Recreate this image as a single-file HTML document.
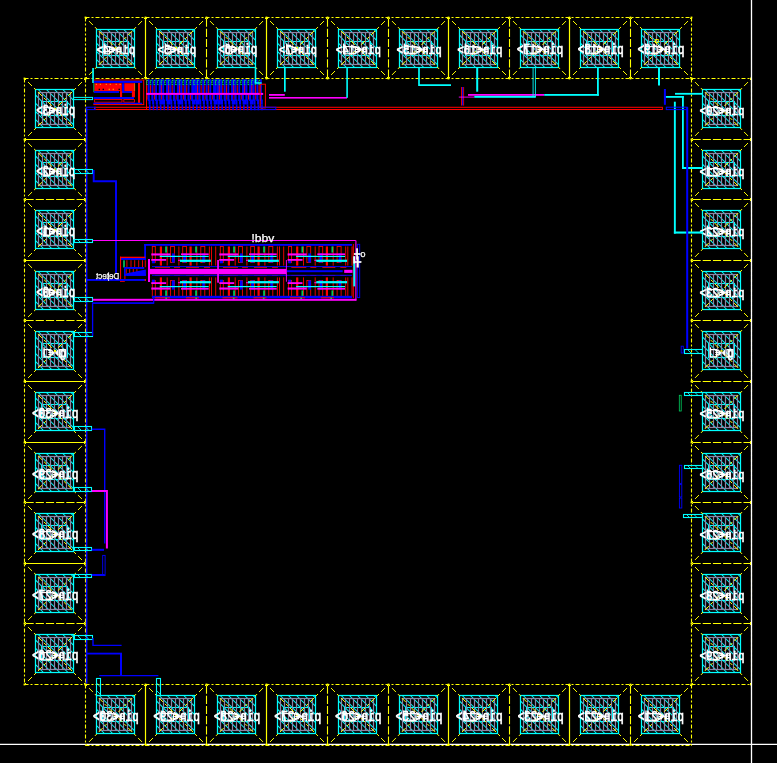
<!DOCTYPE html>
<html><head><meta charset="utf-8"><title>layout</title>
<style>html,body{margin:0;padding:0;background:#000;overflow:hidden}svg{display:block}.t{filter:grayscale(1)}</style></head>
<body>
<svg width="777" height="763" viewBox="0 0 777 763" font-family="Liberation Sans, sans-serif">
<rect width="777" height="763" fill="#000"/>
<line x1="0.00" y1="744.40" x2="777.00" y2="744.40" stroke="#fff" stroke-width="1.3" />
<g id="pads">
<line x1="85.50" y1="17.50" x2="691.50" y2="17.50" stroke="#ffff00" stroke-width="1.1" stroke-dasharray="4 2 2 2"/>
<line x1="85.50" y1="78.50" x2="691.50" y2="78.50" stroke="#ffff00" stroke-width="1.1" stroke-dasharray="4 2 2 2"/>
<line x1="85.50" y1="17.50" x2="85.50" y2="78.50" stroke="#ffff00" stroke-width="1.1" stroke-dasharray="4 2 2 2"/>
<line x1="691.50" y1="17.50" x2="691.50" y2="78.50" stroke="#ffff00" stroke-width="1.1" stroke-dasharray="4 2 2 2"/>
<line x1="145.50" y1="17.50" x2="145.50" y2="78.50" stroke="#ffff00" stroke-width="1.2" />
<line x1="206.50" y1="18.50" x2="206.50" y2="78.50" stroke="#ffff00" stroke-width="1.1" stroke-dasharray="8.2 2"/>
<line x1="266.50" y1="17.50" x2="266.50" y2="78.50" stroke="#ffff00" stroke-width="1.2" />
<line x1="327.50" y1="18.50" x2="327.50" y2="78.50" stroke="#ffff00" stroke-width="1.1" stroke-dasharray="8.2 2"/>
<line x1="388.50" y1="18.50" x2="388.50" y2="78.50" stroke="#ffff00" stroke-width="1.1" stroke-dasharray="8.2 2"/>
<line x1="448.50" y1="17.50" x2="448.50" y2="78.50" stroke="#ffff00" stroke-width="1.2" />
<line x1="509.50" y1="18.50" x2="509.50" y2="78.50" stroke="#ffff00" stroke-width="1.1" stroke-dasharray="8.2 2"/>
<line x1="569.50" y1="17.50" x2="569.50" y2="78.50" stroke="#ffff00" stroke-width="1.2" />
<line x1="630.50" y1="18.50" x2="630.50" y2="78.50" stroke="#ffff00" stroke-width="1.1" stroke-dasharray="8.2 2"/>
<line x1="85.50" y1="684.50" x2="691.50" y2="684.50" stroke="#ffff00" stroke-width="1.1" stroke-dasharray="4 2 2 2"/>
<line x1="85.50" y1="745.50" x2="691.50" y2="745.50" stroke="#ffff00" stroke-width="1.1" stroke-dasharray="4 2 2 2"/>
<line x1="85.50" y1="684.50" x2="85.50" y2="745.50" stroke="#ffff00" stroke-width="1.1" stroke-dasharray="4 2 2 2"/>
<line x1="691.50" y1="684.50" x2="691.50" y2="745.50" stroke="#ffff00" stroke-width="1.1" stroke-dasharray="4 2 2 2"/>
<line x1="145.50" y1="684.50" x2="145.50" y2="745.50" stroke="#ffff00" stroke-width="1.2" />
<line x1="206.50" y1="685.50" x2="206.50" y2="745.50" stroke="#ffff00" stroke-width="1.1" stroke-dasharray="8.2 2"/>
<line x1="266.50" y1="684.50" x2="266.50" y2="745.50" stroke="#ffff00" stroke-width="1.2" />
<line x1="327.50" y1="685.50" x2="327.50" y2="745.50" stroke="#ffff00" stroke-width="1.1" stroke-dasharray="8.2 2"/>
<line x1="388.50" y1="685.50" x2="388.50" y2="745.50" stroke="#ffff00" stroke-width="1.1" stroke-dasharray="8.2 2"/>
<line x1="448.50" y1="684.50" x2="448.50" y2="745.50" stroke="#ffff00" stroke-width="1.2" />
<line x1="509.50" y1="685.50" x2="509.50" y2="745.50" stroke="#ffff00" stroke-width="1.1" stroke-dasharray="8.2 2"/>
<line x1="569.50" y1="684.50" x2="569.50" y2="745.50" stroke="#ffff00" stroke-width="1.2" />
<line x1="630.50" y1="685.50" x2="630.50" y2="745.50" stroke="#ffff00" stroke-width="1.1" stroke-dasharray="8.2 2"/>
<line x1="24.50" y1="78.50" x2="24.50" y2="684.50" stroke="#ffff00" stroke-width="1.1" stroke-dasharray="4 2 2 2"/>
<line x1="85.50" y1="78.50" x2="85.50" y2="684.50" stroke="#ffff00" stroke-width="1.1" stroke-dasharray="4 2 2 2"/>
<line x1="24.50" y1="78.50" x2="85.50" y2="78.50" stroke="#ffff00" stroke-width="1.1" stroke-dasharray="4 2 2 2"/>
<line x1="24.50" y1="684.50" x2="85.50" y2="684.50" stroke="#ffff00" stroke-width="1.1" stroke-dasharray="4 2 2 2"/>
<line x1="24.50" y1="139.50" x2="85.50" y2="139.50" stroke="#ffff00" stroke-width="1.2" />
<line x1="25.50" y1="199.50" x2="85.50" y2="199.50" stroke="#ffff00" stroke-width="1.1" stroke-dasharray="8.2 2"/>
<line x1="24.50" y1="260.50" x2="85.50" y2="260.50" stroke="#ffff00" stroke-width="1.2" />
<line x1="25.50" y1="320.50" x2="85.50" y2="320.50" stroke="#ffff00" stroke-width="1.1" stroke-dasharray="8.2 2"/>
<line x1="24.50" y1="381.50" x2="85.50" y2="381.50" stroke="#ffff00" stroke-width="1.2" />
<line x1="24.50" y1="442.50" x2="85.50" y2="442.50" stroke="#ffff00" stroke-width="1.2" />
<line x1="25.50" y1="502.50" x2="85.50" y2="502.50" stroke="#ffff00" stroke-width="1.1" stroke-dasharray="8.2 2"/>
<line x1="24.50" y1="563.50" x2="85.50" y2="563.50" stroke="#ffff00" stroke-width="1.2" />
<line x1="25.50" y1="623.50" x2="85.50" y2="623.50" stroke="#ffff00" stroke-width="1.1" stroke-dasharray="8.2 2"/>
<line x1="691.50" y1="78.50" x2="691.50" y2="684.50" stroke="#ffff00" stroke-width="1.1" stroke-dasharray="4 2 2 2"/>
<line x1="751.50" y1="78.50" x2="751.50" y2="684.50" stroke="#ffff00" stroke-width="1.1" stroke-dasharray="4 2 2 2"/>
<line x1="691.50" y1="78.50" x2="751.50" y2="78.50" stroke="#ffff00" stroke-width="1.1" stroke-dasharray="4 2 2 2"/>
<line x1="691.50" y1="684.50" x2="751.50" y2="684.50" stroke="#ffff00" stroke-width="1.1" stroke-dasharray="4 2 2 2"/>
<line x1="692.50" y1="139.50" x2="751.50" y2="139.50" stroke="#ffff00" stroke-width="1.1" stroke-dasharray="8.2 2"/>
<line x1="692.50" y1="199.50" x2="751.50" y2="199.50" stroke="#ffff00" stroke-width="1.1" stroke-dasharray="8.2 2"/>
<line x1="692.50" y1="260.50" x2="751.50" y2="260.50" stroke="#ffff00" stroke-width="1.1" stroke-dasharray="8.2 2"/>
<line x1="692.50" y1="320.50" x2="751.50" y2="320.50" stroke="#ffff00" stroke-width="1.1" stroke-dasharray="8.2 2"/>
<line x1="692.50" y1="381.50" x2="751.50" y2="381.50" stroke="#ffff00" stroke-width="1.1" stroke-dasharray="8.2 2"/>
<line x1="692.50" y1="442.50" x2="751.50" y2="442.50" stroke="#ffff00" stroke-width="1.1" stroke-dasharray="8.2 2"/>
<line x1="692.50" y1="502.50" x2="751.50" y2="502.50" stroke="#ffff00" stroke-width="1.1" stroke-dasharray="8.2 2"/>
<line x1="692.50" y1="563.50" x2="751.50" y2="563.50" stroke="#ffff00" stroke-width="1.1" stroke-dasharray="8.2 2"/>
<line x1="692.50" y1="623.50" x2="751.50" y2="623.50" stroke="#ffff00" stroke-width="1.1" stroke-dasharray="8.2 2"/>
<clipPath id="c56"><rect x="96.50" y="29.50" width="38.00" height="38.00"/></clipPath>
<g clip-path="url(#c56)" stroke="#00ffff" stroke-width="1.05">
<line x1="50.00" y1="29.50" x2="88.00" y2="67.50"/>
<line x1="58.20" y1="29.50" x2="96.20" y2="67.50"/>
<line x1="66.40" y1="29.50" x2="104.40" y2="67.50"/>
<line x1="74.60" y1="29.50" x2="112.60" y2="67.50"/>
<line x1="82.80" y1="29.50" x2="120.80" y2="67.50"/>
<line x1="91.00" y1="29.50" x2="129.00" y2="67.50"/>
<line x1="99.20" y1="29.50" x2="137.20" y2="67.50"/>
<line x1="107.40" y1="29.50" x2="145.40" y2="67.50"/>
<line x1="115.60" y1="29.50" x2="153.60" y2="67.50"/>
<line x1="123.80" y1="29.50" x2="161.80" y2="67.50"/>
<line x1="132.00" y1="29.50" x2="170.00" y2="67.50"/>
</g>
<rect x="102.50" y="41.50" width="26.00" height="14.00" fill="none" stroke="#00ffff" stroke-width="1.1" />
<g stroke="#8c84a6" stroke-width="1.25" fill="none">
<rect x="99.50" y="32.50" width="32.00" height="32.00"/>
<line x1="103.50" y1="32.50" x2="103.50" y2="64.50"/>
<line x1="107.50" y1="32.50" x2="107.50" y2="64.50"/>
<line x1="111.50" y1="32.50" x2="111.50" y2="64.50"/>
<line x1="115.50" y1="32.50" x2="115.50" y2="64.50"/>
<line x1="119.50" y1="32.50" x2="119.50" y2="64.50"/>
<line x1="123.50" y1="32.50" x2="123.50" y2="64.50"/>
<line x1="127.50" y1="32.50" x2="127.50" y2="64.50"/>
</g>
<rect x="96.50" y="29.50" width="38.00" height="38.00" fill="none" stroke="#00ffff" stroke-width="1.25" />
<line x1="85.50" y1="17.50" x2="115.50" y2="48.00" stroke="#ffff00" stroke-width="1.0" stroke-dasharray="5.6 2.8 2.8 2.8" stroke-dashoffset="-5"/>
<line x1="145.50" y1="17.50" x2="115.50" y2="48.00" stroke="#ffff00" stroke-width="1.0" stroke-dasharray="5.6 2.8 2.8 2.8" stroke-dashoffset="-5"/>
<line x1="85.50" y1="78.50" x2="115.50" y2="48.00" stroke="#ffff00" stroke-width="1.0" stroke-dasharray="5.6 2.8 2.8 2.8" stroke-dashoffset="-5"/>
<line x1="145.50" y1="78.50" x2="115.50" y2="48.00" stroke="#ffff00" stroke-width="1.0" stroke-dasharray="5.6 2.8 2.8 2.8" stroke-dashoffset="-5"/>
<g class="t">
<text transform="translate(135.20,53.80) scale(-1,1.27)" x="0" y="0" font-family="Liberation Mono, monospace" font-size="10.78" fill="#fff" stroke="#fff" stroke-width="0.55">pin&lt;4&gt;</text>
<line x1="104.27" y1="43.40" x2="104.27" y2="53.80" stroke="#fff" stroke-width="1.25" />
<line x1="110.13" y1="51.60" x2="113.53" y2="51.60" stroke="#fff" stroke-width="1.15" />
<line x1="110.13" y1="49.40" x2="113.53" y2="49.40" stroke="#fff" stroke-width="1.15" />
<line x1="110.13" y1="47.40" x2="113.53" y2="47.40" stroke="#fff" stroke-width="1.15" />
<polygon points="112.53,46.00 118.33,53.20 118.33,46.00 112.53,53.20" fill="#fff"/>
<line x1="116.80" y1="51.60" x2="121.00" y2="51.60" stroke="#fff" stroke-width="1.15" />
<line x1="116.80" y1="49.20" x2="121.00" y2="49.20" stroke="#fff" stroke-width="1.15" />
<rect x="104.27" y="46.60" width="5.27" height="7.20" fill="none" stroke="#fff" stroke-width="1.15" />
</g>
<clipPath id="c97"><rect x="96.50" y="695.50" width="38.00" height="38.00"/></clipPath>
<g clip-path="url(#c97)" stroke="#00ffff" stroke-width="1.05">
<line x1="50.00" y1="695.50" x2="88.00" y2="733.50"/>
<line x1="58.20" y1="695.50" x2="96.20" y2="733.50"/>
<line x1="66.40" y1="695.50" x2="104.40" y2="733.50"/>
<line x1="74.60" y1="695.50" x2="112.60" y2="733.50"/>
<line x1="82.80" y1="695.50" x2="120.80" y2="733.50"/>
<line x1="91.00" y1="695.50" x2="129.00" y2="733.50"/>
<line x1="99.20" y1="695.50" x2="137.20" y2="733.50"/>
<line x1="107.40" y1="695.50" x2="145.40" y2="733.50"/>
<line x1="115.60" y1="695.50" x2="153.60" y2="733.50"/>
<line x1="123.80" y1="695.50" x2="161.80" y2="733.50"/>
<line x1="132.00" y1="695.50" x2="170.00" y2="733.50"/>
</g>
<rect x="102.50" y="707.50" width="26.00" height="14.00" fill="none" stroke="#00ffff" stroke-width="1.1" />
<g stroke="#8c84a6" stroke-width="1.25" fill="none">
<rect x="99.50" y="698.50" width="32.00" height="32.00"/>
<line x1="103.50" y1="698.50" x2="103.50" y2="730.50"/>
<line x1="107.50" y1="698.50" x2="107.50" y2="730.50"/>
<line x1="111.50" y1="698.50" x2="111.50" y2="730.50"/>
<line x1="115.50" y1="698.50" x2="115.50" y2="730.50"/>
<line x1="119.50" y1="698.50" x2="119.50" y2="730.50"/>
<line x1="123.50" y1="698.50" x2="123.50" y2="730.50"/>
<line x1="127.50" y1="698.50" x2="127.50" y2="730.50"/>
</g>
<rect x="96.50" y="695.50" width="38.00" height="38.00" fill="none" stroke="#00ffff" stroke-width="1.25" />
<line x1="85.50" y1="684.50" x2="115.50" y2="715.00" stroke="#ffff00" stroke-width="1.0" stroke-dasharray="5.6 2.8 2.8 2.8" stroke-dashoffset="-5"/>
<line x1="145.50" y1="684.50" x2="115.50" y2="715.00" stroke="#ffff00" stroke-width="1.0" stroke-dasharray="5.6 2.8 2.8 2.8" stroke-dashoffset="-5"/>
<line x1="85.50" y1="745.50" x2="115.50" y2="715.00" stroke="#ffff00" stroke-width="1.0" stroke-dasharray="5.6 2.8 2.8 2.8" stroke-dashoffset="-5"/>
<line x1="145.50" y1="745.50" x2="115.50" y2="715.00" stroke="#ffff00" stroke-width="1.0" stroke-dasharray="5.6 2.8 2.8 2.8" stroke-dashoffset="-5"/>
<g class="t">
<text transform="translate(138.80,720.80) scale(-1,1.27)" x="0" y="0" font-family="Liberation Mono, monospace" font-size="10.90" fill="#fff" stroke="#fff" stroke-width="0.55">pin&lt;30&gt;</text>
<line x1="100.94" y1="710.40" x2="100.94" y2="720.80" stroke="#fff" stroke-width="1.25" />
<line x1="113.43" y1="718.60" x2="116.83" y2="718.60" stroke="#fff" stroke-width="1.15" />
<line x1="113.43" y1="716.40" x2="116.83" y2="716.40" stroke="#fff" stroke-width="1.15" />
<line x1="113.43" y1="714.40" x2="116.83" y2="714.40" stroke="#fff" stroke-width="1.15" />
<polygon points="115.83,713.00 121.63,720.20 121.63,713.00 115.83,720.20" fill="#fff"/>
<line x1="120.17" y1="718.60" x2="124.37" y2="718.60" stroke="#fff" stroke-width="1.15" />
<line x1="120.17" y1="716.20" x2="124.37" y2="716.20" stroke="#fff" stroke-width="1.15" />
<rect x="100.94" y="713.60" width="11.89" height="7.20" fill="none" stroke="#fff" stroke-width="1.15" />
</g>
<clipPath id="c138"><rect x="35.50" y="89.50" width="38.00" height="38.00"/></clipPath>
<g clip-path="url(#c138)" stroke="#00ffff" stroke-width="1.05">
<line x1="-11.00" y1="89.50" x2="27.00" y2="127.50"/>
<line x1="-2.80" y1="89.50" x2="35.20" y2="127.50"/>
<line x1="5.40" y1="89.50" x2="43.40" y2="127.50"/>
<line x1="13.60" y1="89.50" x2="51.60" y2="127.50"/>
<line x1="21.80" y1="89.50" x2="59.80" y2="127.50"/>
<line x1="30.00" y1="89.50" x2="68.00" y2="127.50"/>
<line x1="38.20" y1="89.50" x2="76.20" y2="127.50"/>
<line x1="46.40" y1="89.50" x2="84.40" y2="127.50"/>
<line x1="54.60" y1="89.50" x2="92.60" y2="127.50"/>
<line x1="62.80" y1="89.50" x2="100.80" y2="127.50"/>
<line x1="71.00" y1="89.50" x2="109.00" y2="127.50"/>
</g>
<rect x="41.50" y="101.50" width="26.00" height="14.00" fill="none" stroke="#00ffff" stroke-width="1.1" />
<g stroke="#8c84a6" stroke-width="1.25" fill="none">
<rect x="38.50" y="92.50" width="32.00" height="32.00"/>
<line x1="42.50" y1="92.50" x2="42.50" y2="124.50"/>
<line x1="46.50" y1="92.50" x2="46.50" y2="124.50"/>
<line x1="50.50" y1="92.50" x2="50.50" y2="124.50"/>
<line x1="54.50" y1="92.50" x2="54.50" y2="124.50"/>
<line x1="58.50" y1="92.50" x2="58.50" y2="124.50"/>
<line x1="62.50" y1="92.50" x2="62.50" y2="124.50"/>
<line x1="66.50" y1="92.50" x2="66.50" y2="124.50"/>
</g>
<rect x="35.50" y="89.50" width="38.00" height="38.00" fill="none" stroke="#00ffff" stroke-width="1.25" />
<line x1="24.50" y1="78.50" x2="55.00" y2="109.00" stroke="#ffff00" stroke-width="1.0" stroke-dasharray="5.6 2.8 2.8 2.8" stroke-dashoffset="-5"/>
<line x1="85.50" y1="78.50" x2="55.00" y2="109.00" stroke="#ffff00" stroke-width="1.0" stroke-dasharray="5.6 2.8 2.8 2.8" stroke-dashoffset="-5"/>
<line x1="24.50" y1="139.50" x2="55.00" y2="109.00" stroke="#ffff00" stroke-width="1.0" stroke-dasharray="5.6 2.8 2.8 2.8" stroke-dashoffset="-5"/>
<line x1="85.50" y1="139.50" x2="55.00" y2="109.00" stroke="#ffff00" stroke-width="1.0" stroke-dasharray="5.6 2.8 2.8 2.8" stroke-dashoffset="-5"/>
<g class="t">
<text transform="translate(75.30,114.80) scale(-1,1.27)" x="0" y="0" font-family="Liberation Mono, monospace" font-size="10.83" fill="#fff" stroke="#fff" stroke-width="0.55">pin&lt;3&gt;</text>
<line x1="44.20" y1="104.40" x2="44.20" y2="114.80" stroke="#fff" stroke-width="1.25" />
<line x1="50.10" y1="112.60" x2="53.50" y2="112.60" stroke="#fff" stroke-width="1.15" />
<line x1="50.10" y1="110.40" x2="53.50" y2="110.40" stroke="#fff" stroke-width="1.15" />
<line x1="50.10" y1="108.40" x2="53.50" y2="108.40" stroke="#fff" stroke-width="1.15" />
<polygon points="52.50,107.00 58.30,114.20 58.30,107.00 52.50,114.20" fill="#fff"/>
<line x1="56.80" y1="112.60" x2="61.00" y2="112.60" stroke="#fff" stroke-width="1.15" />
<line x1="56.80" y1="110.20" x2="61.00" y2="110.20" stroke="#fff" stroke-width="1.15" />
<rect x="44.20" y="107.60" width="5.30" height="7.20" fill="none" stroke="#fff" stroke-width="1.15" />
</g>
<clipPath id="c179"><rect x="702.50" y="89.50" width="38.00" height="38.00"/></clipPath>
<g clip-path="url(#c179)" stroke="#00ffff" stroke-width="1.05">
<line x1="656.00" y1="89.50" x2="694.00" y2="127.50"/>
<line x1="664.20" y1="89.50" x2="702.20" y2="127.50"/>
<line x1="672.40" y1="89.50" x2="710.40" y2="127.50"/>
<line x1="680.60" y1="89.50" x2="718.60" y2="127.50"/>
<line x1="688.80" y1="89.50" x2="726.80" y2="127.50"/>
<line x1="697.00" y1="89.50" x2="735.00" y2="127.50"/>
<line x1="705.20" y1="89.50" x2="743.20" y2="127.50"/>
<line x1="713.40" y1="89.50" x2="751.40" y2="127.50"/>
<line x1="721.60" y1="89.50" x2="759.60" y2="127.50"/>
<line x1="729.80" y1="89.50" x2="767.80" y2="127.50"/>
<line x1="738.00" y1="89.50" x2="776.00" y2="127.50"/>
</g>
<rect x="708.50" y="101.50" width="26.00" height="14.00" fill="none" stroke="#00ffff" stroke-width="1.1" />
<g stroke="#8c84a6" stroke-width="1.25" fill="none">
<rect x="705.50" y="92.50" width="32.00" height="32.00"/>
<line x1="709.50" y1="92.50" x2="709.50" y2="124.50"/>
<line x1="713.50" y1="92.50" x2="713.50" y2="124.50"/>
<line x1="717.50" y1="92.50" x2="717.50" y2="124.50"/>
<line x1="721.50" y1="92.50" x2="721.50" y2="124.50"/>
<line x1="725.50" y1="92.50" x2="725.50" y2="124.50"/>
<line x1="729.50" y1="92.50" x2="729.50" y2="124.50"/>
<line x1="733.50" y1="92.50" x2="733.50" y2="124.50"/>
</g>
<rect x="702.50" y="89.50" width="38.00" height="38.00" fill="none" stroke="#00ffff" stroke-width="1.25" />
<line x1="691.50" y1="78.50" x2="721.50" y2="109.00" stroke="#ffff00" stroke-width="1.0" stroke-dasharray="5.6 2.8 2.8 2.8" stroke-dashoffset="-5"/>
<line x1="751.50" y1="78.50" x2="721.50" y2="109.00" stroke="#ffff00" stroke-width="1.0" stroke-dasharray="5.6 2.8 2.8 2.8" stroke-dashoffset="-5"/>
<line x1="691.50" y1="139.50" x2="721.50" y2="109.00" stroke="#ffff00" stroke-width="1.0" stroke-dasharray="5.6 2.8 2.8 2.8" stroke-dashoffset="-5"/>
<line x1="751.50" y1="139.50" x2="721.50" y2="109.00" stroke="#ffff00" stroke-width="1.0" stroke-dasharray="5.6 2.8 2.8 2.8" stroke-dashoffset="-5"/>
<g class="t">
<text transform="translate(744.50,114.80) scale(-1,1.27)" x="0" y="0" font-family="Liberation Mono, monospace" font-size="10.71" fill="#fff" stroke="#fff" stroke-width="0.55">pin&lt;20&gt;</text>
<line x1="707.33" y1="104.40" x2="707.33" y2="114.80" stroke="#fff" stroke-width="1.25" />
<line x1="719.59" y1="112.60" x2="722.99" y2="112.60" stroke="#fff" stroke-width="1.15" />
<line x1="719.59" y1="110.40" x2="722.99" y2="110.40" stroke="#fff" stroke-width="1.15" />
<line x1="719.59" y1="108.40" x2="722.99" y2="108.40" stroke="#fff" stroke-width="1.15" />
<polygon points="721.99,107.00 727.79,114.20 727.79,107.00 721.99,114.20" fill="#fff"/>
<line x1="726.21" y1="112.60" x2="730.41" y2="112.60" stroke="#fff" stroke-width="1.15" />
<line x1="726.21" y1="110.20" x2="730.41" y2="110.20" stroke="#fff" stroke-width="1.15" />
<rect x="707.33" y="107.60" width="11.66" height="7.20" fill="none" stroke="#fff" stroke-width="1.15" />
</g>
<clipPath id="c220"><rect x="156.50" y="29.50" width="38.00" height="38.00"/></clipPath>
<g clip-path="url(#c220)" stroke="#00ffff" stroke-width="1.05">
<line x1="110.00" y1="29.50" x2="148.00" y2="67.50"/>
<line x1="118.20" y1="29.50" x2="156.20" y2="67.50"/>
<line x1="126.40" y1="29.50" x2="164.40" y2="67.50"/>
<line x1="134.60" y1="29.50" x2="172.60" y2="67.50"/>
<line x1="142.80" y1="29.50" x2="180.80" y2="67.50"/>
<line x1="151.00" y1="29.50" x2="189.00" y2="67.50"/>
<line x1="159.20" y1="29.50" x2="197.20" y2="67.50"/>
<line x1="167.40" y1="29.50" x2="205.40" y2="67.50"/>
<line x1="175.60" y1="29.50" x2="213.60" y2="67.50"/>
<line x1="183.80" y1="29.50" x2="221.80" y2="67.50"/>
<line x1="192.00" y1="29.50" x2="230.00" y2="67.50"/>
</g>
<rect x="162.50" y="41.50" width="26.00" height="14.00" fill="none" stroke="#00ffff" stroke-width="1.1" />
<g stroke="#8c84a6" stroke-width="1.25" fill="none">
<rect x="159.50" y="32.50" width="32.00" height="32.00"/>
<line x1="163.50" y1="32.50" x2="163.50" y2="64.50"/>
<line x1="167.50" y1="32.50" x2="167.50" y2="64.50"/>
<line x1="171.50" y1="32.50" x2="171.50" y2="64.50"/>
<line x1="175.50" y1="32.50" x2="175.50" y2="64.50"/>
<line x1="179.50" y1="32.50" x2="179.50" y2="64.50"/>
<line x1="183.50" y1="32.50" x2="183.50" y2="64.50"/>
<line x1="187.50" y1="32.50" x2="187.50" y2="64.50"/>
</g>
<rect x="156.50" y="29.50" width="38.00" height="38.00" fill="none" stroke="#00ffff" stroke-width="1.25" />
<line x1="145.50" y1="17.50" x2="176.00" y2="48.00" stroke="#ffff00" stroke-width="1.0" stroke-dasharray="5.6 2.8 2.8 2.8" stroke-dashoffset="-5"/>
<line x1="206.50" y1="17.50" x2="176.00" y2="48.00" stroke="#ffff00" stroke-width="1.0" stroke-dasharray="5.6 2.8 2.8 2.8" stroke-dashoffset="-5"/>
<line x1="145.50" y1="78.50" x2="176.00" y2="48.00" stroke="#ffff00" stroke-width="1.0" stroke-dasharray="5.6 2.8 2.8 2.8" stroke-dashoffset="-5"/>
<line x1="206.50" y1="78.50" x2="176.00" y2="48.00" stroke="#ffff00" stroke-width="1.0" stroke-dasharray="5.6 2.8 2.8 2.8" stroke-dashoffset="-5"/>
<g class="t">
<text transform="translate(196.30,53.80) scale(-1,1.27)" x="0" y="0" font-family="Liberation Mono, monospace" font-size="10.78" fill="#fff" stroke="#fff" stroke-width="0.55">pin&lt;5&gt;</text>
<line x1="165.37" y1="43.40" x2="165.37" y2="53.80" stroke="#fff" stroke-width="1.25" />
<line x1="171.23" y1="51.60" x2="174.63" y2="51.60" stroke="#fff" stroke-width="1.15" />
<line x1="171.23" y1="49.40" x2="174.63" y2="49.40" stroke="#fff" stroke-width="1.15" />
<line x1="171.23" y1="47.40" x2="174.63" y2="47.40" stroke="#fff" stroke-width="1.15" />
<polygon points="173.63,46.00 179.43,53.20 179.43,46.00 173.63,53.20" fill="#fff"/>
<line x1="177.90" y1="51.60" x2="182.10" y2="51.60" stroke="#fff" stroke-width="1.15" />
<line x1="177.90" y1="49.20" x2="182.10" y2="49.20" stroke="#fff" stroke-width="1.15" />
<rect x="165.37" y="46.60" width="5.27" height="7.20" fill="none" stroke="#fff" stroke-width="1.15" />
</g>
<clipPath id="c261"><rect x="156.50" y="695.50" width="38.00" height="38.00"/></clipPath>
<g clip-path="url(#c261)" stroke="#00ffff" stroke-width="1.05">
<line x1="110.00" y1="695.50" x2="148.00" y2="733.50"/>
<line x1="118.20" y1="695.50" x2="156.20" y2="733.50"/>
<line x1="126.40" y1="695.50" x2="164.40" y2="733.50"/>
<line x1="134.60" y1="695.50" x2="172.60" y2="733.50"/>
<line x1="142.80" y1="695.50" x2="180.80" y2="733.50"/>
<line x1="151.00" y1="695.50" x2="189.00" y2="733.50"/>
<line x1="159.20" y1="695.50" x2="197.20" y2="733.50"/>
<line x1="167.40" y1="695.50" x2="205.40" y2="733.50"/>
<line x1="175.60" y1="695.50" x2="213.60" y2="733.50"/>
<line x1="183.80" y1="695.50" x2="221.80" y2="733.50"/>
<line x1="192.00" y1="695.50" x2="230.00" y2="733.50"/>
</g>
<rect x="162.50" y="707.50" width="26.00" height="14.00" fill="none" stroke="#00ffff" stroke-width="1.1" />
<g stroke="#8c84a6" stroke-width="1.25" fill="none">
<rect x="159.50" y="698.50" width="32.00" height="32.00"/>
<line x1="163.50" y1="698.50" x2="163.50" y2="730.50"/>
<line x1="167.50" y1="698.50" x2="167.50" y2="730.50"/>
<line x1="171.50" y1="698.50" x2="171.50" y2="730.50"/>
<line x1="175.50" y1="698.50" x2="175.50" y2="730.50"/>
<line x1="179.50" y1="698.50" x2="179.50" y2="730.50"/>
<line x1="183.50" y1="698.50" x2="183.50" y2="730.50"/>
<line x1="187.50" y1="698.50" x2="187.50" y2="730.50"/>
</g>
<rect x="156.50" y="695.50" width="38.00" height="38.00" fill="none" stroke="#00ffff" stroke-width="1.25" />
<line x1="145.50" y1="684.50" x2="176.00" y2="715.00" stroke="#ffff00" stroke-width="1.0" stroke-dasharray="5.6 2.8 2.8 2.8" stroke-dashoffset="-5"/>
<line x1="206.50" y1="684.50" x2="176.00" y2="715.00" stroke="#ffff00" stroke-width="1.0" stroke-dasharray="5.6 2.8 2.8 2.8" stroke-dashoffset="-5"/>
<line x1="145.50" y1="745.50" x2="176.00" y2="715.00" stroke="#ffff00" stroke-width="1.0" stroke-dasharray="5.6 2.8 2.8 2.8" stroke-dashoffset="-5"/>
<line x1="206.50" y1="745.50" x2="176.00" y2="715.00" stroke="#ffff00" stroke-width="1.0" stroke-dasharray="5.6 2.8 2.8 2.8" stroke-dashoffset="-5"/>
<g class="t">
<text transform="translate(200.00,720.80) scale(-1,1.27)" x="0" y="0" font-family="Liberation Mono, monospace" font-size="11.14" fill="#fff" stroke="#fff" stroke-width="0.55">pin&lt;29&gt;</text>
<line x1="161.29" y1="710.40" x2="161.29" y2="720.80" stroke="#fff" stroke-width="1.25" />
<line x1="174.06" y1="718.60" x2="177.46" y2="718.60" stroke="#fff" stroke-width="1.15" />
<line x1="174.06" y1="716.40" x2="177.46" y2="716.40" stroke="#fff" stroke-width="1.15" />
<line x1="174.06" y1="714.40" x2="177.46" y2="714.40" stroke="#fff" stroke-width="1.15" />
<polygon points="176.46,713.00 182.26,720.20 182.26,713.00 176.46,720.20" fill="#fff"/>
<line x1="180.94" y1="718.60" x2="185.14" y2="718.60" stroke="#fff" stroke-width="1.15" />
<line x1="180.94" y1="716.20" x2="185.14" y2="716.20" stroke="#fff" stroke-width="1.15" />
<rect x="161.29" y="713.60" width="12.17" height="7.20" fill="none" stroke="#fff" stroke-width="1.15" />
</g>
<clipPath id="c302"><rect x="35.50" y="150.50" width="38.00" height="38.00"/></clipPath>
<g clip-path="url(#c302)" stroke="#00ffff" stroke-width="1.05">
<line x1="-11.00" y1="150.50" x2="27.00" y2="188.50"/>
<line x1="-2.80" y1="150.50" x2="35.20" y2="188.50"/>
<line x1="5.40" y1="150.50" x2="43.40" y2="188.50"/>
<line x1="13.60" y1="150.50" x2="51.60" y2="188.50"/>
<line x1="21.80" y1="150.50" x2="59.80" y2="188.50"/>
<line x1="30.00" y1="150.50" x2="68.00" y2="188.50"/>
<line x1="38.20" y1="150.50" x2="76.20" y2="188.50"/>
<line x1="46.40" y1="150.50" x2="84.40" y2="188.50"/>
<line x1="54.60" y1="150.50" x2="92.60" y2="188.50"/>
<line x1="62.80" y1="150.50" x2="100.80" y2="188.50"/>
<line x1="71.00" y1="150.50" x2="109.00" y2="188.50"/>
</g>
<rect x="41.50" y="162.50" width="26.00" height="14.00" fill="none" stroke="#00ffff" stroke-width="1.1" />
<g stroke="#8c84a6" stroke-width="1.25" fill="none">
<rect x="38.50" y="153.50" width="32.00" height="32.00"/>
<line x1="42.50" y1="153.50" x2="42.50" y2="185.50"/>
<line x1="46.50" y1="153.50" x2="46.50" y2="185.50"/>
<line x1="50.50" y1="153.50" x2="50.50" y2="185.50"/>
<line x1="54.50" y1="153.50" x2="54.50" y2="185.50"/>
<line x1="58.50" y1="153.50" x2="58.50" y2="185.50"/>
<line x1="62.50" y1="153.50" x2="62.50" y2="185.50"/>
<line x1="66.50" y1="153.50" x2="66.50" y2="185.50"/>
</g>
<rect x="35.50" y="150.50" width="38.00" height="38.00" fill="none" stroke="#00ffff" stroke-width="1.25" />
<line x1="24.50" y1="139.50" x2="55.00" y2="169.50" stroke="#ffff00" stroke-width="1.0" stroke-dasharray="5.6 2.8 2.8 2.8" stroke-dashoffset="-5"/>
<line x1="85.50" y1="139.50" x2="55.00" y2="169.50" stroke="#ffff00" stroke-width="1.0" stroke-dasharray="5.6 2.8 2.8 2.8" stroke-dashoffset="-5"/>
<line x1="24.50" y1="199.50" x2="55.00" y2="169.50" stroke="#ffff00" stroke-width="1.0" stroke-dasharray="5.6 2.8 2.8 2.8" stroke-dashoffset="-5"/>
<line x1="85.50" y1="199.50" x2="55.00" y2="169.50" stroke="#ffff00" stroke-width="1.0" stroke-dasharray="5.6 2.8 2.8 2.8" stroke-dashoffset="-5"/>
<g class="t">
<text transform="translate(75.30,175.80) scale(-1,1.27)" x="0" y="0" font-family="Liberation Mono, monospace" font-size="10.83" fill="#fff" stroke="#fff" stroke-width="0.55">pin&lt;2&gt;</text>
<line x1="44.20" y1="165.40" x2="44.20" y2="175.80" stroke="#fff" stroke-width="1.25" />
<line x1="50.10" y1="173.60" x2="53.50" y2="173.60" stroke="#fff" stroke-width="1.15" />
<line x1="50.10" y1="171.40" x2="53.50" y2="171.40" stroke="#fff" stroke-width="1.15" />
<line x1="50.10" y1="169.40" x2="53.50" y2="169.40" stroke="#fff" stroke-width="1.15" />
<polygon points="52.50,168.00 58.30,175.20 58.30,168.00 52.50,175.20" fill="#fff"/>
<line x1="56.80" y1="173.60" x2="61.00" y2="173.60" stroke="#fff" stroke-width="1.15" />
<line x1="56.80" y1="171.20" x2="61.00" y2="171.20" stroke="#fff" stroke-width="1.15" />
<rect x="44.20" y="168.60" width="5.30" height="7.20" fill="none" stroke="#fff" stroke-width="1.15" />
</g>
<clipPath id="c343"><rect x="702.50" y="150.50" width="38.00" height="38.00"/></clipPath>
<g clip-path="url(#c343)" stroke="#00ffff" stroke-width="1.05">
<line x1="656.00" y1="150.50" x2="694.00" y2="188.50"/>
<line x1="664.20" y1="150.50" x2="702.20" y2="188.50"/>
<line x1="672.40" y1="150.50" x2="710.40" y2="188.50"/>
<line x1="680.60" y1="150.50" x2="718.60" y2="188.50"/>
<line x1="688.80" y1="150.50" x2="726.80" y2="188.50"/>
<line x1="697.00" y1="150.50" x2="735.00" y2="188.50"/>
<line x1="705.20" y1="150.50" x2="743.20" y2="188.50"/>
<line x1="713.40" y1="150.50" x2="751.40" y2="188.50"/>
<line x1="721.60" y1="150.50" x2="759.60" y2="188.50"/>
<line x1="729.80" y1="150.50" x2="767.80" y2="188.50"/>
<line x1="738.00" y1="150.50" x2="776.00" y2="188.50"/>
</g>
<rect x="708.50" y="162.50" width="26.00" height="14.00" fill="none" stroke="#00ffff" stroke-width="1.1" />
<g stroke="#8c84a6" stroke-width="1.25" fill="none">
<rect x="705.50" y="153.50" width="32.00" height="32.00"/>
<line x1="709.50" y1="153.50" x2="709.50" y2="185.50"/>
<line x1="713.50" y1="153.50" x2="713.50" y2="185.50"/>
<line x1="717.50" y1="153.50" x2="717.50" y2="185.50"/>
<line x1="721.50" y1="153.50" x2="721.50" y2="185.50"/>
<line x1="725.50" y1="153.50" x2="725.50" y2="185.50"/>
<line x1="729.50" y1="153.50" x2="729.50" y2="185.50"/>
<line x1="733.50" y1="153.50" x2="733.50" y2="185.50"/>
</g>
<rect x="702.50" y="150.50" width="38.00" height="38.00" fill="none" stroke="#00ffff" stroke-width="1.25" />
<line x1="691.50" y1="139.50" x2="721.50" y2="169.50" stroke="#ffff00" stroke-width="1.0" stroke-dasharray="5.6 2.8 2.8 2.8" stroke-dashoffset="-5"/>
<line x1="751.50" y1="139.50" x2="721.50" y2="169.50" stroke="#ffff00" stroke-width="1.0" stroke-dasharray="5.6 2.8 2.8 2.8" stroke-dashoffset="-5"/>
<line x1="691.50" y1="199.50" x2="721.50" y2="169.50" stroke="#ffff00" stroke-width="1.0" stroke-dasharray="5.6 2.8 2.8 2.8" stroke-dashoffset="-5"/>
<line x1="751.50" y1="199.50" x2="721.50" y2="169.50" stroke="#ffff00" stroke-width="1.0" stroke-dasharray="5.6 2.8 2.8 2.8" stroke-dashoffset="-5"/>
<g class="t">
<text transform="translate(744.50,175.80) scale(-1,1.27)" x="0" y="0" font-family="Liberation Mono, monospace" font-size="10.71" fill="#fff" stroke="#fff" stroke-width="0.55">pin&lt;21&gt;</text>
<line x1="707.33" y1="165.40" x2="707.33" y2="175.80" stroke="#fff" stroke-width="1.25" />
<line x1="719.59" y1="173.60" x2="722.99" y2="173.60" stroke="#fff" stroke-width="1.15" />
<line x1="719.59" y1="171.40" x2="722.99" y2="171.40" stroke="#fff" stroke-width="1.15" />
<line x1="719.59" y1="169.40" x2="722.99" y2="169.40" stroke="#fff" stroke-width="1.15" />
<polygon points="721.99,168.00 727.79,175.20 727.79,168.00 721.99,175.20" fill="#fff"/>
<line x1="726.21" y1="173.60" x2="730.41" y2="173.60" stroke="#fff" stroke-width="1.15" />
<line x1="726.21" y1="171.20" x2="730.41" y2="171.20" stroke="#fff" stroke-width="1.15" />
<rect x="707.33" y="168.60" width="11.66" height="7.20" fill="none" stroke="#fff" stroke-width="1.15" />
</g>
<clipPath id="c384"><rect x="217.50" y="29.50" width="38.00" height="38.00"/></clipPath>
<g clip-path="url(#c384)" stroke="#00ffff" stroke-width="1.05">
<line x1="171.00" y1="29.50" x2="209.00" y2="67.50"/>
<line x1="179.20" y1="29.50" x2="217.20" y2="67.50"/>
<line x1="187.40" y1="29.50" x2="225.40" y2="67.50"/>
<line x1="195.60" y1="29.50" x2="233.60" y2="67.50"/>
<line x1="203.80" y1="29.50" x2="241.80" y2="67.50"/>
<line x1="212.00" y1="29.50" x2="250.00" y2="67.50"/>
<line x1="220.20" y1="29.50" x2="258.20" y2="67.50"/>
<line x1="228.40" y1="29.50" x2="266.40" y2="67.50"/>
<line x1="236.60" y1="29.50" x2="274.60" y2="67.50"/>
<line x1="244.80" y1="29.50" x2="282.80" y2="67.50"/>
<line x1="253.00" y1="29.50" x2="291.00" y2="67.50"/>
</g>
<rect x="223.50" y="41.50" width="26.00" height="14.00" fill="none" stroke="#00ffff" stroke-width="1.1" />
<g stroke="#8c84a6" stroke-width="1.25" fill="none">
<rect x="220.50" y="32.50" width="32.00" height="32.00"/>
<line x1="224.50" y1="32.50" x2="224.50" y2="64.50"/>
<line x1="228.50" y1="32.50" x2="228.50" y2="64.50"/>
<line x1="232.50" y1="32.50" x2="232.50" y2="64.50"/>
<line x1="236.50" y1="32.50" x2="236.50" y2="64.50"/>
<line x1="240.50" y1="32.50" x2="240.50" y2="64.50"/>
<line x1="244.50" y1="32.50" x2="244.50" y2="64.50"/>
<line x1="248.50" y1="32.50" x2="248.50" y2="64.50"/>
</g>
<rect x="217.50" y="29.50" width="38.00" height="38.00" fill="none" stroke="#00ffff" stroke-width="1.25" />
<line x1="206.50" y1="17.50" x2="236.50" y2="48.00" stroke="#ffff00" stroke-width="1.0" stroke-dasharray="5.6 2.8 2.8 2.8" stroke-dashoffset="-5"/>
<line x1="266.50" y1="17.50" x2="236.50" y2="48.00" stroke="#ffff00" stroke-width="1.0" stroke-dasharray="5.6 2.8 2.8 2.8" stroke-dashoffset="-5"/>
<line x1="206.50" y1="78.50" x2="236.50" y2="48.00" stroke="#ffff00" stroke-width="1.0" stroke-dasharray="5.6 2.8 2.8 2.8" stroke-dashoffset="-5"/>
<line x1="266.50" y1="78.50" x2="236.50" y2="48.00" stroke="#ffff00" stroke-width="1.0" stroke-dasharray="5.6 2.8 2.8 2.8" stroke-dashoffset="-5"/>
<g class="t">
<text transform="translate(257.30,53.80) scale(-1,1.27)" x="0" y="0" font-family="Liberation Mono, monospace" font-size="10.83" fill="#fff" stroke="#fff" stroke-width="0.55">pin&lt;6&gt;</text>
<line x1="226.20" y1="43.40" x2="226.20" y2="53.80" stroke="#fff" stroke-width="1.25" />
<line x1="232.10" y1="51.60" x2="235.50" y2="51.60" stroke="#fff" stroke-width="1.15" />
<line x1="232.10" y1="49.40" x2="235.50" y2="49.40" stroke="#fff" stroke-width="1.15" />
<line x1="232.10" y1="47.40" x2="235.50" y2="47.40" stroke="#fff" stroke-width="1.15" />
<polygon points="234.50,46.00 240.30,53.20 240.30,46.00 234.50,53.20" fill="#fff"/>
<line x1="238.80" y1="51.60" x2="243.00" y2="51.60" stroke="#fff" stroke-width="1.15" />
<line x1="238.80" y1="49.20" x2="243.00" y2="49.20" stroke="#fff" stroke-width="1.15" />
<rect x="226.20" y="46.60" width="5.30" height="7.20" fill="none" stroke="#fff" stroke-width="1.15" />
</g>
<clipPath id="c425"><rect x="217.50" y="695.50" width="38.00" height="38.00"/></clipPath>
<g clip-path="url(#c425)" stroke="#00ffff" stroke-width="1.05">
<line x1="171.00" y1="695.50" x2="209.00" y2="733.50"/>
<line x1="179.20" y1="695.50" x2="217.20" y2="733.50"/>
<line x1="187.40" y1="695.50" x2="225.40" y2="733.50"/>
<line x1="195.60" y1="695.50" x2="233.60" y2="733.50"/>
<line x1="203.80" y1="695.50" x2="241.80" y2="733.50"/>
<line x1="212.00" y1="695.50" x2="250.00" y2="733.50"/>
<line x1="220.20" y1="695.50" x2="258.20" y2="733.50"/>
<line x1="228.40" y1="695.50" x2="266.40" y2="733.50"/>
<line x1="236.60" y1="695.50" x2="274.60" y2="733.50"/>
<line x1="244.80" y1="695.50" x2="282.80" y2="733.50"/>
<line x1="253.00" y1="695.50" x2="291.00" y2="733.50"/>
</g>
<rect x="223.50" y="707.50" width="26.00" height="14.00" fill="none" stroke="#00ffff" stroke-width="1.1" />
<g stroke="#8c84a6" stroke-width="1.25" fill="none">
<rect x="220.50" y="698.50" width="32.00" height="32.00"/>
<line x1="224.50" y1="698.50" x2="224.50" y2="730.50"/>
<line x1="228.50" y1="698.50" x2="228.50" y2="730.50"/>
<line x1="232.50" y1="698.50" x2="232.50" y2="730.50"/>
<line x1="236.50" y1="698.50" x2="236.50" y2="730.50"/>
<line x1="240.50" y1="698.50" x2="240.50" y2="730.50"/>
<line x1="244.50" y1="698.50" x2="244.50" y2="730.50"/>
<line x1="248.50" y1="698.50" x2="248.50" y2="730.50"/>
</g>
<rect x="217.50" y="695.50" width="38.00" height="38.00" fill="none" stroke="#00ffff" stroke-width="1.25" />
<line x1="206.50" y1="684.50" x2="236.50" y2="715.00" stroke="#ffff00" stroke-width="1.0" stroke-dasharray="5.6 2.8 2.8 2.8" stroke-dashoffset="-5"/>
<line x1="266.50" y1="684.50" x2="236.50" y2="715.00" stroke="#ffff00" stroke-width="1.0" stroke-dasharray="5.6 2.8 2.8 2.8" stroke-dashoffset="-5"/>
<line x1="206.50" y1="745.50" x2="236.50" y2="715.00" stroke="#ffff00" stroke-width="1.0" stroke-dasharray="5.6 2.8 2.8 2.8" stroke-dashoffset="-5"/>
<line x1="266.50" y1="745.50" x2="236.50" y2="715.00" stroke="#ffff00" stroke-width="1.0" stroke-dasharray="5.6 2.8 2.8 2.8" stroke-dashoffset="-5"/>
<g class="t">
<text transform="translate(260.30,720.80) scale(-1,1.27)" x="0" y="0" font-family="Liberation Mono, monospace" font-size="11.10" fill="#fff" stroke="#fff" stroke-width="0.55">pin&lt;28&gt;</text>
<line x1="221.76" y1="710.40" x2="221.76" y2="720.80" stroke="#fff" stroke-width="1.25" />
<line x1="234.47" y1="718.60" x2="237.87" y2="718.60" stroke="#fff" stroke-width="1.15" />
<line x1="234.47" y1="716.40" x2="237.87" y2="716.40" stroke="#fff" stroke-width="1.15" />
<line x1="234.47" y1="714.40" x2="237.87" y2="714.40" stroke="#fff" stroke-width="1.15" />
<polygon points="236.87,713.00 242.67,720.20 242.67,713.00 236.87,720.20" fill="#fff"/>
<line x1="241.33" y1="718.60" x2="245.53" y2="718.60" stroke="#fff" stroke-width="1.15" />
<line x1="241.33" y1="716.20" x2="245.53" y2="716.20" stroke="#fff" stroke-width="1.15" />
<rect x="221.76" y="713.60" width="12.11" height="7.20" fill="none" stroke="#fff" stroke-width="1.15" />
</g>
<clipPath id="c466"><rect x="35.50" y="210.50" width="38.00" height="38.00"/></clipPath>
<g clip-path="url(#c466)" stroke="#00ffff" stroke-width="1.05">
<line x1="-11.00" y1="210.50" x2="27.00" y2="248.50"/>
<line x1="-2.80" y1="210.50" x2="35.20" y2="248.50"/>
<line x1="5.40" y1="210.50" x2="43.40" y2="248.50"/>
<line x1="13.60" y1="210.50" x2="51.60" y2="248.50"/>
<line x1="21.80" y1="210.50" x2="59.80" y2="248.50"/>
<line x1="30.00" y1="210.50" x2="68.00" y2="248.50"/>
<line x1="38.20" y1="210.50" x2="76.20" y2="248.50"/>
<line x1="46.40" y1="210.50" x2="84.40" y2="248.50"/>
<line x1="54.60" y1="210.50" x2="92.60" y2="248.50"/>
<line x1="62.80" y1="210.50" x2="100.80" y2="248.50"/>
<line x1="71.00" y1="210.50" x2="109.00" y2="248.50"/>
</g>
<rect x="41.50" y="222.50" width="26.00" height="14.00" fill="none" stroke="#00ffff" stroke-width="1.1" />
<g stroke="#8c84a6" stroke-width="1.25" fill="none">
<rect x="38.50" y="213.50" width="32.00" height="32.00"/>
<line x1="42.50" y1="213.50" x2="42.50" y2="245.50"/>
<line x1="46.50" y1="213.50" x2="46.50" y2="245.50"/>
<line x1="50.50" y1="213.50" x2="50.50" y2="245.50"/>
<line x1="54.50" y1="213.50" x2="54.50" y2="245.50"/>
<line x1="58.50" y1="213.50" x2="58.50" y2="245.50"/>
<line x1="62.50" y1="213.50" x2="62.50" y2="245.50"/>
<line x1="66.50" y1="213.50" x2="66.50" y2="245.50"/>
</g>
<rect x="35.50" y="210.50" width="38.00" height="38.00" fill="none" stroke="#00ffff" stroke-width="1.25" />
<line x1="24.50" y1="199.50" x2="55.00" y2="230.00" stroke="#ffff00" stroke-width="1.0" stroke-dasharray="5.6 2.8 2.8 2.8" stroke-dashoffset="-5"/>
<line x1="85.50" y1="199.50" x2="55.00" y2="230.00" stroke="#ffff00" stroke-width="1.0" stroke-dasharray="5.6 2.8 2.8 2.8" stroke-dashoffset="-5"/>
<line x1="24.50" y1="260.50" x2="55.00" y2="230.00" stroke="#ffff00" stroke-width="1.0" stroke-dasharray="5.6 2.8 2.8 2.8" stroke-dashoffset="-5"/>
<line x1="85.50" y1="260.50" x2="55.00" y2="230.00" stroke="#ffff00" stroke-width="1.0" stroke-dasharray="5.6 2.8 2.8 2.8" stroke-dashoffset="-5"/>
<g class="t">
<text transform="translate(75.30,235.80) scale(-1,1.27)" x="0" y="0" font-family="Liberation Mono, monospace" font-size="10.83" fill="#fff" stroke="#fff" stroke-width="0.55">pin&lt;1&gt;</text>
<line x1="44.20" y1="225.40" x2="44.20" y2="235.80" stroke="#fff" stroke-width="1.25" />
<line x1="50.10" y1="233.60" x2="53.50" y2="233.60" stroke="#fff" stroke-width="1.15" />
<line x1="50.10" y1="231.40" x2="53.50" y2="231.40" stroke="#fff" stroke-width="1.15" />
<line x1="50.10" y1="229.40" x2="53.50" y2="229.40" stroke="#fff" stroke-width="1.15" />
<polygon points="52.50,228.00 58.30,235.20 58.30,228.00 52.50,235.20" fill="#fff"/>
<line x1="56.80" y1="233.60" x2="61.00" y2="233.60" stroke="#fff" stroke-width="1.15" />
<line x1="56.80" y1="231.20" x2="61.00" y2="231.20" stroke="#fff" stroke-width="1.15" />
<rect x="44.20" y="228.60" width="5.30" height="7.20" fill="none" stroke="#fff" stroke-width="1.15" />
</g>
<clipPath id="c507"><rect x="702.50" y="210.50" width="38.00" height="38.00"/></clipPath>
<g clip-path="url(#c507)" stroke="#00ffff" stroke-width="1.05">
<line x1="656.00" y1="210.50" x2="694.00" y2="248.50"/>
<line x1="664.20" y1="210.50" x2="702.20" y2="248.50"/>
<line x1="672.40" y1="210.50" x2="710.40" y2="248.50"/>
<line x1="680.60" y1="210.50" x2="718.60" y2="248.50"/>
<line x1="688.80" y1="210.50" x2="726.80" y2="248.50"/>
<line x1="697.00" y1="210.50" x2="735.00" y2="248.50"/>
<line x1="705.20" y1="210.50" x2="743.20" y2="248.50"/>
<line x1="713.40" y1="210.50" x2="751.40" y2="248.50"/>
<line x1="721.60" y1="210.50" x2="759.60" y2="248.50"/>
<line x1="729.80" y1="210.50" x2="767.80" y2="248.50"/>
<line x1="738.00" y1="210.50" x2="776.00" y2="248.50"/>
</g>
<rect x="708.50" y="222.50" width="26.00" height="14.00" fill="none" stroke="#00ffff" stroke-width="1.1" />
<g stroke="#8c84a6" stroke-width="1.25" fill="none">
<rect x="705.50" y="213.50" width="32.00" height="32.00"/>
<line x1="709.50" y1="213.50" x2="709.50" y2="245.50"/>
<line x1="713.50" y1="213.50" x2="713.50" y2="245.50"/>
<line x1="717.50" y1="213.50" x2="717.50" y2="245.50"/>
<line x1="721.50" y1="213.50" x2="721.50" y2="245.50"/>
<line x1="725.50" y1="213.50" x2="725.50" y2="245.50"/>
<line x1="729.50" y1="213.50" x2="729.50" y2="245.50"/>
<line x1="733.50" y1="213.50" x2="733.50" y2="245.50"/>
</g>
<rect x="702.50" y="210.50" width="38.00" height="38.00" fill="none" stroke="#00ffff" stroke-width="1.25" />
<line x1="691.50" y1="199.50" x2="721.50" y2="230.00" stroke="#ffff00" stroke-width="1.0" stroke-dasharray="5.6 2.8 2.8 2.8" stroke-dashoffset="-5"/>
<line x1="751.50" y1="199.50" x2="721.50" y2="230.00" stroke="#ffff00" stroke-width="1.0" stroke-dasharray="5.6 2.8 2.8 2.8" stroke-dashoffset="-5"/>
<line x1="691.50" y1="260.50" x2="721.50" y2="230.00" stroke="#ffff00" stroke-width="1.0" stroke-dasharray="5.6 2.8 2.8 2.8" stroke-dashoffset="-5"/>
<line x1="751.50" y1="260.50" x2="721.50" y2="230.00" stroke="#ffff00" stroke-width="1.0" stroke-dasharray="5.6 2.8 2.8 2.8" stroke-dashoffset="-5"/>
<g class="t">
<text transform="translate(744.50,235.80) scale(-1,1.27)" x="0" y="0" font-family="Liberation Mono, monospace" font-size="10.71" fill="#fff" stroke="#fff" stroke-width="0.55">pin&lt;22&gt;</text>
<line x1="707.33" y1="225.40" x2="707.33" y2="235.80" stroke="#fff" stroke-width="1.25" />
<line x1="719.59" y1="233.60" x2="722.99" y2="233.60" stroke="#fff" stroke-width="1.15" />
<line x1="719.59" y1="231.40" x2="722.99" y2="231.40" stroke="#fff" stroke-width="1.15" />
<line x1="719.59" y1="229.40" x2="722.99" y2="229.40" stroke="#fff" stroke-width="1.15" />
<polygon points="721.99,228.00 727.79,235.20 727.79,228.00 721.99,235.20" fill="#fff"/>
<line x1="726.21" y1="233.60" x2="730.41" y2="233.60" stroke="#fff" stroke-width="1.15" />
<line x1="726.21" y1="231.20" x2="730.41" y2="231.20" stroke="#fff" stroke-width="1.15" />
<rect x="707.33" y="228.60" width="11.66" height="7.20" fill="none" stroke="#fff" stroke-width="1.15" />
</g>
<clipPath id="c548"><rect x="277.50" y="29.50" width="38.00" height="38.00"/></clipPath>
<g clip-path="url(#c548)" stroke="#00ffff" stroke-width="1.05">
<line x1="231.00" y1="29.50" x2="269.00" y2="67.50"/>
<line x1="239.20" y1="29.50" x2="277.20" y2="67.50"/>
<line x1="247.40" y1="29.50" x2="285.40" y2="67.50"/>
<line x1="255.60" y1="29.50" x2="293.60" y2="67.50"/>
<line x1="263.80" y1="29.50" x2="301.80" y2="67.50"/>
<line x1="272.00" y1="29.50" x2="310.00" y2="67.50"/>
<line x1="280.20" y1="29.50" x2="318.20" y2="67.50"/>
<line x1="288.40" y1="29.50" x2="326.40" y2="67.50"/>
<line x1="296.60" y1="29.50" x2="334.60" y2="67.50"/>
<line x1="304.80" y1="29.50" x2="342.80" y2="67.50"/>
<line x1="313.00" y1="29.50" x2="351.00" y2="67.50"/>
</g>
<rect x="283.50" y="41.50" width="26.00" height="14.00" fill="none" stroke="#00ffff" stroke-width="1.1" />
<g stroke="#8c84a6" stroke-width="1.25" fill="none">
<rect x="280.50" y="32.50" width="32.00" height="32.00"/>
<line x1="284.50" y1="32.50" x2="284.50" y2="64.50"/>
<line x1="288.50" y1="32.50" x2="288.50" y2="64.50"/>
<line x1="292.50" y1="32.50" x2="292.50" y2="64.50"/>
<line x1="296.50" y1="32.50" x2="296.50" y2="64.50"/>
<line x1="300.50" y1="32.50" x2="300.50" y2="64.50"/>
<line x1="304.50" y1="32.50" x2="304.50" y2="64.50"/>
<line x1="308.50" y1="32.50" x2="308.50" y2="64.50"/>
</g>
<rect x="277.50" y="29.50" width="38.00" height="38.00" fill="none" stroke="#00ffff" stroke-width="1.25" />
<line x1="266.50" y1="17.50" x2="297.00" y2="48.00" stroke="#ffff00" stroke-width="1.0" stroke-dasharray="5.6 2.8 2.8 2.8" stroke-dashoffset="-5"/>
<line x1="327.50" y1="17.50" x2="297.00" y2="48.00" stroke="#ffff00" stroke-width="1.0" stroke-dasharray="5.6 2.8 2.8 2.8" stroke-dashoffset="-5"/>
<line x1="266.50" y1="78.50" x2="297.00" y2="48.00" stroke="#ffff00" stroke-width="1.0" stroke-dasharray="5.6 2.8 2.8 2.8" stroke-dashoffset="-5"/>
<line x1="327.50" y1="78.50" x2="297.00" y2="48.00" stroke="#ffff00" stroke-width="1.0" stroke-dasharray="5.6 2.8 2.8 2.8" stroke-dashoffset="-5"/>
<g class="t">
<text transform="translate(317.00,53.80) scale(-1,1.27)" x="0" y="0" font-family="Liberation Mono, monospace" font-size="10.56" fill="#fff" stroke="#fff" stroke-width="0.55">pin&lt;7&gt;</text>
<line x1="286.73" y1="43.40" x2="286.73" y2="53.80" stroke="#fff" stroke-width="1.25" />
<line x1="292.47" y1="51.60" x2="295.87" y2="51.60" stroke="#fff" stroke-width="1.15" />
<line x1="292.47" y1="49.40" x2="295.87" y2="49.40" stroke="#fff" stroke-width="1.15" />
<line x1="292.47" y1="47.40" x2="295.87" y2="47.40" stroke="#fff" stroke-width="1.15" />
<polygon points="294.87,46.00 300.67,53.20 300.67,46.00 294.87,53.20" fill="#fff"/>
<line x1="299.00" y1="51.60" x2="303.20" y2="51.60" stroke="#fff" stroke-width="1.15" />
<line x1="299.00" y1="49.20" x2="303.20" y2="49.20" stroke="#fff" stroke-width="1.15" />
<rect x="286.73" y="46.60" width="5.13" height="7.20" fill="none" stroke="#fff" stroke-width="1.15" />
</g>
<clipPath id="c589"><rect x="277.50" y="695.50" width="38.00" height="38.00"/></clipPath>
<g clip-path="url(#c589)" stroke="#00ffff" stroke-width="1.05">
<line x1="231.00" y1="695.50" x2="269.00" y2="733.50"/>
<line x1="239.20" y1="695.50" x2="277.20" y2="733.50"/>
<line x1="247.40" y1="695.50" x2="285.40" y2="733.50"/>
<line x1="255.60" y1="695.50" x2="293.60" y2="733.50"/>
<line x1="263.80" y1="695.50" x2="301.80" y2="733.50"/>
<line x1="272.00" y1="695.50" x2="310.00" y2="733.50"/>
<line x1="280.20" y1="695.50" x2="318.20" y2="733.50"/>
<line x1="288.40" y1="695.50" x2="326.40" y2="733.50"/>
<line x1="296.60" y1="695.50" x2="334.60" y2="733.50"/>
<line x1="304.80" y1="695.50" x2="342.80" y2="733.50"/>
<line x1="313.00" y1="695.50" x2="351.00" y2="733.50"/>
</g>
<rect x="283.50" y="707.50" width="26.00" height="14.00" fill="none" stroke="#00ffff" stroke-width="1.1" />
<g stroke="#8c84a6" stroke-width="1.25" fill="none">
<rect x="280.50" y="698.50" width="32.00" height="32.00"/>
<line x1="284.50" y1="698.50" x2="284.50" y2="730.50"/>
<line x1="288.50" y1="698.50" x2="288.50" y2="730.50"/>
<line x1="292.50" y1="698.50" x2="292.50" y2="730.50"/>
<line x1="296.50" y1="698.50" x2="296.50" y2="730.50"/>
<line x1="300.50" y1="698.50" x2="300.50" y2="730.50"/>
<line x1="304.50" y1="698.50" x2="304.50" y2="730.50"/>
<line x1="308.50" y1="698.50" x2="308.50" y2="730.50"/>
</g>
<rect x="277.50" y="695.50" width="38.00" height="38.00" fill="none" stroke="#00ffff" stroke-width="1.25" />
<line x1="266.50" y1="684.50" x2="297.00" y2="715.00" stroke="#ffff00" stroke-width="1.0" stroke-dasharray="5.6 2.8 2.8 2.8" stroke-dashoffset="-5"/>
<line x1="327.50" y1="684.50" x2="297.00" y2="715.00" stroke="#ffff00" stroke-width="1.0" stroke-dasharray="5.6 2.8 2.8 2.8" stroke-dashoffset="-5"/>
<line x1="266.50" y1="745.50" x2="297.00" y2="715.00" stroke="#ffff00" stroke-width="1.0" stroke-dasharray="5.6 2.8 2.8 2.8" stroke-dashoffset="-5"/>
<line x1="327.50" y1="745.50" x2="297.00" y2="715.00" stroke="#ffff00" stroke-width="1.0" stroke-dasharray="5.6 2.8 2.8 2.8" stroke-dashoffset="-5"/>
<g class="t">
<text transform="translate(321.30,720.80) scale(-1,1.27)" x="0" y="0" font-family="Liberation Mono, monospace" font-size="11.19" fill="#fff" stroke="#fff" stroke-width="0.55">pin&lt;27&gt;</text>
<line x1="282.41" y1="710.40" x2="282.41" y2="720.80" stroke="#fff" stroke-width="1.25" />
<line x1="295.24" y1="718.60" x2="298.64" y2="718.60" stroke="#fff" stroke-width="1.15" />
<line x1="295.24" y1="716.40" x2="298.64" y2="716.40" stroke="#fff" stroke-width="1.15" />
<line x1="295.24" y1="714.40" x2="298.64" y2="714.40" stroke="#fff" stroke-width="1.15" />
<polygon points="297.64,713.00 303.44,720.20 303.44,713.00 297.64,720.20" fill="#fff"/>
<line x1="302.16" y1="718.60" x2="306.36" y2="718.60" stroke="#fff" stroke-width="1.15" />
<line x1="302.16" y1="716.20" x2="306.36" y2="716.20" stroke="#fff" stroke-width="1.15" />
<rect x="282.41" y="713.60" width="12.23" height="7.20" fill="none" stroke="#fff" stroke-width="1.15" />
</g>
<clipPath id="c630"><rect x="35.50" y="271.50" width="38.00" height="38.00"/></clipPath>
<g clip-path="url(#c630)" stroke="#00ffff" stroke-width="1.05">
<line x1="-11.00" y1="271.50" x2="27.00" y2="309.50"/>
<line x1="-2.80" y1="271.50" x2="35.20" y2="309.50"/>
<line x1="5.40" y1="271.50" x2="43.40" y2="309.50"/>
<line x1="13.60" y1="271.50" x2="51.60" y2="309.50"/>
<line x1="21.80" y1="271.50" x2="59.80" y2="309.50"/>
<line x1="30.00" y1="271.50" x2="68.00" y2="309.50"/>
<line x1="38.20" y1="271.50" x2="76.20" y2="309.50"/>
<line x1="46.40" y1="271.50" x2="84.40" y2="309.50"/>
<line x1="54.60" y1="271.50" x2="92.60" y2="309.50"/>
<line x1="62.80" y1="271.50" x2="100.80" y2="309.50"/>
<line x1="71.00" y1="271.50" x2="109.00" y2="309.50"/>
</g>
<rect x="41.50" y="283.50" width="26.00" height="14.00" fill="none" stroke="#00ffff" stroke-width="1.1" />
<g stroke="#8c84a6" stroke-width="1.25" fill="none">
<rect x="38.50" y="274.50" width="32.00" height="32.00"/>
<line x1="42.50" y1="274.50" x2="42.50" y2="306.50"/>
<line x1="46.50" y1="274.50" x2="46.50" y2="306.50"/>
<line x1="50.50" y1="274.50" x2="50.50" y2="306.50"/>
<line x1="54.50" y1="274.50" x2="54.50" y2="306.50"/>
<line x1="58.50" y1="274.50" x2="58.50" y2="306.50"/>
<line x1="62.50" y1="274.50" x2="62.50" y2="306.50"/>
<line x1="66.50" y1="274.50" x2="66.50" y2="306.50"/>
</g>
<rect x="35.50" y="271.50" width="38.00" height="38.00" fill="none" stroke="#00ffff" stroke-width="1.25" />
<line x1="24.50" y1="260.50" x2="55.00" y2="290.50" stroke="#ffff00" stroke-width="1.0" stroke-dasharray="5.6 2.8 2.8 2.8" stroke-dashoffset="-5"/>
<line x1="85.50" y1="260.50" x2="55.00" y2="290.50" stroke="#ffff00" stroke-width="1.0" stroke-dasharray="5.6 2.8 2.8 2.8" stroke-dashoffset="-5"/>
<line x1="24.50" y1="320.50" x2="55.00" y2="290.50" stroke="#ffff00" stroke-width="1.0" stroke-dasharray="5.6 2.8 2.8 2.8" stroke-dashoffset="-5"/>
<line x1="85.50" y1="320.50" x2="55.00" y2="290.50" stroke="#ffff00" stroke-width="1.0" stroke-dasharray="5.6 2.8 2.8 2.8" stroke-dashoffset="-5"/>
<g class="t">
<text transform="translate(75.30,296.80) scale(-1,1.27)" x="0" y="0" font-family="Liberation Mono, monospace" font-size="10.83" fill="#fff" stroke="#fff" stroke-width="0.55">pin&lt;0&gt;</text>
<line x1="44.20" y1="286.40" x2="44.20" y2="296.80" stroke="#fff" stroke-width="1.25" />
<line x1="50.10" y1="294.60" x2="53.50" y2="294.60" stroke="#fff" stroke-width="1.15" />
<line x1="50.10" y1="292.40" x2="53.50" y2="292.40" stroke="#fff" stroke-width="1.15" />
<line x1="50.10" y1="290.40" x2="53.50" y2="290.40" stroke="#fff" stroke-width="1.15" />
<polygon points="52.50,289.00 58.30,296.20 58.30,289.00 52.50,296.20" fill="#fff"/>
<line x1="56.80" y1="294.60" x2="61.00" y2="294.60" stroke="#fff" stroke-width="1.15" />
<line x1="56.80" y1="292.20" x2="61.00" y2="292.20" stroke="#fff" stroke-width="1.15" />
<rect x="44.20" y="289.60" width="5.30" height="7.20" fill="none" stroke="#fff" stroke-width="1.15" />
</g>
<clipPath id="c671"><rect x="702.50" y="271.50" width="38.00" height="38.00"/></clipPath>
<g clip-path="url(#c671)" stroke="#00ffff" stroke-width="1.05">
<line x1="656.00" y1="271.50" x2="694.00" y2="309.50"/>
<line x1="664.20" y1="271.50" x2="702.20" y2="309.50"/>
<line x1="672.40" y1="271.50" x2="710.40" y2="309.50"/>
<line x1="680.60" y1="271.50" x2="718.60" y2="309.50"/>
<line x1="688.80" y1="271.50" x2="726.80" y2="309.50"/>
<line x1="697.00" y1="271.50" x2="735.00" y2="309.50"/>
<line x1="705.20" y1="271.50" x2="743.20" y2="309.50"/>
<line x1="713.40" y1="271.50" x2="751.40" y2="309.50"/>
<line x1="721.60" y1="271.50" x2="759.60" y2="309.50"/>
<line x1="729.80" y1="271.50" x2="767.80" y2="309.50"/>
<line x1="738.00" y1="271.50" x2="776.00" y2="309.50"/>
</g>
<rect x="708.50" y="283.50" width="26.00" height="14.00" fill="none" stroke="#00ffff" stroke-width="1.1" />
<g stroke="#8c84a6" stroke-width="1.25" fill="none">
<rect x="705.50" y="274.50" width="32.00" height="32.00"/>
<line x1="709.50" y1="274.50" x2="709.50" y2="306.50"/>
<line x1="713.50" y1="274.50" x2="713.50" y2="306.50"/>
<line x1="717.50" y1="274.50" x2="717.50" y2="306.50"/>
<line x1="721.50" y1="274.50" x2="721.50" y2="306.50"/>
<line x1="725.50" y1="274.50" x2="725.50" y2="306.50"/>
<line x1="729.50" y1="274.50" x2="729.50" y2="306.50"/>
<line x1="733.50" y1="274.50" x2="733.50" y2="306.50"/>
</g>
<rect x="702.50" y="271.50" width="38.00" height="38.00" fill="none" stroke="#00ffff" stroke-width="1.25" />
<line x1="691.50" y1="260.50" x2="721.50" y2="290.50" stroke="#ffff00" stroke-width="1.0" stroke-dasharray="5.6 2.8 2.8 2.8" stroke-dashoffset="-5"/>
<line x1="751.50" y1="260.50" x2="721.50" y2="290.50" stroke="#ffff00" stroke-width="1.0" stroke-dasharray="5.6 2.8 2.8 2.8" stroke-dashoffset="-5"/>
<line x1="691.50" y1="320.50" x2="721.50" y2="290.50" stroke="#ffff00" stroke-width="1.0" stroke-dasharray="5.6 2.8 2.8 2.8" stroke-dashoffset="-5"/>
<line x1="751.50" y1="320.50" x2="721.50" y2="290.50" stroke="#ffff00" stroke-width="1.0" stroke-dasharray="5.6 2.8 2.8 2.8" stroke-dashoffset="-5"/>
<g class="t">
<text transform="translate(744.50,296.80) scale(-1,1.27)" x="0" y="0" font-family="Liberation Mono, monospace" font-size="10.71" fill="#fff" stroke="#fff" stroke-width="0.55">pin&lt;23&gt;</text>
<line x1="707.33" y1="286.40" x2="707.33" y2="296.80" stroke="#fff" stroke-width="1.25" />
<line x1="719.59" y1="294.60" x2="722.99" y2="294.60" stroke="#fff" stroke-width="1.15" />
<line x1="719.59" y1="292.40" x2="722.99" y2="292.40" stroke="#fff" stroke-width="1.15" />
<line x1="719.59" y1="290.40" x2="722.99" y2="290.40" stroke="#fff" stroke-width="1.15" />
<polygon points="721.99,289.00 727.79,296.20 727.79,289.00 721.99,296.20" fill="#fff"/>
<line x1="726.21" y1="294.60" x2="730.41" y2="294.60" stroke="#fff" stroke-width="1.15" />
<line x1="726.21" y1="292.20" x2="730.41" y2="292.20" stroke="#fff" stroke-width="1.15" />
<rect x="707.33" y="289.60" width="11.66" height="7.20" fill="none" stroke="#fff" stroke-width="1.15" />
</g>
<clipPath id="c712"><rect x="338.50" y="29.50" width="38.00" height="38.00"/></clipPath>
<g clip-path="url(#c712)" stroke="#00ffff" stroke-width="1.05">
<line x1="292.00" y1="29.50" x2="330.00" y2="67.50"/>
<line x1="300.20" y1="29.50" x2="338.20" y2="67.50"/>
<line x1="308.40" y1="29.50" x2="346.40" y2="67.50"/>
<line x1="316.60" y1="29.50" x2="354.60" y2="67.50"/>
<line x1="324.80" y1="29.50" x2="362.80" y2="67.50"/>
<line x1="333.00" y1="29.50" x2="371.00" y2="67.50"/>
<line x1="341.20" y1="29.50" x2="379.20" y2="67.50"/>
<line x1="349.40" y1="29.50" x2="387.40" y2="67.50"/>
<line x1="357.60" y1="29.50" x2="395.60" y2="67.50"/>
<line x1="365.80" y1="29.50" x2="403.80" y2="67.50"/>
<line x1="374.00" y1="29.50" x2="412.00" y2="67.50"/>
</g>
<rect x="344.50" y="41.50" width="26.00" height="14.00" fill="none" stroke="#00ffff" stroke-width="1.1" />
<g stroke="#8c84a6" stroke-width="1.25" fill="none">
<rect x="341.50" y="32.50" width="32.00" height="32.00"/>
<line x1="345.50" y1="32.50" x2="345.50" y2="64.50"/>
<line x1="349.50" y1="32.50" x2="349.50" y2="64.50"/>
<line x1="353.50" y1="32.50" x2="353.50" y2="64.50"/>
<line x1="357.50" y1="32.50" x2="357.50" y2="64.50"/>
<line x1="361.50" y1="32.50" x2="361.50" y2="64.50"/>
<line x1="365.50" y1="32.50" x2="365.50" y2="64.50"/>
<line x1="369.50" y1="32.50" x2="369.50" y2="64.50"/>
</g>
<rect x="338.50" y="29.50" width="38.00" height="38.00" fill="none" stroke="#00ffff" stroke-width="1.25" />
<line x1="327.50" y1="17.50" x2="358.00" y2="48.00" stroke="#ffff00" stroke-width="1.0" stroke-dasharray="5.6 2.8 2.8 2.8" stroke-dashoffset="-5"/>
<line x1="388.50" y1="17.50" x2="358.00" y2="48.00" stroke="#ffff00" stroke-width="1.0" stroke-dasharray="5.6 2.8 2.8 2.8" stroke-dashoffset="-5"/>
<line x1="327.50" y1="78.50" x2="358.00" y2="48.00" stroke="#ffff00" stroke-width="1.0" stroke-dasharray="5.6 2.8 2.8 2.8" stroke-dashoffset="-5"/>
<line x1="388.50" y1="78.50" x2="358.00" y2="48.00" stroke="#ffff00" stroke-width="1.0" stroke-dasharray="5.6 2.8 2.8 2.8" stroke-dashoffset="-5"/>
<g class="t">
<text transform="translate(381.00,53.80) scale(-1,1.27)" x="0" y="0" font-family="Liberation Mono, monospace" font-size="10.76" fill="#fff" stroke="#fff" stroke-width="0.55">pin&lt;14&gt;</text>
<line x1="343.66" y1="43.40" x2="343.66" y2="53.80" stroke="#fff" stroke-width="1.25" />
<line x1="355.97" y1="51.60" x2="359.37" y2="51.60" stroke="#fff" stroke-width="1.15" />
<line x1="355.97" y1="49.40" x2="359.37" y2="49.40" stroke="#fff" stroke-width="1.15" />
<line x1="355.97" y1="47.40" x2="359.37" y2="47.40" stroke="#fff" stroke-width="1.15" />
<polygon points="358.37,46.00 364.17,53.20 364.17,46.00 358.37,53.20" fill="#fff"/>
<line x1="362.63" y1="51.60" x2="366.83" y2="51.60" stroke="#fff" stroke-width="1.15" />
<line x1="362.63" y1="49.20" x2="366.83" y2="49.20" stroke="#fff" stroke-width="1.15" />
<rect x="343.66" y="46.60" width="11.71" height="7.20" fill="none" stroke="#fff" stroke-width="1.15" />
</g>
<clipPath id="c753"><rect x="338.50" y="695.50" width="38.00" height="38.00"/></clipPath>
<g clip-path="url(#c753)" stroke="#00ffff" stroke-width="1.05">
<line x1="292.00" y1="695.50" x2="330.00" y2="733.50"/>
<line x1="300.20" y1="695.50" x2="338.20" y2="733.50"/>
<line x1="308.40" y1="695.50" x2="346.40" y2="733.50"/>
<line x1="316.60" y1="695.50" x2="354.60" y2="733.50"/>
<line x1="324.80" y1="695.50" x2="362.80" y2="733.50"/>
<line x1="333.00" y1="695.50" x2="371.00" y2="733.50"/>
<line x1="341.20" y1="695.50" x2="379.20" y2="733.50"/>
<line x1="349.40" y1="695.50" x2="387.40" y2="733.50"/>
<line x1="357.60" y1="695.50" x2="395.60" y2="733.50"/>
<line x1="365.80" y1="695.50" x2="403.80" y2="733.50"/>
<line x1="374.00" y1="695.50" x2="412.00" y2="733.50"/>
</g>
<rect x="344.50" y="707.50" width="26.00" height="14.00" fill="none" stroke="#00ffff" stroke-width="1.1" />
<g stroke="#8c84a6" stroke-width="1.25" fill="none">
<rect x="341.50" y="698.50" width="32.00" height="32.00"/>
<line x1="345.50" y1="698.50" x2="345.50" y2="730.50"/>
<line x1="349.50" y1="698.50" x2="349.50" y2="730.50"/>
<line x1="353.50" y1="698.50" x2="353.50" y2="730.50"/>
<line x1="357.50" y1="698.50" x2="357.50" y2="730.50"/>
<line x1="361.50" y1="698.50" x2="361.50" y2="730.50"/>
<line x1="365.50" y1="698.50" x2="365.50" y2="730.50"/>
<line x1="369.50" y1="698.50" x2="369.50" y2="730.50"/>
</g>
<rect x="338.50" y="695.50" width="38.00" height="38.00" fill="none" stroke="#00ffff" stroke-width="1.25" />
<line x1="327.50" y1="684.50" x2="358.00" y2="715.00" stroke="#ffff00" stroke-width="1.0" stroke-dasharray="5.6 2.8 2.8 2.8" stroke-dashoffset="-5"/>
<line x1="388.50" y1="684.50" x2="358.00" y2="715.00" stroke="#ffff00" stroke-width="1.0" stroke-dasharray="5.6 2.8 2.8 2.8" stroke-dashoffset="-5"/>
<line x1="327.50" y1="745.50" x2="358.00" y2="715.00" stroke="#ffff00" stroke-width="1.0" stroke-dasharray="5.6 2.8 2.8 2.8" stroke-dashoffset="-5"/>
<line x1="388.50" y1="745.50" x2="358.00" y2="715.00" stroke="#ffff00" stroke-width="1.0" stroke-dasharray="5.6 2.8 2.8 2.8" stroke-dashoffset="-5"/>
<g class="t">
<text transform="translate(381.40,720.80) scale(-1,1.27)" x="0" y="0" font-family="Liberation Mono, monospace" font-size="11.05" fill="#fff" stroke="#fff" stroke-width="0.55">pin&lt;26&gt;</text>
<line x1="343.03" y1="710.40" x2="343.03" y2="720.80" stroke="#fff" stroke-width="1.25" />
<line x1="355.69" y1="718.60" x2="359.09" y2="718.60" stroke="#fff" stroke-width="1.15" />
<line x1="355.69" y1="716.40" x2="359.09" y2="716.40" stroke="#fff" stroke-width="1.15" />
<line x1="355.69" y1="714.40" x2="359.09" y2="714.40" stroke="#fff" stroke-width="1.15" />
<polygon points="358.09,713.00 363.89,720.20 363.89,713.00 358.09,720.20" fill="#fff"/>
<line x1="362.51" y1="718.60" x2="366.71" y2="718.60" stroke="#fff" stroke-width="1.15" />
<line x1="362.51" y1="716.20" x2="366.71" y2="716.20" stroke="#fff" stroke-width="1.15" />
<rect x="343.03" y="713.60" width="12.06" height="7.20" fill="none" stroke="#fff" stroke-width="1.15" />
</g>
<clipPath id="c794"><rect x="35.50" y="331.50" width="38.00" height="38.00"/></clipPath>
<g clip-path="url(#c794)" stroke="#00ffff" stroke-width="1.05">
<line x1="-11.00" y1="331.50" x2="27.00" y2="369.50"/>
<line x1="-2.80" y1="331.50" x2="35.20" y2="369.50"/>
<line x1="5.40" y1="331.50" x2="43.40" y2="369.50"/>
<line x1="13.60" y1="331.50" x2="51.60" y2="369.50"/>
<line x1="21.80" y1="331.50" x2="59.80" y2="369.50"/>
<line x1="30.00" y1="331.50" x2="68.00" y2="369.50"/>
<line x1="38.20" y1="331.50" x2="76.20" y2="369.50"/>
<line x1="46.40" y1="331.50" x2="84.40" y2="369.50"/>
<line x1="54.60" y1="331.50" x2="92.60" y2="369.50"/>
<line x1="62.80" y1="331.50" x2="100.80" y2="369.50"/>
<line x1="71.00" y1="331.50" x2="109.00" y2="369.50"/>
</g>
<rect x="41.50" y="343.50" width="26.00" height="14.00" fill="none" stroke="#00ffff" stroke-width="1.1" />
<g stroke="#8c84a6" stroke-width="1.25" fill="none">
<rect x="38.50" y="334.50" width="32.00" height="32.00"/>
<line x1="42.50" y1="334.50" x2="42.50" y2="366.50"/>
<line x1="46.50" y1="334.50" x2="46.50" y2="366.50"/>
<line x1="50.50" y1="334.50" x2="50.50" y2="366.50"/>
<line x1="54.50" y1="334.50" x2="54.50" y2="366.50"/>
<line x1="58.50" y1="334.50" x2="58.50" y2="366.50"/>
<line x1="62.50" y1="334.50" x2="62.50" y2="366.50"/>
<line x1="66.50" y1="334.50" x2="66.50" y2="366.50"/>
</g>
<rect x="35.50" y="331.50" width="38.00" height="38.00" fill="none" stroke="#00ffff" stroke-width="1.25" />
<line x1="24.50" y1="320.50" x2="55.00" y2="351.00" stroke="#ffff00" stroke-width="1.0" stroke-dasharray="5.6 2.8 2.8 2.8" stroke-dashoffset="-5"/>
<line x1="85.50" y1="320.50" x2="55.00" y2="351.00" stroke="#ffff00" stroke-width="1.0" stroke-dasharray="5.6 2.8 2.8 2.8" stroke-dashoffset="-5"/>
<line x1="24.50" y1="381.50" x2="55.00" y2="351.00" stroke="#ffff00" stroke-width="1.0" stroke-dasharray="5.6 2.8 2.8 2.8" stroke-dashoffset="-5"/>
<line x1="85.50" y1="381.50" x2="55.00" y2="351.00" stroke="#ffff00" stroke-width="1.0" stroke-dasharray="5.6 2.8 2.8 2.8" stroke-dashoffset="-5"/>
<g class="t">
<rect x="44.10" y="349.60" width="6.00" height="7.20" fill="none" stroke="#fff" stroke-width="1.25" />
<line x1="44.10" y1="347.30" x2="44.10" y2="356.80" stroke="#fff" stroke-width="1.25" />
<polygon points="51.40,349.20 58.20,356.40 58.20,349.20 51.40,356.40" fill="#fff"/>
<line x1="48.30" y1="354.60" x2="51.80" y2="354.60" stroke="#fff" stroke-width="1.15" />
<line x1="48.30" y1="352.40" x2="51.80" y2="352.40" stroke="#fff" stroke-width="1.15" />
<line x1="48.30" y1="350.40" x2="51.80" y2="350.40" stroke="#fff" stroke-width="1.15" />
<text transform="translate(66.00,356.80) scale(-1,1.27)" x="0" y="0" font-family="Liberation Mono, monospace" font-size="10.7" fill="#fff" stroke="#fff" stroke-width="0.55">g</text>
<rect x="59.40" y="349.60" width="6.00" height="7.20" fill="none" stroke="#fff" stroke-width="1.15" />
</g>
<clipPath id="c834"><rect x="702.50" y="331.50" width="38.00" height="38.00"/></clipPath>
<g clip-path="url(#c834)" stroke="#00ffff" stroke-width="1.05">
<line x1="656.00" y1="331.50" x2="694.00" y2="369.50"/>
<line x1="664.20" y1="331.50" x2="702.20" y2="369.50"/>
<line x1="672.40" y1="331.50" x2="710.40" y2="369.50"/>
<line x1="680.60" y1="331.50" x2="718.60" y2="369.50"/>
<line x1="688.80" y1="331.50" x2="726.80" y2="369.50"/>
<line x1="697.00" y1="331.50" x2="735.00" y2="369.50"/>
<line x1="705.20" y1="331.50" x2="743.20" y2="369.50"/>
<line x1="713.40" y1="331.50" x2="751.40" y2="369.50"/>
<line x1="721.60" y1="331.50" x2="759.60" y2="369.50"/>
<line x1="729.80" y1="331.50" x2="767.80" y2="369.50"/>
<line x1="738.00" y1="331.50" x2="776.00" y2="369.50"/>
</g>
<rect x="708.50" y="343.50" width="26.00" height="14.00" fill="none" stroke="#00ffff" stroke-width="1.1" />
<g stroke="#8c84a6" stroke-width="1.25" fill="none">
<rect x="705.50" y="334.50" width="32.00" height="32.00"/>
<line x1="709.50" y1="334.50" x2="709.50" y2="366.50"/>
<line x1="713.50" y1="334.50" x2="713.50" y2="366.50"/>
<line x1="717.50" y1="334.50" x2="717.50" y2="366.50"/>
<line x1="721.50" y1="334.50" x2="721.50" y2="366.50"/>
<line x1="725.50" y1="334.50" x2="725.50" y2="366.50"/>
<line x1="729.50" y1="334.50" x2="729.50" y2="366.50"/>
<line x1="733.50" y1="334.50" x2="733.50" y2="366.50"/>
</g>
<rect x="702.50" y="331.50" width="38.00" height="38.00" fill="none" stroke="#00ffff" stroke-width="1.25" />
<line x1="691.50" y1="320.50" x2="721.50" y2="351.00" stroke="#ffff00" stroke-width="1.0" stroke-dasharray="5.6 2.8 2.8 2.8" stroke-dashoffset="-5"/>
<line x1="751.50" y1="320.50" x2="721.50" y2="351.00" stroke="#ffff00" stroke-width="1.0" stroke-dasharray="5.6 2.8 2.8 2.8" stroke-dashoffset="-5"/>
<line x1="691.50" y1="381.50" x2="721.50" y2="351.00" stroke="#ffff00" stroke-width="1.0" stroke-dasharray="5.6 2.8 2.8 2.8" stroke-dashoffset="-5"/>
<line x1="751.50" y1="381.50" x2="721.50" y2="351.00" stroke="#ffff00" stroke-width="1.0" stroke-dasharray="5.6 2.8 2.8 2.8" stroke-dashoffset="-5"/>
<g class="t">
<rect x="710.50" y="349.60" width="6.00" height="7.20" fill="none" stroke="#fff" stroke-width="1.25" />
<line x1="710.50" y1="347.30" x2="710.50" y2="356.80" stroke="#fff" stroke-width="1.25" />
<polygon points="718.35,349.20 725.15,356.40 725.15,349.20 718.35,356.40" fill="#fff"/>
<line x1="715.25" y1="354.60" x2="718.75" y2="354.60" stroke="#fff" stroke-width="1.15" />
<line x1="715.25" y1="352.40" x2="718.75" y2="352.40" stroke="#fff" stroke-width="1.15" />
<line x1="715.25" y1="350.40" x2="718.75" y2="350.40" stroke="#fff" stroke-width="1.15" />
<text transform="translate(733.50,356.80) scale(-1,1.27)" x="0" y="0" font-family="Liberation Mono, monospace" font-size="10.7" fill="#fff" stroke="#fff" stroke-width="0.55">g</text>
<rect x="726.90" y="349.60" width="6.00" height="7.20" fill="none" stroke="#fff" stroke-width="1.15" />
</g>
<clipPath id="c874"><rect x="399.50" y="29.50" width="38.00" height="38.00"/></clipPath>
<g clip-path="url(#c874)" stroke="#00ffff" stroke-width="1.05">
<line x1="353.00" y1="29.50" x2="391.00" y2="67.50"/>
<line x1="361.20" y1="29.50" x2="399.20" y2="67.50"/>
<line x1="369.40" y1="29.50" x2="407.40" y2="67.50"/>
<line x1="377.60" y1="29.50" x2="415.60" y2="67.50"/>
<line x1="385.80" y1="29.50" x2="423.80" y2="67.50"/>
<line x1="394.00" y1="29.50" x2="432.00" y2="67.50"/>
<line x1="402.20" y1="29.50" x2="440.20" y2="67.50"/>
<line x1="410.40" y1="29.50" x2="448.40" y2="67.50"/>
<line x1="418.60" y1="29.50" x2="456.60" y2="67.50"/>
<line x1="426.80" y1="29.50" x2="464.80" y2="67.50"/>
<line x1="435.00" y1="29.50" x2="473.00" y2="67.50"/>
</g>
<rect x="405.50" y="41.50" width="26.00" height="14.00" fill="none" stroke="#00ffff" stroke-width="1.1" />
<g stroke="#8c84a6" stroke-width="1.25" fill="none">
<rect x="402.50" y="32.50" width="32.00" height="32.00"/>
<line x1="406.50" y1="32.50" x2="406.50" y2="64.50"/>
<line x1="410.50" y1="32.50" x2="410.50" y2="64.50"/>
<line x1="414.50" y1="32.50" x2="414.50" y2="64.50"/>
<line x1="418.50" y1="32.50" x2="418.50" y2="64.50"/>
<line x1="422.50" y1="32.50" x2="422.50" y2="64.50"/>
<line x1="426.50" y1="32.50" x2="426.50" y2="64.50"/>
<line x1="430.50" y1="32.50" x2="430.50" y2="64.50"/>
</g>
<rect x="399.50" y="29.50" width="38.00" height="38.00" fill="none" stroke="#00ffff" stroke-width="1.25" />
<line x1="388.50" y1="17.50" x2="418.50" y2="48.00" stroke="#ffff00" stroke-width="1.0" stroke-dasharray="5.6 2.8 2.8 2.8" stroke-dashoffset="-5"/>
<line x1="448.50" y1="17.50" x2="418.50" y2="48.00" stroke="#ffff00" stroke-width="1.0" stroke-dasharray="5.6 2.8 2.8 2.8" stroke-dashoffset="-5"/>
<line x1="388.50" y1="78.50" x2="418.50" y2="48.00" stroke="#ffff00" stroke-width="1.0" stroke-dasharray="5.6 2.8 2.8 2.8" stroke-dashoffset="-5"/>
<line x1="448.50" y1="78.50" x2="418.50" y2="48.00" stroke="#ffff00" stroke-width="1.0" stroke-dasharray="5.6 2.8 2.8 2.8" stroke-dashoffset="-5"/>
<g class="t">
<text transform="translate(441.80,53.80) scale(-1,1.27)" x="0" y="0" font-family="Liberation Mono, monospace" font-size="10.79" fill="#fff" stroke="#fff" stroke-width="0.55">pin&lt;15&gt;</text>
<line x1="404.37" y1="43.40" x2="404.37" y2="53.80" stroke="#fff" stroke-width="1.25" />
<line x1="416.71" y1="51.60" x2="420.11" y2="51.60" stroke="#fff" stroke-width="1.15" />
<line x1="416.71" y1="49.40" x2="420.11" y2="49.40" stroke="#fff" stroke-width="1.15" />
<line x1="416.71" y1="47.40" x2="420.11" y2="47.40" stroke="#fff" stroke-width="1.15" />
<polygon points="419.11,46.00 424.91,53.20 424.91,46.00 419.11,53.20" fill="#fff"/>
<line x1="423.39" y1="51.60" x2="427.59" y2="51.60" stroke="#fff" stroke-width="1.15" />
<line x1="423.39" y1="49.20" x2="427.59" y2="49.20" stroke="#fff" stroke-width="1.15" />
<rect x="404.37" y="46.60" width="11.74" height="7.20" fill="none" stroke="#fff" stroke-width="1.15" />
</g>
<clipPath id="c915"><rect x="399.50" y="695.50" width="38.00" height="38.00"/></clipPath>
<g clip-path="url(#c915)" stroke="#00ffff" stroke-width="1.05">
<line x1="353.00" y1="695.50" x2="391.00" y2="733.50"/>
<line x1="361.20" y1="695.50" x2="399.20" y2="733.50"/>
<line x1="369.40" y1="695.50" x2="407.40" y2="733.50"/>
<line x1="377.60" y1="695.50" x2="415.60" y2="733.50"/>
<line x1="385.80" y1="695.50" x2="423.80" y2="733.50"/>
<line x1="394.00" y1="695.50" x2="432.00" y2="733.50"/>
<line x1="402.20" y1="695.50" x2="440.20" y2="733.50"/>
<line x1="410.40" y1="695.50" x2="448.40" y2="733.50"/>
<line x1="418.60" y1="695.50" x2="456.60" y2="733.50"/>
<line x1="426.80" y1="695.50" x2="464.80" y2="733.50"/>
<line x1="435.00" y1="695.50" x2="473.00" y2="733.50"/>
</g>
<rect x="405.50" y="707.50" width="26.00" height="14.00" fill="none" stroke="#00ffff" stroke-width="1.1" />
<g stroke="#8c84a6" stroke-width="1.25" fill="none">
<rect x="402.50" y="698.50" width="32.00" height="32.00"/>
<line x1="406.50" y1="698.50" x2="406.50" y2="730.50"/>
<line x1="410.50" y1="698.50" x2="410.50" y2="730.50"/>
<line x1="414.50" y1="698.50" x2="414.50" y2="730.50"/>
<line x1="418.50" y1="698.50" x2="418.50" y2="730.50"/>
<line x1="422.50" y1="698.50" x2="422.50" y2="730.50"/>
<line x1="426.50" y1="698.50" x2="426.50" y2="730.50"/>
<line x1="430.50" y1="698.50" x2="430.50" y2="730.50"/>
</g>
<rect x="399.50" y="695.50" width="38.00" height="38.00" fill="none" stroke="#00ffff" stroke-width="1.25" />
<line x1="388.50" y1="684.50" x2="418.50" y2="715.00" stroke="#ffff00" stroke-width="1.0" stroke-dasharray="5.6 2.8 2.8 2.8" stroke-dashoffset="-5"/>
<line x1="448.50" y1="684.50" x2="418.50" y2="715.00" stroke="#ffff00" stroke-width="1.0" stroke-dasharray="5.6 2.8 2.8 2.8" stroke-dashoffset="-5"/>
<line x1="388.50" y1="745.50" x2="418.50" y2="715.00" stroke="#ffff00" stroke-width="1.0" stroke-dasharray="5.6 2.8 2.8 2.8" stroke-dashoffset="-5"/>
<line x1="448.50" y1="745.50" x2="418.50" y2="715.00" stroke="#ffff00" stroke-width="1.0" stroke-dasharray="5.6 2.8 2.8 2.8" stroke-dashoffset="-5"/>
<g class="t">
<text transform="translate(442.60,720.80) scale(-1,1.27)" x="0" y="0" font-family="Liberation Mono, monospace" font-size="11.19" fill="#fff" stroke="#fff" stroke-width="0.55">pin&lt;25&gt;</text>
<line x1="403.71" y1="710.40" x2="403.71" y2="720.80" stroke="#fff" stroke-width="1.25" />
<line x1="416.54" y1="718.60" x2="419.94" y2="718.60" stroke="#fff" stroke-width="1.15" />
<line x1="416.54" y1="716.40" x2="419.94" y2="716.40" stroke="#fff" stroke-width="1.15" />
<line x1="416.54" y1="714.40" x2="419.94" y2="714.40" stroke="#fff" stroke-width="1.15" />
<polygon points="418.94,713.00 424.74,720.20 424.74,713.00 418.94,720.20" fill="#fff"/>
<line x1="423.46" y1="718.60" x2="427.66" y2="718.60" stroke="#fff" stroke-width="1.15" />
<line x1="423.46" y1="716.20" x2="427.66" y2="716.20" stroke="#fff" stroke-width="1.15" />
<rect x="403.71" y="713.60" width="12.23" height="7.20" fill="none" stroke="#fff" stroke-width="1.15" />
</g>
<clipPath id="c956"><rect x="35.50" y="392.50" width="38.00" height="38.00"/></clipPath>
<g clip-path="url(#c956)" stroke="#00ffff" stroke-width="1.05">
<line x1="-11.00" y1="392.50" x2="27.00" y2="430.50"/>
<line x1="-2.80" y1="392.50" x2="35.20" y2="430.50"/>
<line x1="5.40" y1="392.50" x2="43.40" y2="430.50"/>
<line x1="13.60" y1="392.50" x2="51.60" y2="430.50"/>
<line x1="21.80" y1="392.50" x2="59.80" y2="430.50"/>
<line x1="30.00" y1="392.50" x2="68.00" y2="430.50"/>
<line x1="38.20" y1="392.50" x2="76.20" y2="430.50"/>
<line x1="46.40" y1="392.50" x2="84.40" y2="430.50"/>
<line x1="54.60" y1="392.50" x2="92.60" y2="430.50"/>
<line x1="62.80" y1="392.50" x2="100.80" y2="430.50"/>
<line x1="71.00" y1="392.50" x2="109.00" y2="430.50"/>
</g>
<rect x="41.50" y="404.50" width="26.00" height="14.00" fill="none" stroke="#00ffff" stroke-width="1.1" />
<g stroke="#8c84a6" stroke-width="1.25" fill="none">
<rect x="38.50" y="395.50" width="32.00" height="32.00"/>
<line x1="42.50" y1="395.50" x2="42.50" y2="427.50"/>
<line x1="46.50" y1="395.50" x2="46.50" y2="427.50"/>
<line x1="50.50" y1="395.50" x2="50.50" y2="427.50"/>
<line x1="54.50" y1="395.50" x2="54.50" y2="427.50"/>
<line x1="58.50" y1="395.50" x2="58.50" y2="427.50"/>
<line x1="62.50" y1="395.50" x2="62.50" y2="427.50"/>
<line x1="66.50" y1="395.50" x2="66.50" y2="427.50"/>
</g>
<rect x="35.50" y="392.50" width="38.00" height="38.00" fill="none" stroke="#00ffff" stroke-width="1.25" />
<line x1="24.50" y1="381.50" x2="55.00" y2="412.00" stroke="#ffff00" stroke-width="1.0" stroke-dasharray="5.6 2.8 2.8 2.8" stroke-dashoffset="-5"/>
<line x1="85.50" y1="381.50" x2="55.00" y2="412.00" stroke="#ffff00" stroke-width="1.0" stroke-dasharray="5.6 2.8 2.8 2.8" stroke-dashoffset="-5"/>
<line x1="24.50" y1="442.50" x2="55.00" y2="412.00" stroke="#ffff00" stroke-width="1.0" stroke-dasharray="5.6 2.8 2.8 2.8" stroke-dashoffset="-5"/>
<line x1="85.50" y1="442.50" x2="55.00" y2="412.00" stroke="#ffff00" stroke-width="1.0" stroke-dasharray="5.6 2.8 2.8 2.8" stroke-dashoffset="-5"/>
<g class="t">
<text transform="translate(78.50,417.80) scale(-1,1.27)" x="0" y="0" font-family="Liberation Mono, monospace" font-size="11.07" fill="#fff" stroke="#fff" stroke-width="0.55">pin&lt;30&gt;</text>
<line x1="40.04" y1="407.40" x2="40.04" y2="417.80" stroke="#fff" stroke-width="1.25" />
<line x1="52.73" y1="415.60" x2="56.13" y2="415.60" stroke="#fff" stroke-width="1.15" />
<line x1="52.73" y1="413.40" x2="56.13" y2="413.40" stroke="#fff" stroke-width="1.15" />
<line x1="52.73" y1="411.40" x2="56.13" y2="411.40" stroke="#fff" stroke-width="1.15" />
<polygon points="55.13,410.00 60.93,417.20 60.93,410.00 55.13,417.20" fill="#fff"/>
<line x1="59.57" y1="415.60" x2="63.77" y2="415.60" stroke="#fff" stroke-width="1.15" />
<line x1="59.57" y1="413.20" x2="63.77" y2="413.20" stroke="#fff" stroke-width="1.15" />
<rect x="40.04" y="410.60" width="12.09" height="7.20" fill="none" stroke="#fff" stroke-width="1.15" />
</g>
<clipPath id="c997"><rect x="702.50" y="392.50" width="38.00" height="38.00"/></clipPath>
<g clip-path="url(#c997)" stroke="#00ffff" stroke-width="1.05">
<line x1="656.00" y1="392.50" x2="694.00" y2="430.50"/>
<line x1="664.20" y1="392.50" x2="702.20" y2="430.50"/>
<line x1="672.40" y1="392.50" x2="710.40" y2="430.50"/>
<line x1="680.60" y1="392.50" x2="718.60" y2="430.50"/>
<line x1="688.80" y1="392.50" x2="726.80" y2="430.50"/>
<line x1="697.00" y1="392.50" x2="735.00" y2="430.50"/>
<line x1="705.20" y1="392.50" x2="743.20" y2="430.50"/>
<line x1="713.40" y1="392.50" x2="751.40" y2="430.50"/>
<line x1="721.60" y1="392.50" x2="759.60" y2="430.50"/>
<line x1="729.80" y1="392.50" x2="767.80" y2="430.50"/>
<line x1="738.00" y1="392.50" x2="776.00" y2="430.50"/>
</g>
<rect x="708.50" y="404.50" width="26.00" height="14.00" fill="none" stroke="#00ffff" stroke-width="1.1" />
<g stroke="#8c84a6" stroke-width="1.25" fill="none">
<rect x="705.50" y="395.50" width="32.00" height="32.00"/>
<line x1="709.50" y1="395.50" x2="709.50" y2="427.50"/>
<line x1="713.50" y1="395.50" x2="713.50" y2="427.50"/>
<line x1="717.50" y1="395.50" x2="717.50" y2="427.50"/>
<line x1="721.50" y1="395.50" x2="721.50" y2="427.50"/>
<line x1="725.50" y1="395.50" x2="725.50" y2="427.50"/>
<line x1="729.50" y1="395.50" x2="729.50" y2="427.50"/>
<line x1="733.50" y1="395.50" x2="733.50" y2="427.50"/>
</g>
<rect x="702.50" y="392.50" width="38.00" height="38.00" fill="none" stroke="#00ffff" stroke-width="1.25" />
<line x1="691.50" y1="381.50" x2="721.50" y2="412.00" stroke="#ffff00" stroke-width="1.0" stroke-dasharray="5.6 2.8 2.8 2.8" stroke-dashoffset="-5"/>
<line x1="751.50" y1="381.50" x2="721.50" y2="412.00" stroke="#ffff00" stroke-width="1.0" stroke-dasharray="5.6 2.8 2.8 2.8" stroke-dashoffset="-5"/>
<line x1="691.50" y1="442.50" x2="721.50" y2="412.00" stroke="#ffff00" stroke-width="1.0" stroke-dasharray="5.6 2.8 2.8 2.8" stroke-dashoffset="-5"/>
<line x1="751.50" y1="442.50" x2="721.50" y2="412.00" stroke="#ffff00" stroke-width="1.0" stroke-dasharray="5.6 2.8 2.8 2.8" stroke-dashoffset="-5"/>
<g class="t">
<text transform="translate(744.50,417.80) scale(-1,1.27)" x="0" y="0" font-family="Liberation Mono, monospace" font-size="10.71" fill="#fff" stroke="#fff" stroke-width="0.55">pin&lt;25&gt;</text>
<line x1="707.33" y1="407.40" x2="707.33" y2="417.80" stroke="#fff" stroke-width="1.25" />
<line x1="719.59" y1="415.60" x2="722.99" y2="415.60" stroke="#fff" stroke-width="1.15" />
<line x1="719.59" y1="413.40" x2="722.99" y2="413.40" stroke="#fff" stroke-width="1.15" />
<line x1="719.59" y1="411.40" x2="722.99" y2="411.40" stroke="#fff" stroke-width="1.15" />
<polygon points="721.99,410.00 727.79,417.20 727.79,410.00 721.99,417.20" fill="#fff"/>
<line x1="726.21" y1="415.60" x2="730.41" y2="415.60" stroke="#fff" stroke-width="1.15" />
<line x1="726.21" y1="413.20" x2="730.41" y2="413.20" stroke="#fff" stroke-width="1.15" />
<rect x="707.33" y="410.60" width="11.66" height="7.20" fill="none" stroke="#fff" stroke-width="1.15" />
</g>
<clipPath id="c1038"><rect x="459.50" y="29.50" width="38.00" height="38.00"/></clipPath>
<g clip-path="url(#c1038)" stroke="#00ffff" stroke-width="1.05">
<line x1="413.00" y1="29.50" x2="451.00" y2="67.50"/>
<line x1="421.20" y1="29.50" x2="459.20" y2="67.50"/>
<line x1="429.40" y1="29.50" x2="467.40" y2="67.50"/>
<line x1="437.60" y1="29.50" x2="475.60" y2="67.50"/>
<line x1="445.80" y1="29.50" x2="483.80" y2="67.50"/>
<line x1="454.00" y1="29.50" x2="492.00" y2="67.50"/>
<line x1="462.20" y1="29.50" x2="500.20" y2="67.50"/>
<line x1="470.40" y1="29.50" x2="508.40" y2="67.50"/>
<line x1="478.60" y1="29.50" x2="516.60" y2="67.50"/>
<line x1="486.80" y1="29.50" x2="524.80" y2="67.50"/>
<line x1="495.00" y1="29.50" x2="533.00" y2="67.50"/>
</g>
<rect x="465.50" y="41.50" width="26.00" height="14.00" fill="none" stroke="#00ffff" stroke-width="1.1" />
<g stroke="#8c84a6" stroke-width="1.25" fill="none">
<rect x="462.50" y="32.50" width="32.00" height="32.00"/>
<line x1="466.50" y1="32.50" x2="466.50" y2="64.50"/>
<line x1="470.50" y1="32.50" x2="470.50" y2="64.50"/>
<line x1="474.50" y1="32.50" x2="474.50" y2="64.50"/>
<line x1="478.50" y1="32.50" x2="478.50" y2="64.50"/>
<line x1="482.50" y1="32.50" x2="482.50" y2="64.50"/>
<line x1="486.50" y1="32.50" x2="486.50" y2="64.50"/>
<line x1="490.50" y1="32.50" x2="490.50" y2="64.50"/>
</g>
<rect x="459.50" y="29.50" width="38.00" height="38.00" fill="none" stroke="#00ffff" stroke-width="1.25" />
<line x1="448.50" y1="17.50" x2="479.00" y2="48.00" stroke="#ffff00" stroke-width="1.0" stroke-dasharray="5.6 2.8 2.8 2.8" stroke-dashoffset="-5"/>
<line x1="509.50" y1="17.50" x2="479.00" y2="48.00" stroke="#ffff00" stroke-width="1.0" stroke-dasharray="5.6 2.8 2.8 2.8" stroke-dashoffset="-5"/>
<line x1="448.50" y1="78.50" x2="479.00" y2="48.00" stroke="#ffff00" stroke-width="1.0" stroke-dasharray="5.6 2.8 2.8 2.8" stroke-dashoffset="-5"/>
<line x1="509.50" y1="78.50" x2="479.00" y2="48.00" stroke="#ffff00" stroke-width="1.0" stroke-dasharray="5.6 2.8 2.8 2.8" stroke-dashoffset="-5"/>
<g class="t">
<text transform="translate(502.40,53.80) scale(-1,1.27)" x="0" y="0" font-family="Liberation Mono, monospace" font-size="10.71" fill="#fff" stroke="#fff" stroke-width="0.55">pin&lt;16&gt;</text>
<line x1="465.23" y1="43.40" x2="465.23" y2="53.80" stroke="#fff" stroke-width="1.25" />
<line x1="477.49" y1="51.60" x2="480.89" y2="51.60" stroke="#fff" stroke-width="1.15" />
<line x1="477.49" y1="49.40" x2="480.89" y2="49.40" stroke="#fff" stroke-width="1.15" />
<line x1="477.49" y1="47.40" x2="480.89" y2="47.40" stroke="#fff" stroke-width="1.15" />
<polygon points="479.89,46.00 485.69,53.20 485.69,46.00 479.89,53.20" fill="#fff"/>
<line x1="484.11" y1="51.60" x2="488.31" y2="51.60" stroke="#fff" stroke-width="1.15" />
<line x1="484.11" y1="49.20" x2="488.31" y2="49.20" stroke="#fff" stroke-width="1.15" />
<rect x="465.23" y="46.60" width="11.66" height="7.20" fill="none" stroke="#fff" stroke-width="1.15" />
</g>
<clipPath id="c1079"><rect x="459.50" y="695.50" width="38.00" height="38.00"/></clipPath>
<g clip-path="url(#c1079)" stroke="#00ffff" stroke-width="1.05">
<line x1="413.00" y1="695.50" x2="451.00" y2="733.50"/>
<line x1="421.20" y1="695.50" x2="459.20" y2="733.50"/>
<line x1="429.40" y1="695.50" x2="467.40" y2="733.50"/>
<line x1="437.60" y1="695.50" x2="475.60" y2="733.50"/>
<line x1="445.80" y1="695.50" x2="483.80" y2="733.50"/>
<line x1="454.00" y1="695.50" x2="492.00" y2="733.50"/>
<line x1="462.20" y1="695.50" x2="500.20" y2="733.50"/>
<line x1="470.40" y1="695.50" x2="508.40" y2="733.50"/>
<line x1="478.60" y1="695.50" x2="516.60" y2="733.50"/>
<line x1="486.80" y1="695.50" x2="524.80" y2="733.50"/>
<line x1="495.00" y1="695.50" x2="533.00" y2="733.50"/>
</g>
<rect x="465.50" y="707.50" width="26.00" height="14.00" fill="none" stroke="#00ffff" stroke-width="1.1" />
<g stroke="#8c84a6" stroke-width="1.25" fill="none">
<rect x="462.50" y="698.50" width="32.00" height="32.00"/>
<line x1="466.50" y1="698.50" x2="466.50" y2="730.50"/>
<line x1="470.50" y1="698.50" x2="470.50" y2="730.50"/>
<line x1="474.50" y1="698.50" x2="474.50" y2="730.50"/>
<line x1="478.50" y1="698.50" x2="478.50" y2="730.50"/>
<line x1="482.50" y1="698.50" x2="482.50" y2="730.50"/>
<line x1="486.50" y1="698.50" x2="486.50" y2="730.50"/>
<line x1="490.50" y1="698.50" x2="490.50" y2="730.50"/>
</g>
<rect x="459.50" y="695.50" width="38.00" height="38.00" fill="none" stroke="#00ffff" stroke-width="1.25" />
<line x1="448.50" y1="684.50" x2="479.00" y2="715.00" stroke="#ffff00" stroke-width="1.0" stroke-dasharray="5.6 2.8 2.8 2.8" stroke-dashoffset="-5"/>
<line x1="509.50" y1="684.50" x2="479.00" y2="715.00" stroke="#ffff00" stroke-width="1.0" stroke-dasharray="5.6 2.8 2.8 2.8" stroke-dashoffset="-5"/>
<line x1="448.50" y1="745.50" x2="479.00" y2="715.00" stroke="#ffff00" stroke-width="1.0" stroke-dasharray="5.6 2.8 2.8 2.8" stroke-dashoffset="-5"/>
<line x1="509.50" y1="745.50" x2="479.00" y2="715.00" stroke="#ffff00" stroke-width="1.0" stroke-dasharray="5.6 2.8 2.8 2.8" stroke-dashoffset="-5"/>
<g class="t">
<text transform="translate(502.80,720.80) scale(-1,1.27)" x="0" y="0" font-family="Liberation Mono, monospace" font-size="11.19" fill="#fff" stroke="#fff" stroke-width="0.55">pin&lt;24&gt;</text>
<line x1="463.91" y1="710.40" x2="463.91" y2="720.80" stroke="#fff" stroke-width="1.25" />
<line x1="476.74" y1="718.60" x2="480.14" y2="718.60" stroke="#fff" stroke-width="1.15" />
<line x1="476.74" y1="716.40" x2="480.14" y2="716.40" stroke="#fff" stroke-width="1.15" />
<line x1="476.74" y1="714.40" x2="480.14" y2="714.40" stroke="#fff" stroke-width="1.15" />
<polygon points="479.14,713.00 484.94,720.20 484.94,713.00 479.14,720.20" fill="#fff"/>
<line x1="483.66" y1="718.60" x2="487.86" y2="718.60" stroke="#fff" stroke-width="1.15" />
<line x1="483.66" y1="716.20" x2="487.86" y2="716.20" stroke="#fff" stroke-width="1.15" />
<rect x="463.91" y="713.60" width="12.23" height="7.20" fill="none" stroke="#fff" stroke-width="1.15" />
</g>
<clipPath id="c1120"><rect x="35.50" y="453.50" width="38.00" height="38.00"/></clipPath>
<g clip-path="url(#c1120)" stroke="#00ffff" stroke-width="1.05">
<line x1="-11.00" y1="453.50" x2="27.00" y2="491.50"/>
<line x1="-2.80" y1="453.50" x2="35.20" y2="491.50"/>
<line x1="5.40" y1="453.50" x2="43.40" y2="491.50"/>
<line x1="13.60" y1="453.50" x2="51.60" y2="491.50"/>
<line x1="21.80" y1="453.50" x2="59.80" y2="491.50"/>
<line x1="30.00" y1="453.50" x2="68.00" y2="491.50"/>
<line x1="38.20" y1="453.50" x2="76.20" y2="491.50"/>
<line x1="46.40" y1="453.50" x2="84.40" y2="491.50"/>
<line x1="54.60" y1="453.50" x2="92.60" y2="491.50"/>
<line x1="62.80" y1="453.50" x2="100.80" y2="491.50"/>
<line x1="71.00" y1="453.50" x2="109.00" y2="491.50"/>
</g>
<rect x="41.50" y="465.50" width="26.00" height="14.00" fill="none" stroke="#00ffff" stroke-width="1.1" />
<g stroke="#8c84a6" stroke-width="1.25" fill="none">
<rect x="38.50" y="456.50" width="32.00" height="32.00"/>
<line x1="42.50" y1="456.50" x2="42.50" y2="488.50"/>
<line x1="46.50" y1="456.50" x2="46.50" y2="488.50"/>
<line x1="50.50" y1="456.50" x2="50.50" y2="488.50"/>
<line x1="54.50" y1="456.50" x2="54.50" y2="488.50"/>
<line x1="58.50" y1="456.50" x2="58.50" y2="488.50"/>
<line x1="62.50" y1="456.50" x2="62.50" y2="488.50"/>
<line x1="66.50" y1="456.50" x2="66.50" y2="488.50"/>
</g>
<rect x="35.50" y="453.50" width="38.00" height="38.00" fill="none" stroke="#00ffff" stroke-width="1.25" />
<line x1="24.50" y1="442.50" x2="55.00" y2="472.50" stroke="#ffff00" stroke-width="1.0" stroke-dasharray="5.6 2.8 2.8 2.8" stroke-dashoffset="-5"/>
<line x1="85.50" y1="442.50" x2="55.00" y2="472.50" stroke="#ffff00" stroke-width="1.0" stroke-dasharray="5.6 2.8 2.8 2.8" stroke-dashoffset="-5"/>
<line x1="24.50" y1="502.50" x2="55.00" y2="472.50" stroke="#ffff00" stroke-width="1.0" stroke-dasharray="5.6 2.8 2.8 2.8" stroke-dashoffset="-5"/>
<line x1="85.50" y1="502.50" x2="55.00" y2="472.50" stroke="#ffff00" stroke-width="1.0" stroke-dasharray="5.6 2.8 2.8 2.8" stroke-dashoffset="-5"/>
<g class="t">
<text transform="translate(78.50,478.80) scale(-1,1.27)" x="0" y="0" font-family="Liberation Mono, monospace" font-size="11.07" fill="#fff" stroke="#fff" stroke-width="0.55">pin&lt;29&gt;</text>
<line x1="40.04" y1="468.40" x2="40.04" y2="478.80" stroke="#fff" stroke-width="1.25" />
<line x1="52.73" y1="476.60" x2="56.13" y2="476.60" stroke="#fff" stroke-width="1.15" />
<line x1="52.73" y1="474.40" x2="56.13" y2="474.40" stroke="#fff" stroke-width="1.15" />
<line x1="52.73" y1="472.40" x2="56.13" y2="472.40" stroke="#fff" stroke-width="1.15" />
<polygon points="55.13,471.00 60.93,478.20 60.93,471.00 55.13,478.20" fill="#fff"/>
<line x1="59.57" y1="476.60" x2="63.77" y2="476.60" stroke="#fff" stroke-width="1.15" />
<line x1="59.57" y1="474.20" x2="63.77" y2="474.20" stroke="#fff" stroke-width="1.15" />
<rect x="40.04" y="471.60" width="12.09" height="7.20" fill="none" stroke="#fff" stroke-width="1.15" />
</g>
<clipPath id="c1161"><rect x="702.50" y="453.50" width="38.00" height="38.00"/></clipPath>
<g clip-path="url(#c1161)" stroke="#00ffff" stroke-width="1.05">
<line x1="656.00" y1="453.50" x2="694.00" y2="491.50"/>
<line x1="664.20" y1="453.50" x2="702.20" y2="491.50"/>
<line x1="672.40" y1="453.50" x2="710.40" y2="491.50"/>
<line x1="680.60" y1="453.50" x2="718.60" y2="491.50"/>
<line x1="688.80" y1="453.50" x2="726.80" y2="491.50"/>
<line x1="697.00" y1="453.50" x2="735.00" y2="491.50"/>
<line x1="705.20" y1="453.50" x2="743.20" y2="491.50"/>
<line x1="713.40" y1="453.50" x2="751.40" y2="491.50"/>
<line x1="721.60" y1="453.50" x2="759.60" y2="491.50"/>
<line x1="729.80" y1="453.50" x2="767.80" y2="491.50"/>
<line x1="738.00" y1="453.50" x2="776.00" y2="491.50"/>
</g>
<rect x="708.50" y="465.50" width="26.00" height="14.00" fill="none" stroke="#00ffff" stroke-width="1.1" />
<g stroke="#8c84a6" stroke-width="1.25" fill="none">
<rect x="705.50" y="456.50" width="32.00" height="32.00"/>
<line x1="709.50" y1="456.50" x2="709.50" y2="488.50"/>
<line x1="713.50" y1="456.50" x2="713.50" y2="488.50"/>
<line x1="717.50" y1="456.50" x2="717.50" y2="488.50"/>
<line x1="721.50" y1="456.50" x2="721.50" y2="488.50"/>
<line x1="725.50" y1="456.50" x2="725.50" y2="488.50"/>
<line x1="729.50" y1="456.50" x2="729.50" y2="488.50"/>
<line x1="733.50" y1="456.50" x2="733.50" y2="488.50"/>
</g>
<rect x="702.50" y="453.50" width="38.00" height="38.00" fill="none" stroke="#00ffff" stroke-width="1.25" />
<line x1="691.50" y1="442.50" x2="721.50" y2="472.50" stroke="#ffff00" stroke-width="1.0" stroke-dasharray="5.6 2.8 2.8 2.8" stroke-dashoffset="-5"/>
<line x1="751.50" y1="442.50" x2="721.50" y2="472.50" stroke="#ffff00" stroke-width="1.0" stroke-dasharray="5.6 2.8 2.8 2.8" stroke-dashoffset="-5"/>
<line x1="691.50" y1="502.50" x2="721.50" y2="472.50" stroke="#ffff00" stroke-width="1.0" stroke-dasharray="5.6 2.8 2.8 2.8" stroke-dashoffset="-5"/>
<line x1="751.50" y1="502.50" x2="721.50" y2="472.50" stroke="#ffff00" stroke-width="1.0" stroke-dasharray="5.6 2.8 2.8 2.8" stroke-dashoffset="-5"/>
<g class="t">
<text transform="translate(744.50,478.80) scale(-1,1.27)" x="0" y="0" font-family="Liberation Mono, monospace" font-size="10.71" fill="#fff" stroke="#fff" stroke-width="0.55">pin&lt;26&gt;</text>
<line x1="707.33" y1="468.40" x2="707.33" y2="478.80" stroke="#fff" stroke-width="1.25" />
<line x1="719.59" y1="476.60" x2="722.99" y2="476.60" stroke="#fff" stroke-width="1.15" />
<line x1="719.59" y1="474.40" x2="722.99" y2="474.40" stroke="#fff" stroke-width="1.15" />
<line x1="719.59" y1="472.40" x2="722.99" y2="472.40" stroke="#fff" stroke-width="1.15" />
<polygon points="721.99,471.00 727.79,478.20 727.79,471.00 721.99,478.20" fill="#fff"/>
<line x1="726.21" y1="476.60" x2="730.41" y2="476.60" stroke="#fff" stroke-width="1.15" />
<line x1="726.21" y1="474.20" x2="730.41" y2="474.20" stroke="#fff" stroke-width="1.15" />
<rect x="707.33" y="471.60" width="11.66" height="7.20" fill="none" stroke="#fff" stroke-width="1.15" />
</g>
<clipPath id="c1202"><rect x="520.50" y="29.50" width="38.00" height="38.00"/></clipPath>
<g clip-path="url(#c1202)" stroke="#00ffff" stroke-width="1.05">
<line x1="474.00" y1="29.50" x2="512.00" y2="67.50"/>
<line x1="482.20" y1="29.50" x2="520.20" y2="67.50"/>
<line x1="490.40" y1="29.50" x2="528.40" y2="67.50"/>
<line x1="498.60" y1="29.50" x2="536.60" y2="67.50"/>
<line x1="506.80" y1="29.50" x2="544.80" y2="67.50"/>
<line x1="515.00" y1="29.50" x2="553.00" y2="67.50"/>
<line x1="523.20" y1="29.50" x2="561.20" y2="67.50"/>
<line x1="531.40" y1="29.50" x2="569.40" y2="67.50"/>
<line x1="539.60" y1="29.50" x2="577.60" y2="67.50"/>
<line x1="547.80" y1="29.50" x2="585.80" y2="67.50"/>
<line x1="556.00" y1="29.50" x2="594.00" y2="67.50"/>
</g>
<rect x="526.50" y="41.50" width="26.00" height="14.00" fill="none" stroke="#00ffff" stroke-width="1.1" />
<g stroke="#8c84a6" stroke-width="1.25" fill="none">
<rect x="523.50" y="32.50" width="32.00" height="32.00"/>
<line x1="527.50" y1="32.50" x2="527.50" y2="64.50"/>
<line x1="531.50" y1="32.50" x2="531.50" y2="64.50"/>
<line x1="535.50" y1="32.50" x2="535.50" y2="64.50"/>
<line x1="539.50" y1="32.50" x2="539.50" y2="64.50"/>
<line x1="543.50" y1="32.50" x2="543.50" y2="64.50"/>
<line x1="547.50" y1="32.50" x2="547.50" y2="64.50"/>
<line x1="551.50" y1="32.50" x2="551.50" y2="64.50"/>
</g>
<rect x="520.50" y="29.50" width="38.00" height="38.00" fill="none" stroke="#00ffff" stroke-width="1.25" />
<line x1="509.50" y1="17.50" x2="539.50" y2="48.00" stroke="#ffff00" stroke-width="1.0" stroke-dasharray="5.6 2.8 2.8 2.8" stroke-dashoffset="-5"/>
<line x1="569.50" y1="17.50" x2="539.50" y2="48.00" stroke="#ffff00" stroke-width="1.0" stroke-dasharray="5.6 2.8 2.8 2.8" stroke-dashoffset="-5"/>
<line x1="509.50" y1="78.50" x2="539.50" y2="48.00" stroke="#ffff00" stroke-width="1.0" stroke-dasharray="5.6 2.8 2.8 2.8" stroke-dashoffset="-5"/>
<line x1="569.50" y1="78.50" x2="539.50" y2="48.00" stroke="#ffff00" stroke-width="1.0" stroke-dasharray="5.6 2.8 2.8 2.8" stroke-dashoffset="-5"/>
<g class="t">
<text transform="translate(563.20,53.80) scale(-1,1.27)" x="0" y="0" font-family="Liberation Mono, monospace" font-size="11.07" fill="#fff" stroke="#fff" stroke-width="0.55">pin&lt;17&gt;</text>
<line x1="524.74" y1="43.40" x2="524.74" y2="53.80" stroke="#fff" stroke-width="1.25" />
<line x1="537.43" y1="51.60" x2="540.83" y2="51.60" stroke="#fff" stroke-width="1.15" />
<line x1="537.43" y1="49.40" x2="540.83" y2="49.40" stroke="#fff" stroke-width="1.15" />
<line x1="537.43" y1="47.40" x2="540.83" y2="47.40" stroke="#fff" stroke-width="1.15" />
<polygon points="539.83,46.00 545.63,53.20 545.63,46.00 539.83,53.20" fill="#fff"/>
<line x1="544.27" y1="51.60" x2="548.47" y2="51.60" stroke="#fff" stroke-width="1.15" />
<line x1="544.27" y1="49.20" x2="548.47" y2="49.20" stroke="#fff" stroke-width="1.15" />
<rect x="524.74" y="46.60" width="12.09" height="7.20" fill="none" stroke="#fff" stroke-width="1.15" />
</g>
<clipPath id="c1243"><rect x="520.50" y="695.50" width="38.00" height="38.00"/></clipPath>
<g clip-path="url(#c1243)" stroke="#00ffff" stroke-width="1.05">
<line x1="474.00" y1="695.50" x2="512.00" y2="733.50"/>
<line x1="482.20" y1="695.50" x2="520.20" y2="733.50"/>
<line x1="490.40" y1="695.50" x2="528.40" y2="733.50"/>
<line x1="498.60" y1="695.50" x2="536.60" y2="733.50"/>
<line x1="506.80" y1="695.50" x2="544.80" y2="733.50"/>
<line x1="515.00" y1="695.50" x2="553.00" y2="733.50"/>
<line x1="523.20" y1="695.50" x2="561.20" y2="733.50"/>
<line x1="531.40" y1="695.50" x2="569.40" y2="733.50"/>
<line x1="539.60" y1="695.50" x2="577.60" y2="733.50"/>
<line x1="547.80" y1="695.50" x2="585.80" y2="733.50"/>
<line x1="556.00" y1="695.50" x2="594.00" y2="733.50"/>
</g>
<rect x="526.50" y="707.50" width="26.00" height="14.00" fill="none" stroke="#00ffff" stroke-width="1.1" />
<g stroke="#8c84a6" stroke-width="1.25" fill="none">
<rect x="523.50" y="698.50" width="32.00" height="32.00"/>
<line x1="527.50" y1="698.50" x2="527.50" y2="730.50"/>
<line x1="531.50" y1="698.50" x2="531.50" y2="730.50"/>
<line x1="535.50" y1="698.50" x2="535.50" y2="730.50"/>
<line x1="539.50" y1="698.50" x2="539.50" y2="730.50"/>
<line x1="543.50" y1="698.50" x2="543.50" y2="730.50"/>
<line x1="547.50" y1="698.50" x2="547.50" y2="730.50"/>
<line x1="551.50" y1="698.50" x2="551.50" y2="730.50"/>
</g>
<rect x="520.50" y="695.50" width="38.00" height="38.00" fill="none" stroke="#00ffff" stroke-width="1.25" />
<line x1="509.50" y1="684.50" x2="539.50" y2="715.00" stroke="#ffff00" stroke-width="1.0" stroke-dasharray="5.6 2.8 2.8 2.8" stroke-dashoffset="-5"/>
<line x1="569.50" y1="684.50" x2="539.50" y2="715.00" stroke="#ffff00" stroke-width="1.0" stroke-dasharray="5.6 2.8 2.8 2.8" stroke-dashoffset="-5"/>
<line x1="509.50" y1="745.50" x2="539.50" y2="715.00" stroke="#ffff00" stroke-width="1.0" stroke-dasharray="5.6 2.8 2.8 2.8" stroke-dashoffset="-5"/>
<line x1="569.50" y1="745.50" x2="539.50" y2="715.00" stroke="#ffff00" stroke-width="1.0" stroke-dasharray="5.6 2.8 2.8 2.8" stroke-dashoffset="-5"/>
<g class="t">
<text transform="translate(563.80,720.80) scale(-1,1.27)" x="0" y="0" font-family="Liberation Mono, monospace" font-size="11.02" fill="#fff" stroke="#fff" stroke-width="0.55">pin&lt;23&gt;</text>
<line x1="525.51" y1="710.40" x2="525.51" y2="720.80" stroke="#fff" stroke-width="1.25" />
<line x1="538.14" y1="718.60" x2="541.54" y2="718.60" stroke="#fff" stroke-width="1.15" />
<line x1="538.14" y1="716.40" x2="541.54" y2="716.40" stroke="#fff" stroke-width="1.15" />
<line x1="538.14" y1="714.40" x2="541.54" y2="714.40" stroke="#fff" stroke-width="1.15" />
<polygon points="540.54,713.00 546.34,720.20 546.34,713.00 540.54,720.20" fill="#fff"/>
<line x1="544.96" y1="718.60" x2="549.16" y2="718.60" stroke="#fff" stroke-width="1.15" />
<line x1="544.96" y1="716.20" x2="549.16" y2="716.20" stroke="#fff" stroke-width="1.15" />
<rect x="525.51" y="713.60" width="12.03" height="7.20" fill="none" stroke="#fff" stroke-width="1.15" />
</g>
<clipPath id="c1284"><rect x="35.50" y="513.50" width="38.00" height="38.00"/></clipPath>
<g clip-path="url(#c1284)" stroke="#00ffff" stroke-width="1.05">
<line x1="-11.00" y1="513.50" x2="27.00" y2="551.50"/>
<line x1="-2.80" y1="513.50" x2="35.20" y2="551.50"/>
<line x1="5.40" y1="513.50" x2="43.40" y2="551.50"/>
<line x1="13.60" y1="513.50" x2="51.60" y2="551.50"/>
<line x1="21.80" y1="513.50" x2="59.80" y2="551.50"/>
<line x1="30.00" y1="513.50" x2="68.00" y2="551.50"/>
<line x1="38.20" y1="513.50" x2="76.20" y2="551.50"/>
<line x1="46.40" y1="513.50" x2="84.40" y2="551.50"/>
<line x1="54.60" y1="513.50" x2="92.60" y2="551.50"/>
<line x1="62.80" y1="513.50" x2="100.80" y2="551.50"/>
<line x1="71.00" y1="513.50" x2="109.00" y2="551.50"/>
</g>
<rect x="41.50" y="525.50" width="26.00" height="14.00" fill="none" stroke="#00ffff" stroke-width="1.1" />
<g stroke="#8c84a6" stroke-width="1.25" fill="none">
<rect x="38.50" y="516.50" width="32.00" height="32.00"/>
<line x1="42.50" y1="516.50" x2="42.50" y2="548.50"/>
<line x1="46.50" y1="516.50" x2="46.50" y2="548.50"/>
<line x1="50.50" y1="516.50" x2="50.50" y2="548.50"/>
<line x1="54.50" y1="516.50" x2="54.50" y2="548.50"/>
<line x1="58.50" y1="516.50" x2="58.50" y2="548.50"/>
<line x1="62.50" y1="516.50" x2="62.50" y2="548.50"/>
<line x1="66.50" y1="516.50" x2="66.50" y2="548.50"/>
</g>
<rect x="35.50" y="513.50" width="38.00" height="38.00" fill="none" stroke="#00ffff" stroke-width="1.25" />
<line x1="24.50" y1="502.50" x2="55.00" y2="533.00" stroke="#ffff00" stroke-width="1.0" stroke-dasharray="5.6 2.8 2.8 2.8" stroke-dashoffset="-5"/>
<line x1="85.50" y1="502.50" x2="55.00" y2="533.00" stroke="#ffff00" stroke-width="1.0" stroke-dasharray="5.6 2.8 2.8 2.8" stroke-dashoffset="-5"/>
<line x1="24.50" y1="563.50" x2="55.00" y2="533.00" stroke="#ffff00" stroke-width="1.0" stroke-dasharray="5.6 2.8 2.8 2.8" stroke-dashoffset="-5"/>
<line x1="85.50" y1="563.50" x2="55.00" y2="533.00" stroke="#ffff00" stroke-width="1.0" stroke-dasharray="5.6 2.8 2.8 2.8" stroke-dashoffset="-5"/>
<g class="t">
<text transform="translate(78.50,538.80) scale(-1,1.27)" x="0" y="0" font-family="Liberation Mono, monospace" font-size="11.07" fill="#fff" stroke="#fff" stroke-width="0.55">pin&lt;28&gt;</text>
<line x1="40.04" y1="528.40" x2="40.04" y2="538.80" stroke="#fff" stroke-width="1.25" />
<line x1="52.73" y1="536.60" x2="56.13" y2="536.60" stroke="#fff" stroke-width="1.15" />
<line x1="52.73" y1="534.40" x2="56.13" y2="534.40" stroke="#fff" stroke-width="1.15" />
<line x1="52.73" y1="532.40" x2="56.13" y2="532.40" stroke="#fff" stroke-width="1.15" />
<polygon points="55.13,531.00 60.93,538.20 60.93,531.00 55.13,538.20" fill="#fff"/>
<line x1="59.57" y1="536.60" x2="63.77" y2="536.60" stroke="#fff" stroke-width="1.15" />
<line x1="59.57" y1="534.20" x2="63.77" y2="534.20" stroke="#fff" stroke-width="1.15" />
<rect x="40.04" y="531.60" width="12.09" height="7.20" fill="none" stroke="#fff" stroke-width="1.15" />
</g>
<clipPath id="c1325"><rect x="702.50" y="513.50" width="38.00" height="38.00"/></clipPath>
<g clip-path="url(#c1325)" stroke="#00ffff" stroke-width="1.05">
<line x1="656.00" y1="513.50" x2="694.00" y2="551.50"/>
<line x1="664.20" y1="513.50" x2="702.20" y2="551.50"/>
<line x1="672.40" y1="513.50" x2="710.40" y2="551.50"/>
<line x1="680.60" y1="513.50" x2="718.60" y2="551.50"/>
<line x1="688.80" y1="513.50" x2="726.80" y2="551.50"/>
<line x1="697.00" y1="513.50" x2="735.00" y2="551.50"/>
<line x1="705.20" y1="513.50" x2="743.20" y2="551.50"/>
<line x1="713.40" y1="513.50" x2="751.40" y2="551.50"/>
<line x1="721.60" y1="513.50" x2="759.60" y2="551.50"/>
<line x1="729.80" y1="513.50" x2="767.80" y2="551.50"/>
<line x1="738.00" y1="513.50" x2="776.00" y2="551.50"/>
</g>
<rect x="708.50" y="525.50" width="26.00" height="14.00" fill="none" stroke="#00ffff" stroke-width="1.1" />
<g stroke="#8c84a6" stroke-width="1.25" fill="none">
<rect x="705.50" y="516.50" width="32.00" height="32.00"/>
<line x1="709.50" y1="516.50" x2="709.50" y2="548.50"/>
<line x1="713.50" y1="516.50" x2="713.50" y2="548.50"/>
<line x1="717.50" y1="516.50" x2="717.50" y2="548.50"/>
<line x1="721.50" y1="516.50" x2="721.50" y2="548.50"/>
<line x1="725.50" y1="516.50" x2="725.50" y2="548.50"/>
<line x1="729.50" y1="516.50" x2="729.50" y2="548.50"/>
<line x1="733.50" y1="516.50" x2="733.50" y2="548.50"/>
</g>
<rect x="702.50" y="513.50" width="38.00" height="38.00" fill="none" stroke="#00ffff" stroke-width="1.25" />
<line x1="691.50" y1="502.50" x2="721.50" y2="533.00" stroke="#ffff00" stroke-width="1.0" stroke-dasharray="5.6 2.8 2.8 2.8" stroke-dashoffset="-5"/>
<line x1="751.50" y1="502.50" x2="721.50" y2="533.00" stroke="#ffff00" stroke-width="1.0" stroke-dasharray="5.6 2.8 2.8 2.8" stroke-dashoffset="-5"/>
<line x1="691.50" y1="563.50" x2="721.50" y2="533.00" stroke="#ffff00" stroke-width="1.0" stroke-dasharray="5.6 2.8 2.8 2.8" stroke-dashoffset="-5"/>
<line x1="751.50" y1="563.50" x2="721.50" y2="533.00" stroke="#ffff00" stroke-width="1.0" stroke-dasharray="5.6 2.8 2.8 2.8" stroke-dashoffset="-5"/>
<g class="t">
<text transform="translate(744.50,538.80) scale(-1,1.27)" x="0" y="0" font-family="Liberation Mono, monospace" font-size="10.71" fill="#fff" stroke="#fff" stroke-width="0.55">pin&lt;27&gt;</text>
<line x1="707.33" y1="528.40" x2="707.33" y2="538.80" stroke="#fff" stroke-width="1.25" />
<line x1="719.59" y1="536.60" x2="722.99" y2="536.60" stroke="#fff" stroke-width="1.15" />
<line x1="719.59" y1="534.40" x2="722.99" y2="534.40" stroke="#fff" stroke-width="1.15" />
<line x1="719.59" y1="532.40" x2="722.99" y2="532.40" stroke="#fff" stroke-width="1.15" />
<polygon points="721.99,531.00 727.79,538.20 727.79,531.00 721.99,538.20" fill="#fff"/>
<line x1="726.21" y1="536.60" x2="730.41" y2="536.60" stroke="#fff" stroke-width="1.15" />
<line x1="726.21" y1="534.20" x2="730.41" y2="534.20" stroke="#fff" stroke-width="1.15" />
<rect x="707.33" y="531.60" width="11.66" height="7.20" fill="none" stroke="#fff" stroke-width="1.15" />
</g>
<clipPath id="c1366"><rect x="580.50" y="29.50" width="38.00" height="38.00"/></clipPath>
<g clip-path="url(#c1366)" stroke="#00ffff" stroke-width="1.05">
<line x1="534.00" y1="29.50" x2="572.00" y2="67.50"/>
<line x1="542.20" y1="29.50" x2="580.20" y2="67.50"/>
<line x1="550.40" y1="29.50" x2="588.40" y2="67.50"/>
<line x1="558.60" y1="29.50" x2="596.60" y2="67.50"/>
<line x1="566.80" y1="29.50" x2="604.80" y2="67.50"/>
<line x1="575.00" y1="29.50" x2="613.00" y2="67.50"/>
<line x1="583.20" y1="29.50" x2="621.20" y2="67.50"/>
<line x1="591.40" y1="29.50" x2="629.40" y2="67.50"/>
<line x1="599.60" y1="29.50" x2="637.60" y2="67.50"/>
<line x1="607.80" y1="29.50" x2="645.80" y2="67.50"/>
<line x1="616.00" y1="29.50" x2="654.00" y2="67.50"/>
</g>
<rect x="586.50" y="41.50" width="26.00" height="14.00" fill="none" stroke="#00ffff" stroke-width="1.1" />
<g stroke="#8c84a6" stroke-width="1.25" fill="none">
<rect x="583.50" y="32.50" width="32.00" height="32.00"/>
<line x1="587.50" y1="32.50" x2="587.50" y2="64.50"/>
<line x1="591.50" y1="32.50" x2="591.50" y2="64.50"/>
<line x1="595.50" y1="32.50" x2="595.50" y2="64.50"/>
<line x1="599.50" y1="32.50" x2="599.50" y2="64.50"/>
<line x1="603.50" y1="32.50" x2="603.50" y2="64.50"/>
<line x1="607.50" y1="32.50" x2="607.50" y2="64.50"/>
<line x1="611.50" y1="32.50" x2="611.50" y2="64.50"/>
</g>
<rect x="580.50" y="29.50" width="38.00" height="38.00" fill="none" stroke="#00ffff" stroke-width="1.25" />
<line x1="569.50" y1="17.50" x2="600.00" y2="48.00" stroke="#ffff00" stroke-width="1.0" stroke-dasharray="5.6 2.8 2.8 2.8" stroke-dashoffset="-5"/>
<line x1="630.50" y1="17.50" x2="600.00" y2="48.00" stroke="#ffff00" stroke-width="1.0" stroke-dasharray="5.6 2.8 2.8 2.8" stroke-dashoffset="-5"/>
<line x1="569.50" y1="78.50" x2="600.00" y2="48.00" stroke="#ffff00" stroke-width="1.0" stroke-dasharray="5.6 2.8 2.8 2.8" stroke-dashoffset="-5"/>
<line x1="630.50" y1="78.50" x2="600.00" y2="48.00" stroke="#ffff00" stroke-width="1.0" stroke-dasharray="5.6 2.8 2.8 2.8" stroke-dashoffset="-5"/>
<g class="t">
<text transform="translate(623.70,53.80) scale(-1,1.27)" x="0" y="0" font-family="Liberation Mono, monospace" font-size="10.95" fill="#fff" stroke="#fff" stroke-width="0.55">pin&lt;18&gt;</text>
<line x1="585.67" y1="43.40" x2="585.67" y2="53.80" stroke="#fff" stroke-width="1.25" />
<line x1="598.21" y1="51.60" x2="601.61" y2="51.60" stroke="#fff" stroke-width="1.15" />
<line x1="598.21" y1="49.40" x2="601.61" y2="49.40" stroke="#fff" stroke-width="1.15" />
<line x1="598.21" y1="47.40" x2="601.61" y2="47.40" stroke="#fff" stroke-width="1.15" />
<polygon points="600.61,46.00 606.41,53.20 606.41,46.00 600.61,53.20" fill="#fff"/>
<line x1="604.99" y1="51.60" x2="609.19" y2="51.60" stroke="#fff" stroke-width="1.15" />
<line x1="604.99" y1="49.20" x2="609.19" y2="49.20" stroke="#fff" stroke-width="1.15" />
<rect x="585.67" y="46.60" width="11.94" height="7.20" fill="none" stroke="#fff" stroke-width="1.15" />
</g>
<clipPath id="c1407"><rect x="580.50" y="695.50" width="38.00" height="38.00"/></clipPath>
<g clip-path="url(#c1407)" stroke="#00ffff" stroke-width="1.05">
<line x1="534.00" y1="695.50" x2="572.00" y2="733.50"/>
<line x1="542.20" y1="695.50" x2="580.20" y2="733.50"/>
<line x1="550.40" y1="695.50" x2="588.40" y2="733.50"/>
<line x1="558.60" y1="695.50" x2="596.60" y2="733.50"/>
<line x1="566.80" y1="695.50" x2="604.80" y2="733.50"/>
<line x1="575.00" y1="695.50" x2="613.00" y2="733.50"/>
<line x1="583.20" y1="695.50" x2="621.20" y2="733.50"/>
<line x1="591.40" y1="695.50" x2="629.40" y2="733.50"/>
<line x1="599.60" y1="695.50" x2="637.60" y2="733.50"/>
<line x1="607.80" y1="695.50" x2="645.80" y2="733.50"/>
<line x1="616.00" y1="695.50" x2="654.00" y2="733.50"/>
</g>
<rect x="586.50" y="707.50" width="26.00" height="14.00" fill="none" stroke="#00ffff" stroke-width="1.1" />
<g stroke="#8c84a6" stroke-width="1.25" fill="none">
<rect x="583.50" y="698.50" width="32.00" height="32.00"/>
<line x1="587.50" y1="698.50" x2="587.50" y2="730.50"/>
<line x1="591.50" y1="698.50" x2="591.50" y2="730.50"/>
<line x1="595.50" y1="698.50" x2="595.50" y2="730.50"/>
<line x1="599.50" y1="698.50" x2="599.50" y2="730.50"/>
<line x1="603.50" y1="698.50" x2="603.50" y2="730.50"/>
<line x1="607.50" y1="698.50" x2="607.50" y2="730.50"/>
<line x1="611.50" y1="698.50" x2="611.50" y2="730.50"/>
</g>
<rect x="580.50" y="695.50" width="38.00" height="38.00" fill="none" stroke="#00ffff" stroke-width="1.25" />
<line x1="569.50" y1="684.50" x2="600.00" y2="715.00" stroke="#ffff00" stroke-width="1.0" stroke-dasharray="5.6 2.8 2.8 2.8" stroke-dashoffset="-5"/>
<line x1="630.50" y1="684.50" x2="600.00" y2="715.00" stroke="#ffff00" stroke-width="1.0" stroke-dasharray="5.6 2.8 2.8 2.8" stroke-dashoffset="-5"/>
<line x1="569.50" y1="745.50" x2="600.00" y2="715.00" stroke="#ffff00" stroke-width="1.0" stroke-dasharray="5.6 2.8 2.8 2.8" stroke-dashoffset="-5"/>
<line x1="630.50" y1="745.50" x2="600.00" y2="715.00" stroke="#ffff00" stroke-width="1.0" stroke-dasharray="5.6 2.8 2.8 2.8" stroke-dashoffset="-5"/>
<g class="t">
<text transform="translate(623.70,720.80) scale(-1,1.27)" x="0" y="0" font-family="Liberation Mono, monospace" font-size="10.95" fill="#fff" stroke="#fff" stroke-width="0.55">pin&lt;22&gt;</text>
<line x1="585.67" y1="710.40" x2="585.67" y2="720.80" stroke="#fff" stroke-width="1.25" />
<line x1="598.21" y1="718.60" x2="601.61" y2="718.60" stroke="#fff" stroke-width="1.15" />
<line x1="598.21" y1="716.40" x2="601.61" y2="716.40" stroke="#fff" stroke-width="1.15" />
<line x1="598.21" y1="714.40" x2="601.61" y2="714.40" stroke="#fff" stroke-width="1.15" />
<polygon points="600.61,713.00 606.41,720.20 606.41,713.00 600.61,720.20" fill="#fff"/>
<line x1="604.99" y1="718.60" x2="609.19" y2="718.60" stroke="#fff" stroke-width="1.15" />
<line x1="604.99" y1="716.20" x2="609.19" y2="716.20" stroke="#fff" stroke-width="1.15" />
<rect x="585.67" y="713.60" width="11.94" height="7.20" fill="none" stroke="#fff" stroke-width="1.15" />
</g>
<clipPath id="c1448"><rect x="35.50" y="574.50" width="38.00" height="38.00"/></clipPath>
<g clip-path="url(#c1448)" stroke="#00ffff" stroke-width="1.05">
<line x1="-11.00" y1="574.50" x2="27.00" y2="612.50"/>
<line x1="-2.80" y1="574.50" x2="35.20" y2="612.50"/>
<line x1="5.40" y1="574.50" x2="43.40" y2="612.50"/>
<line x1="13.60" y1="574.50" x2="51.60" y2="612.50"/>
<line x1="21.80" y1="574.50" x2="59.80" y2="612.50"/>
<line x1="30.00" y1="574.50" x2="68.00" y2="612.50"/>
<line x1="38.20" y1="574.50" x2="76.20" y2="612.50"/>
<line x1="46.40" y1="574.50" x2="84.40" y2="612.50"/>
<line x1="54.60" y1="574.50" x2="92.60" y2="612.50"/>
<line x1="62.80" y1="574.50" x2="100.80" y2="612.50"/>
<line x1="71.00" y1="574.50" x2="109.00" y2="612.50"/>
</g>
<rect x="41.50" y="586.50" width="26.00" height="14.00" fill="none" stroke="#00ffff" stroke-width="1.1" />
<g stroke="#8c84a6" stroke-width="1.25" fill="none">
<rect x="38.50" y="577.50" width="32.00" height="32.00"/>
<line x1="42.50" y1="577.50" x2="42.50" y2="609.50"/>
<line x1="46.50" y1="577.50" x2="46.50" y2="609.50"/>
<line x1="50.50" y1="577.50" x2="50.50" y2="609.50"/>
<line x1="54.50" y1="577.50" x2="54.50" y2="609.50"/>
<line x1="58.50" y1="577.50" x2="58.50" y2="609.50"/>
<line x1="62.50" y1="577.50" x2="62.50" y2="609.50"/>
<line x1="66.50" y1="577.50" x2="66.50" y2="609.50"/>
</g>
<rect x="35.50" y="574.50" width="38.00" height="38.00" fill="none" stroke="#00ffff" stroke-width="1.25" />
<line x1="24.50" y1="563.50" x2="55.00" y2="593.50" stroke="#ffff00" stroke-width="1.0" stroke-dasharray="5.6 2.8 2.8 2.8" stroke-dashoffset="-5"/>
<line x1="85.50" y1="563.50" x2="55.00" y2="593.50" stroke="#ffff00" stroke-width="1.0" stroke-dasharray="5.6 2.8 2.8 2.8" stroke-dashoffset="-5"/>
<line x1="24.50" y1="623.50" x2="55.00" y2="593.50" stroke="#ffff00" stroke-width="1.0" stroke-dasharray="5.6 2.8 2.8 2.8" stroke-dashoffset="-5"/>
<line x1="85.50" y1="623.50" x2="55.00" y2="593.50" stroke="#ffff00" stroke-width="1.0" stroke-dasharray="5.6 2.8 2.8 2.8" stroke-dashoffset="-5"/>
<g class="t">
<text transform="translate(78.50,599.80) scale(-1,1.27)" x="0" y="0" font-family="Liberation Mono, monospace" font-size="11.07" fill="#fff" stroke="#fff" stroke-width="0.55">pin&lt;27&gt;</text>
<line x1="40.04" y1="589.40" x2="40.04" y2="599.80" stroke="#fff" stroke-width="1.25" />
<line x1="52.73" y1="597.60" x2="56.13" y2="597.60" stroke="#fff" stroke-width="1.15" />
<line x1="52.73" y1="595.40" x2="56.13" y2="595.40" stroke="#fff" stroke-width="1.15" />
<line x1="52.73" y1="593.40" x2="56.13" y2="593.40" stroke="#fff" stroke-width="1.15" />
<polygon points="55.13,592.00 60.93,599.20 60.93,592.00 55.13,599.20" fill="#fff"/>
<line x1="59.57" y1="597.60" x2="63.77" y2="597.60" stroke="#fff" stroke-width="1.15" />
<line x1="59.57" y1="595.20" x2="63.77" y2="595.20" stroke="#fff" stroke-width="1.15" />
<rect x="40.04" y="592.60" width="12.09" height="7.20" fill="none" stroke="#fff" stroke-width="1.15" />
</g>
<clipPath id="c1489"><rect x="702.50" y="574.50" width="38.00" height="38.00"/></clipPath>
<g clip-path="url(#c1489)" stroke="#00ffff" stroke-width="1.05">
<line x1="656.00" y1="574.50" x2="694.00" y2="612.50"/>
<line x1="664.20" y1="574.50" x2="702.20" y2="612.50"/>
<line x1="672.40" y1="574.50" x2="710.40" y2="612.50"/>
<line x1="680.60" y1="574.50" x2="718.60" y2="612.50"/>
<line x1="688.80" y1="574.50" x2="726.80" y2="612.50"/>
<line x1="697.00" y1="574.50" x2="735.00" y2="612.50"/>
<line x1="705.20" y1="574.50" x2="743.20" y2="612.50"/>
<line x1="713.40" y1="574.50" x2="751.40" y2="612.50"/>
<line x1="721.60" y1="574.50" x2="759.60" y2="612.50"/>
<line x1="729.80" y1="574.50" x2="767.80" y2="612.50"/>
<line x1="738.00" y1="574.50" x2="776.00" y2="612.50"/>
</g>
<rect x="708.50" y="586.50" width="26.00" height="14.00" fill="none" stroke="#00ffff" stroke-width="1.1" />
<g stroke="#8c84a6" stroke-width="1.25" fill="none">
<rect x="705.50" y="577.50" width="32.00" height="32.00"/>
<line x1="709.50" y1="577.50" x2="709.50" y2="609.50"/>
<line x1="713.50" y1="577.50" x2="713.50" y2="609.50"/>
<line x1="717.50" y1="577.50" x2="717.50" y2="609.50"/>
<line x1="721.50" y1="577.50" x2="721.50" y2="609.50"/>
<line x1="725.50" y1="577.50" x2="725.50" y2="609.50"/>
<line x1="729.50" y1="577.50" x2="729.50" y2="609.50"/>
<line x1="733.50" y1="577.50" x2="733.50" y2="609.50"/>
</g>
<rect x="702.50" y="574.50" width="38.00" height="38.00" fill="none" stroke="#00ffff" stroke-width="1.25" />
<line x1="691.50" y1="563.50" x2="721.50" y2="593.50" stroke="#ffff00" stroke-width="1.0" stroke-dasharray="5.6 2.8 2.8 2.8" stroke-dashoffset="-5"/>
<line x1="751.50" y1="563.50" x2="721.50" y2="593.50" stroke="#ffff00" stroke-width="1.0" stroke-dasharray="5.6 2.8 2.8 2.8" stroke-dashoffset="-5"/>
<line x1="691.50" y1="623.50" x2="721.50" y2="593.50" stroke="#ffff00" stroke-width="1.0" stroke-dasharray="5.6 2.8 2.8 2.8" stroke-dashoffset="-5"/>
<line x1="751.50" y1="623.50" x2="721.50" y2="593.50" stroke="#ffff00" stroke-width="1.0" stroke-dasharray="5.6 2.8 2.8 2.8" stroke-dashoffset="-5"/>
<g class="t">
<text transform="translate(744.50,599.80) scale(-1,1.27)" x="0" y="0" font-family="Liberation Mono, monospace" font-size="10.71" fill="#fff" stroke="#fff" stroke-width="0.55">pin&lt;28&gt;</text>
<line x1="707.33" y1="589.40" x2="707.33" y2="599.80" stroke="#fff" stroke-width="1.25" />
<line x1="719.59" y1="597.60" x2="722.99" y2="597.60" stroke="#fff" stroke-width="1.15" />
<line x1="719.59" y1="595.40" x2="722.99" y2="595.40" stroke="#fff" stroke-width="1.15" />
<line x1="719.59" y1="593.40" x2="722.99" y2="593.40" stroke="#fff" stroke-width="1.15" />
<polygon points="721.99,592.00 727.79,599.20 727.79,592.00 721.99,599.20" fill="#fff"/>
<line x1="726.21" y1="597.60" x2="730.41" y2="597.60" stroke="#fff" stroke-width="1.15" />
<line x1="726.21" y1="595.20" x2="730.41" y2="595.20" stroke="#fff" stroke-width="1.15" />
<rect x="707.33" y="592.60" width="11.66" height="7.20" fill="none" stroke="#fff" stroke-width="1.15" />
</g>
<clipPath id="c1530"><rect x="641.50" y="29.50" width="38.00" height="38.00"/></clipPath>
<g clip-path="url(#c1530)" stroke="#00ffff" stroke-width="1.05">
<line x1="595.00" y1="29.50" x2="633.00" y2="67.50"/>
<line x1="603.20" y1="29.50" x2="641.20" y2="67.50"/>
<line x1="611.40" y1="29.50" x2="649.40" y2="67.50"/>
<line x1="619.60" y1="29.50" x2="657.60" y2="67.50"/>
<line x1="627.80" y1="29.50" x2="665.80" y2="67.50"/>
<line x1="636.00" y1="29.50" x2="674.00" y2="67.50"/>
<line x1="644.20" y1="29.50" x2="682.20" y2="67.50"/>
<line x1="652.40" y1="29.50" x2="690.40" y2="67.50"/>
<line x1="660.60" y1="29.50" x2="698.60" y2="67.50"/>
<line x1="668.80" y1="29.50" x2="706.80" y2="67.50"/>
<line x1="677.00" y1="29.50" x2="715.00" y2="67.50"/>
</g>
<rect x="647.50" y="41.50" width="26.00" height="14.00" fill="none" stroke="#00ffff" stroke-width="1.1" />
<g stroke="#8c84a6" stroke-width="1.25" fill="none">
<rect x="644.50" y="32.50" width="32.00" height="32.00"/>
<line x1="648.50" y1="32.50" x2="648.50" y2="64.50"/>
<line x1="652.50" y1="32.50" x2="652.50" y2="64.50"/>
<line x1="656.50" y1="32.50" x2="656.50" y2="64.50"/>
<line x1="660.50" y1="32.50" x2="660.50" y2="64.50"/>
<line x1="664.50" y1="32.50" x2="664.50" y2="64.50"/>
<line x1="668.50" y1="32.50" x2="668.50" y2="64.50"/>
<line x1="672.50" y1="32.50" x2="672.50" y2="64.50"/>
</g>
<rect x="641.50" y="29.50" width="38.00" height="38.00" fill="none" stroke="#00ffff" stroke-width="1.25" />
<line x1="630.50" y1="17.50" x2="661.00" y2="48.00" stroke="#ffff00" stroke-width="1.0" stroke-dasharray="5.6 2.8 2.8 2.8" stroke-dashoffset="-5"/>
<line x1="691.50" y1="17.50" x2="661.00" y2="48.00" stroke="#ffff00" stroke-width="1.0" stroke-dasharray="5.6 2.8 2.8 2.8" stroke-dashoffset="-5"/>
<line x1="630.50" y1="78.50" x2="661.00" y2="48.00" stroke="#ffff00" stroke-width="1.0" stroke-dasharray="5.6 2.8 2.8 2.8" stroke-dashoffset="-5"/>
<line x1="691.50" y1="78.50" x2="661.00" y2="48.00" stroke="#ffff00" stroke-width="1.0" stroke-dasharray="5.6 2.8 2.8 2.8" stroke-dashoffset="-5"/>
<g class="t">
<text transform="translate(684.40,53.80) scale(-1,1.27)" x="0" y="0" font-family="Liberation Mono, monospace" font-size="11.19" fill="#fff" stroke="#fff" stroke-width="0.55">pin&lt;19&gt;</text>
<line x1="645.51" y1="43.40" x2="645.51" y2="53.80" stroke="#fff" stroke-width="1.25" />
<line x1="658.34" y1="51.60" x2="661.74" y2="51.60" stroke="#fff" stroke-width="1.15" />
<line x1="658.34" y1="49.40" x2="661.74" y2="49.40" stroke="#fff" stroke-width="1.15" />
<line x1="658.34" y1="47.40" x2="661.74" y2="47.40" stroke="#fff" stroke-width="1.15" />
<polygon points="660.74,46.00 666.54,53.20 666.54,46.00 660.74,53.20" fill="#fff"/>
<line x1="665.26" y1="51.60" x2="669.46" y2="51.60" stroke="#fff" stroke-width="1.15" />
<line x1="665.26" y1="49.20" x2="669.46" y2="49.20" stroke="#fff" stroke-width="1.15" />
<rect x="645.51" y="46.60" width="12.23" height="7.20" fill="none" stroke="#fff" stroke-width="1.15" />
</g>
<clipPath id="c1571"><rect x="641.50" y="695.50" width="38.00" height="38.00"/></clipPath>
<g clip-path="url(#c1571)" stroke="#00ffff" stroke-width="1.05">
<line x1="595.00" y1="695.50" x2="633.00" y2="733.50"/>
<line x1="603.20" y1="695.50" x2="641.20" y2="733.50"/>
<line x1="611.40" y1="695.50" x2="649.40" y2="733.50"/>
<line x1="619.60" y1="695.50" x2="657.60" y2="733.50"/>
<line x1="627.80" y1="695.50" x2="665.80" y2="733.50"/>
<line x1="636.00" y1="695.50" x2="674.00" y2="733.50"/>
<line x1="644.20" y1="695.50" x2="682.20" y2="733.50"/>
<line x1="652.40" y1="695.50" x2="690.40" y2="733.50"/>
<line x1="660.60" y1="695.50" x2="698.60" y2="733.50"/>
<line x1="668.80" y1="695.50" x2="706.80" y2="733.50"/>
<line x1="677.00" y1="695.50" x2="715.00" y2="733.50"/>
</g>
<rect x="647.50" y="707.50" width="26.00" height="14.00" fill="none" stroke="#00ffff" stroke-width="1.1" />
<g stroke="#8c84a6" stroke-width="1.25" fill="none">
<rect x="644.50" y="698.50" width="32.00" height="32.00"/>
<line x1="648.50" y1="698.50" x2="648.50" y2="730.50"/>
<line x1="652.50" y1="698.50" x2="652.50" y2="730.50"/>
<line x1="656.50" y1="698.50" x2="656.50" y2="730.50"/>
<line x1="660.50" y1="698.50" x2="660.50" y2="730.50"/>
<line x1="664.50" y1="698.50" x2="664.50" y2="730.50"/>
<line x1="668.50" y1="698.50" x2="668.50" y2="730.50"/>
<line x1="672.50" y1="698.50" x2="672.50" y2="730.50"/>
</g>
<rect x="641.50" y="695.50" width="38.00" height="38.00" fill="none" stroke="#00ffff" stroke-width="1.25" />
<line x1="630.50" y1="684.50" x2="661.00" y2="715.00" stroke="#ffff00" stroke-width="1.0" stroke-dasharray="5.6 2.8 2.8 2.8" stroke-dashoffset="-5"/>
<line x1="691.50" y1="684.50" x2="661.00" y2="715.00" stroke="#ffff00" stroke-width="1.0" stroke-dasharray="5.6 2.8 2.8 2.8" stroke-dashoffset="-5"/>
<line x1="630.50" y1="745.50" x2="661.00" y2="715.00" stroke="#ffff00" stroke-width="1.0" stroke-dasharray="5.6 2.8 2.8 2.8" stroke-dashoffset="-5"/>
<line x1="691.50" y1="745.50" x2="661.00" y2="715.00" stroke="#ffff00" stroke-width="1.0" stroke-dasharray="5.6 2.8 2.8 2.8" stroke-dashoffset="-5"/>
<g class="t">
<text transform="translate(684.00,720.80) scale(-1,1.27)" x="0" y="0" font-family="Liberation Mono, monospace" font-size="10.95" fill="#fff" stroke="#fff" stroke-width="0.55">pin&lt;21&gt;</text>
<line x1="645.97" y1="710.40" x2="645.97" y2="720.80" stroke="#fff" stroke-width="1.25" />
<line x1="658.51" y1="718.60" x2="661.91" y2="718.60" stroke="#fff" stroke-width="1.15" />
<line x1="658.51" y1="716.40" x2="661.91" y2="716.40" stroke="#fff" stroke-width="1.15" />
<line x1="658.51" y1="714.40" x2="661.91" y2="714.40" stroke="#fff" stroke-width="1.15" />
<polygon points="660.91,713.00 666.71,720.20 666.71,713.00 660.91,720.20" fill="#fff"/>
<line x1="665.29" y1="718.60" x2="669.49" y2="718.60" stroke="#fff" stroke-width="1.15" />
<line x1="665.29" y1="716.20" x2="669.49" y2="716.20" stroke="#fff" stroke-width="1.15" />
<rect x="645.97" y="713.60" width="11.94" height="7.20" fill="none" stroke="#fff" stroke-width="1.15" />
</g>
<clipPath id="c1612"><rect x="35.50" y="634.50" width="38.00" height="38.00"/></clipPath>
<g clip-path="url(#c1612)" stroke="#00ffff" stroke-width="1.05">
<line x1="-11.00" y1="634.50" x2="27.00" y2="672.50"/>
<line x1="-2.80" y1="634.50" x2="35.20" y2="672.50"/>
<line x1="5.40" y1="634.50" x2="43.40" y2="672.50"/>
<line x1="13.60" y1="634.50" x2="51.60" y2="672.50"/>
<line x1="21.80" y1="634.50" x2="59.80" y2="672.50"/>
<line x1="30.00" y1="634.50" x2="68.00" y2="672.50"/>
<line x1="38.20" y1="634.50" x2="76.20" y2="672.50"/>
<line x1="46.40" y1="634.50" x2="84.40" y2="672.50"/>
<line x1="54.60" y1="634.50" x2="92.60" y2="672.50"/>
<line x1="62.80" y1="634.50" x2="100.80" y2="672.50"/>
<line x1="71.00" y1="634.50" x2="109.00" y2="672.50"/>
</g>
<rect x="41.50" y="646.50" width="26.00" height="14.00" fill="none" stroke="#00ffff" stroke-width="1.1" />
<g stroke="#8c84a6" stroke-width="1.25" fill="none">
<rect x="38.50" y="637.50" width="32.00" height="32.00"/>
<line x1="42.50" y1="637.50" x2="42.50" y2="669.50"/>
<line x1="46.50" y1="637.50" x2="46.50" y2="669.50"/>
<line x1="50.50" y1="637.50" x2="50.50" y2="669.50"/>
<line x1="54.50" y1="637.50" x2="54.50" y2="669.50"/>
<line x1="58.50" y1="637.50" x2="58.50" y2="669.50"/>
<line x1="62.50" y1="637.50" x2="62.50" y2="669.50"/>
<line x1="66.50" y1="637.50" x2="66.50" y2="669.50"/>
</g>
<rect x="35.50" y="634.50" width="38.00" height="38.00" fill="none" stroke="#00ffff" stroke-width="1.25" />
<line x1="24.50" y1="623.50" x2="55.00" y2="654.00" stroke="#ffff00" stroke-width="1.0" stroke-dasharray="5.6 2.8 2.8 2.8" stroke-dashoffset="-5"/>
<line x1="85.50" y1="623.50" x2="55.00" y2="654.00" stroke="#ffff00" stroke-width="1.0" stroke-dasharray="5.6 2.8 2.8 2.8" stroke-dashoffset="-5"/>
<line x1="24.50" y1="684.50" x2="55.00" y2="654.00" stroke="#ffff00" stroke-width="1.0" stroke-dasharray="5.6 2.8 2.8 2.8" stroke-dashoffset="-5"/>
<line x1="85.50" y1="684.50" x2="55.00" y2="654.00" stroke="#ffff00" stroke-width="1.0" stroke-dasharray="5.6 2.8 2.8 2.8" stroke-dashoffset="-5"/>
<g class="t">
<text transform="translate(78.50,659.80) scale(-1,1.27)" x="0" y="0" font-family="Liberation Mono, monospace" font-size="11.07" fill="#fff" stroke="#fff" stroke-width="0.55">pin&lt;26&gt;</text>
<line x1="40.04" y1="649.40" x2="40.04" y2="659.80" stroke="#fff" stroke-width="1.25" />
<line x1="52.73" y1="657.60" x2="56.13" y2="657.60" stroke="#fff" stroke-width="1.15" />
<line x1="52.73" y1="655.40" x2="56.13" y2="655.40" stroke="#fff" stroke-width="1.15" />
<line x1="52.73" y1="653.40" x2="56.13" y2="653.40" stroke="#fff" stroke-width="1.15" />
<polygon points="55.13,652.00 60.93,659.20 60.93,652.00 55.13,659.20" fill="#fff"/>
<line x1="59.57" y1="657.60" x2="63.77" y2="657.60" stroke="#fff" stroke-width="1.15" />
<line x1="59.57" y1="655.20" x2="63.77" y2="655.20" stroke="#fff" stroke-width="1.15" />
<rect x="40.04" y="652.60" width="12.09" height="7.20" fill="none" stroke="#fff" stroke-width="1.15" />
</g>
<clipPath id="c1653"><rect x="702.50" y="634.50" width="38.00" height="38.00"/></clipPath>
<g clip-path="url(#c1653)" stroke="#00ffff" stroke-width="1.05">
<line x1="656.00" y1="634.50" x2="694.00" y2="672.50"/>
<line x1="664.20" y1="634.50" x2="702.20" y2="672.50"/>
<line x1="672.40" y1="634.50" x2="710.40" y2="672.50"/>
<line x1="680.60" y1="634.50" x2="718.60" y2="672.50"/>
<line x1="688.80" y1="634.50" x2="726.80" y2="672.50"/>
<line x1="697.00" y1="634.50" x2="735.00" y2="672.50"/>
<line x1="705.20" y1="634.50" x2="743.20" y2="672.50"/>
<line x1="713.40" y1="634.50" x2="751.40" y2="672.50"/>
<line x1="721.60" y1="634.50" x2="759.60" y2="672.50"/>
<line x1="729.80" y1="634.50" x2="767.80" y2="672.50"/>
<line x1="738.00" y1="634.50" x2="776.00" y2="672.50"/>
</g>
<rect x="708.50" y="646.50" width="26.00" height="14.00" fill="none" stroke="#00ffff" stroke-width="1.1" />
<g stroke="#8c84a6" stroke-width="1.25" fill="none">
<rect x="705.50" y="637.50" width="32.00" height="32.00"/>
<line x1="709.50" y1="637.50" x2="709.50" y2="669.50"/>
<line x1="713.50" y1="637.50" x2="713.50" y2="669.50"/>
<line x1="717.50" y1="637.50" x2="717.50" y2="669.50"/>
<line x1="721.50" y1="637.50" x2="721.50" y2="669.50"/>
<line x1="725.50" y1="637.50" x2="725.50" y2="669.50"/>
<line x1="729.50" y1="637.50" x2="729.50" y2="669.50"/>
<line x1="733.50" y1="637.50" x2="733.50" y2="669.50"/>
</g>
<rect x="702.50" y="634.50" width="38.00" height="38.00" fill="none" stroke="#00ffff" stroke-width="1.25" />
<line x1="691.50" y1="623.50" x2="721.50" y2="654.00" stroke="#ffff00" stroke-width="1.0" stroke-dasharray="5.6 2.8 2.8 2.8" stroke-dashoffset="-5"/>
<line x1="751.50" y1="623.50" x2="721.50" y2="654.00" stroke="#ffff00" stroke-width="1.0" stroke-dasharray="5.6 2.8 2.8 2.8" stroke-dashoffset="-5"/>
<line x1="691.50" y1="684.50" x2="721.50" y2="654.00" stroke="#ffff00" stroke-width="1.0" stroke-dasharray="5.6 2.8 2.8 2.8" stroke-dashoffset="-5"/>
<line x1="751.50" y1="684.50" x2="721.50" y2="654.00" stroke="#ffff00" stroke-width="1.0" stroke-dasharray="5.6 2.8 2.8 2.8" stroke-dashoffset="-5"/>
<g class="t">
<text transform="translate(744.50,659.80) scale(-1,1.27)" x="0" y="0" font-family="Liberation Mono, monospace" font-size="10.71" fill="#fff" stroke="#fff" stroke-width="0.55">pin&lt;29&gt;</text>
<line x1="707.33" y1="649.40" x2="707.33" y2="659.80" stroke="#fff" stroke-width="1.25" />
<line x1="719.59" y1="657.60" x2="722.99" y2="657.60" stroke="#fff" stroke-width="1.15" />
<line x1="719.59" y1="655.40" x2="722.99" y2="655.40" stroke="#fff" stroke-width="1.15" />
<line x1="719.59" y1="653.40" x2="722.99" y2="653.40" stroke="#fff" stroke-width="1.15" />
<polygon points="721.99,652.00 727.79,659.20 727.79,652.00 721.99,659.20" fill="#fff"/>
<line x1="726.21" y1="657.60" x2="730.41" y2="657.60" stroke="#fff" stroke-width="1.15" />
<line x1="726.21" y1="655.20" x2="730.41" y2="655.20" stroke="#fff" stroke-width="1.15" />
<rect x="707.33" y="652.60" width="11.66" height="7.20" fill="none" stroke="#fff" stroke-width="1.15" />
</g>
<rect x="84.60" y="16.60" width="1.80" height="1.80" fill="#ffff00"/>
<rect x="84.60" y="77.60" width="1.80" height="1.80" fill="#ffff00"/>
<rect x="84.60" y="683.60" width="1.80" height="1.80" fill="#ffff00"/>
<rect x="23.60" y="77.60" width="1.80" height="1.80" fill="#ffff00"/>
<rect x="84.60" y="77.60" width="1.80" height="1.80" fill="#ffff00"/>
<rect x="690.60" y="77.60" width="1.80" height="1.80" fill="#ffff00"/>
<rect x="750.10" y="77.60" width="1.80" height="1.80" fill="#ffff00"/>
<rect x="144.60" y="16.60" width="1.80" height="1.80" fill="#ffff00"/>
<rect x="144.60" y="77.60" width="1.80" height="1.80" fill="#ffff00"/>
<rect x="144.60" y="683.60" width="1.80" height="1.80" fill="#ffff00"/>
<rect x="23.60" y="138.60" width="1.80" height="1.80" fill="#ffff00"/>
<rect x="84.60" y="138.60" width="1.80" height="1.80" fill="#ffff00"/>
<rect x="690.60" y="138.60" width="1.80" height="1.80" fill="#ffff00"/>
<rect x="750.10" y="138.60" width="1.80" height="1.80" fill="#ffff00"/>
<rect x="205.60" y="16.60" width="1.80" height="1.80" fill="#ffff00"/>
<rect x="205.60" y="77.60" width="1.80" height="1.80" fill="#ffff00"/>
<rect x="205.60" y="683.60" width="1.80" height="1.80" fill="#ffff00"/>
<rect x="23.60" y="198.60" width="1.80" height="1.80" fill="#ffff00"/>
<rect x="84.60" y="198.60" width="1.80" height="1.80" fill="#ffff00"/>
<rect x="690.60" y="198.60" width="1.80" height="1.80" fill="#ffff00"/>
<rect x="750.10" y="198.60" width="1.80" height="1.80" fill="#ffff00"/>
<rect x="265.60" y="16.60" width="1.80" height="1.80" fill="#ffff00"/>
<rect x="265.60" y="77.60" width="1.80" height="1.80" fill="#ffff00"/>
<rect x="265.60" y="683.60" width="1.80" height="1.80" fill="#ffff00"/>
<rect x="23.60" y="259.60" width="1.80" height="1.80" fill="#ffff00"/>
<rect x="84.60" y="259.60" width="1.80" height="1.80" fill="#ffff00"/>
<rect x="690.60" y="259.60" width="1.80" height="1.80" fill="#ffff00"/>
<rect x="750.10" y="259.60" width="1.80" height="1.80" fill="#ffff00"/>
<rect x="326.60" y="16.60" width="1.80" height="1.80" fill="#ffff00"/>
<rect x="326.60" y="77.60" width="1.80" height="1.80" fill="#ffff00"/>
<rect x="326.60" y="683.60" width="1.80" height="1.80" fill="#ffff00"/>
<rect x="23.60" y="319.60" width="1.80" height="1.80" fill="#ffff00"/>
<rect x="84.60" y="319.60" width="1.80" height="1.80" fill="#ffff00"/>
<rect x="690.60" y="319.60" width="1.80" height="1.80" fill="#ffff00"/>
<rect x="750.10" y="319.60" width="1.80" height="1.80" fill="#ffff00"/>
<rect x="387.60" y="16.60" width="1.80" height="1.80" fill="#ffff00"/>
<rect x="387.60" y="77.60" width="1.80" height="1.80" fill="#ffff00"/>
<rect x="387.60" y="683.60" width="1.80" height="1.80" fill="#ffff00"/>
<rect x="23.60" y="380.60" width="1.80" height="1.80" fill="#ffff00"/>
<rect x="84.60" y="380.60" width="1.80" height="1.80" fill="#ffff00"/>
<rect x="690.60" y="380.60" width="1.80" height="1.80" fill="#ffff00"/>
<rect x="750.10" y="380.60" width="1.80" height="1.80" fill="#ffff00"/>
<rect x="447.60" y="16.60" width="1.80" height="1.80" fill="#ffff00"/>
<rect x="447.60" y="77.60" width="1.80" height="1.80" fill="#ffff00"/>
<rect x="447.60" y="683.60" width="1.80" height="1.80" fill="#ffff00"/>
<rect x="23.60" y="441.60" width="1.80" height="1.80" fill="#ffff00"/>
<rect x="84.60" y="441.60" width="1.80" height="1.80" fill="#ffff00"/>
<rect x="690.60" y="441.60" width="1.80" height="1.80" fill="#ffff00"/>
<rect x="750.10" y="441.60" width="1.80" height="1.80" fill="#ffff00"/>
<rect x="508.60" y="16.60" width="1.80" height="1.80" fill="#ffff00"/>
<rect x="508.60" y="77.60" width="1.80" height="1.80" fill="#ffff00"/>
<rect x="508.60" y="683.60" width="1.80" height="1.80" fill="#ffff00"/>
<rect x="23.60" y="501.60" width="1.80" height="1.80" fill="#ffff00"/>
<rect x="84.60" y="501.60" width="1.80" height="1.80" fill="#ffff00"/>
<rect x="690.60" y="501.60" width="1.80" height="1.80" fill="#ffff00"/>
<rect x="750.10" y="501.60" width="1.80" height="1.80" fill="#ffff00"/>
<rect x="568.60" y="16.60" width="1.80" height="1.80" fill="#ffff00"/>
<rect x="568.60" y="77.60" width="1.80" height="1.80" fill="#ffff00"/>
<rect x="568.60" y="683.60" width="1.80" height="1.80" fill="#ffff00"/>
<rect x="23.60" y="562.60" width="1.80" height="1.80" fill="#ffff00"/>
<rect x="84.60" y="562.60" width="1.80" height="1.80" fill="#ffff00"/>
<rect x="690.60" y="562.60" width="1.80" height="1.80" fill="#ffff00"/>
<rect x="750.10" y="562.60" width="1.80" height="1.80" fill="#ffff00"/>
<rect x="629.60" y="16.60" width="1.80" height="1.80" fill="#ffff00"/>
<rect x="629.60" y="77.60" width="1.80" height="1.80" fill="#ffff00"/>
<rect x="629.60" y="683.60" width="1.80" height="1.80" fill="#ffff00"/>
<rect x="23.60" y="622.60" width="1.80" height="1.80" fill="#ffff00"/>
<rect x="84.60" y="622.60" width="1.80" height="1.80" fill="#ffff00"/>
<rect x="690.60" y="622.60" width="1.80" height="1.80" fill="#ffff00"/>
<rect x="750.10" y="622.60" width="1.80" height="1.80" fill="#ffff00"/>
<rect x="690.60" y="16.60" width="1.80" height="1.80" fill="#ffff00"/>
<rect x="690.60" y="77.60" width="1.80" height="1.80" fill="#ffff00"/>
<rect x="690.60" y="683.60" width="1.80" height="1.80" fill="#ffff00"/>
<rect x="23.60" y="683.60" width="1.80" height="1.80" fill="#ffff00"/>
<rect x="84.60" y="683.60" width="1.80" height="1.80" fill="#ffff00"/>
<rect x="690.60" y="683.60" width="1.80" height="1.80" fill="#ffff00"/>
<rect x="750.10" y="683.60" width="1.80" height="1.80" fill="#ffff00"/>
<rect x="655.50" y="39.60" width="2.80" height="2.80" fill="none" stroke="#ffff00" stroke-width="0.9" />
</g>
<g id="topband">
<rect x="92.20" y="68.00" width="1.70" height="15.00" fill="#00ffff"/>
<line x1="93.80" y1="80.00" x2="144.20" y2="80.00" stroke="#ff0000" stroke-width="1" />
<line x1="143.70" y1="80.00" x2="143.70" y2="104.80" stroke="#ff0000" stroke-width="1" />
<rect x="93.80" y="80.80" width="48.40" height="2.10" fill="#0000ff"/>
<rect x="94.30" y="83.20" width="27.50" height="7.90" fill="#ff0000"/>
<rect x="124.20" y="83.20" width="10.30" height="7.90" fill="#ff0000"/>
<rect x="122.10" y="83.20" width="2.10" height="9.20" fill="#0000ff"/>
<line x1="134.60" y1="83.20" x2="134.60" y2="91.30" stroke="#ff8c00" stroke-width="0.8" />
<line x1="93.80" y1="83.20" x2="93.80" y2="92.20" stroke="#00d060" stroke-width="0.9" />
<rect x="95.80" y="83.80" width="1.20" height="1.20" fill="#ff8c00"/>
<rect x="99.80" y="83.80" width="1.20" height="1.20" fill="#ff8c00"/>
<rect x="105.70" y="83.80" width="1.20" height="1.20" fill="#ff8c00"/>
<rect x="109.70" y="83.80" width="1.20" height="1.20" fill="#ff8c00"/>
<rect x="115.60" y="83.80" width="1.20" height="1.20" fill="#ff8c00"/>
<rect x="119.50" y="83.80" width="1.20" height="1.20" fill="#ff8c00"/>
<rect x="98.60" y="88.70" width="1.40" height="1.40" fill="#000"/>
<rect x="102.60" y="88.70" width="1.40" height="1.40" fill="#000"/>
<rect x="108.60" y="88.70" width="1.40" height="1.40" fill="#ff8c00"/>
<rect x="112.60" y="88.70" width="1.40" height="1.40" fill="#ff8c00"/>
<rect x="118.50" y="88.70" width="1.40" height="1.40" fill="#000"/>
<rect x="93.80" y="91.10" width="25.20" height="1.80" fill="#0000ff"/>
<rect x="122.10" y="91.10" width="10.80" height="1.80" fill="#0000ff"/>
<rect x="120.00" y="91.10" width="2.10" height="6.20" fill="#ff0000"/>
<rect x="131.90" y="91.10" width="3.10" height="6.20" fill="#ff0000"/>
<rect x="138.00" y="82.90" width="2.10" height="20.10" fill="#ff0000"/>
<rect x="93.80" y="97.00" width="40.20" height="2.00" fill="#0000ff"/>
<rect x="94.60" y="99.60" width="27.40" height="2.60" fill="none" stroke="#ff0000" stroke-width="0.9" />
<rect x="123.80" y="99.60" width="10.60" height="2.60" fill="none" stroke="#ff0000" stroke-width="0.9" />
<rect x="93.30" y="102.70" width="48.90" height="1.30" fill="#0000ff"/>
<line x1="93.30" y1="104.60" x2="144.20" y2="104.60" stroke="#ff0000" stroke-width="1" />
<rect x="73.50" y="97.40" width="19.10" height="2.20" fill="none" stroke="#00ffff" stroke-width="1" />
<rect x="94.50" y="107.30" width="567.90" height="2.20" fill="none" stroke="#ff0000" stroke-width="1" />
<rect x="86.20" y="107.20" width="9.00" height="2.40" fill="none" stroke="#0000ff" stroke-width="1" />
<line x1="146.20" y1="107.40" x2="262.00" y2="107.40" stroke="#ff0000" stroke-width="1" />
<line x1="146.20" y1="109.50" x2="262.00" y2="109.50" stroke="#ff0000" stroke-width="1" />
<line x1="146.50" y1="79.50" x2="146.50" y2="109.50" stroke="#ff0000" stroke-width="1" />
<path d="M147.90 80.3 H146.70 V84.6 H147.90" fill="none" stroke="#00d060" stroke-width="0.9" stroke-dasharray="1.6 0.9"/>
<line x1="146.90" y1="85.20" x2="146.90" y2="93.00" stroke="#ff0000" stroke-width="0.9" />
<rect x="147.90" y="79.20" width="1.80" height="13.80" fill="#0000ff"/>
<line x1="147.20" y1="95.00" x2="147.20" y2="99.60" stroke="#ff0000" stroke-width="0.9" />
<rect x="147.70" y="94.90" width="2.10" height="6.10" fill="#0000ff"/>
<rect x="148.50" y="99.50" width="2.10" height="5.00" fill="#0000ff"/>
<rect x="149.00" y="104.50" width="1.60" height="5.70" fill="#0000ff"/>
<path d="M151.52 80.3 H150.32 V84.6 H151.52" fill="none" stroke="#00d060" stroke-width="0.9" stroke-dasharray="1.6 0.9"/>
<line x1="150.52" y1="85.20" x2="150.52" y2="93.00" stroke="#ff0000" stroke-width="0.9" />
<rect x="151.52" y="79.20" width="1.80" height="13.80" fill="#0000ff"/>
<rect x="151.32" y="94.90" width="2.10" height="6.10" fill="#0000ff"/>
<rect x="152.12" y="99.50" width="2.10" height="5.00" fill="#0000ff"/>
<rect x="152.62" y="104.50" width="1.60" height="5.70" fill="#0000ff"/>
<path d="M155.14 80.3 H153.94 V84.6 H155.14" fill="none" stroke="#00d060" stroke-width="0.9" stroke-dasharray="1.6 0.9"/>
<line x1="154.14" y1="85.20" x2="154.14" y2="93.00" stroke="#ff0000" stroke-width="0.9" />
<rect x="155.14" y="79.20" width="1.80" height="13.80" fill="#0000ff"/>
<line x1="154.44" y1="95.00" x2="154.44" y2="99.60" stroke="#ff0000" stroke-width="0.9" />
<rect x="154.94" y="94.90" width="2.10" height="6.10" fill="#0000ff"/>
<rect x="155.74" y="99.50" width="2.10" height="5.00" fill="#0000ff"/>
<rect x="156.24" y="104.50" width="1.60" height="5.70" fill="#0000ff"/>
<path d="M158.76 80.3 H157.56 V84.6 H158.76" fill="none" stroke="#00d060" stroke-width="0.9" stroke-dasharray="1.6 0.9"/>
<rect x="158.76" y="79.20" width="3.62" height="13.80" fill="#0000ff"/>
<rect x="158.56" y="94.90" width="2.10" height="6.10" fill="#0000ff"/>
<rect x="159.36" y="99.50" width="3.60" height="5.00" fill="#0000ff"/>
<rect x="159.86" y="104.50" width="1.60" height="5.70" fill="#0000ff"/>
<path d="M162.37 80.3 H161.17 V84.6 H162.37" fill="none" stroke="#00d060" stroke-width="0.9" stroke-dasharray="1.6 0.9"/>
<line x1="161.37" y1="85.20" x2="161.37" y2="93.00" stroke="#ff0000" stroke-width="0.9" />
<rect x="162.37" y="79.20" width="1.80" height="13.80" fill="#0000ff"/>
<line x1="161.67" y1="95.00" x2="161.67" y2="99.60" stroke="#ff0000" stroke-width="0.9" />
<rect x="162.17" y="94.90" width="2.10" height="6.10" fill="#0000ff"/>
<rect x="162.97" y="99.50" width="2.10" height="5.00" fill="#0000ff"/>
<rect x="163.47" y="104.50" width="1.60" height="5.70" fill="#0000ff"/>
<path d="M165.99 80.3 H164.79 V84.6 H165.99" fill="none" stroke="#00d060" stroke-width="0.9" stroke-dasharray="1.6 0.9"/>
<rect x="165.99" y="79.20" width="3.62" height="13.80" fill="#0000ff"/>
<rect x="165.79" y="94.90" width="2.10" height="6.10" fill="#0000ff"/>
<rect x="166.59" y="99.50" width="3.60" height="5.00" fill="#0000ff"/>
<rect x="167.09" y="104.50" width="1.60" height="5.70" fill="#0000ff"/>
<path d="M169.61 80.3 H168.41 V84.6 H169.61" fill="none" stroke="#00d060" stroke-width="0.9" stroke-dasharray="1.6 0.9"/>
<line x1="168.61" y1="85.20" x2="168.61" y2="93.00" stroke="#ff0000" stroke-width="0.9" />
<rect x="169.61" y="79.20" width="1.80" height="13.80" fill="#0000ff"/>
<line x1="168.91" y1="95.00" x2="168.91" y2="99.60" stroke="#ff0000" stroke-width="0.9" />
<rect x="169.41" y="94.90" width="2.10" height="6.10" fill="#0000ff"/>
<rect x="170.21" y="99.50" width="2.10" height="5.00" fill="#0000ff"/>
<rect x="170.71" y="104.50" width="1.60" height="5.70" fill="#0000ff"/>
<path d="M173.23 80.3 H172.03 V84.6 H173.23" fill="none" stroke="#00d060" stroke-width="0.9" stroke-dasharray="1.6 0.9"/>
<line x1="172.23" y1="85.20" x2="172.23" y2="93.00" stroke="#ff0000" stroke-width="0.9" />
<rect x="173.23" y="79.20" width="1.80" height="13.80" fill="#0000ff"/>
<rect x="173.03" y="94.90" width="2.10" height="6.10" fill="#0000ff"/>
<rect x="173.83" y="99.50" width="2.10" height="5.00" fill="#0000ff"/>
<rect x="174.33" y="104.50" width="1.60" height="5.70" fill="#0000ff"/>
<path d="M176.85 80.3 H175.65 V84.6 H176.85" fill="none" stroke="#00d060" stroke-width="0.9" stroke-dasharray="1.6 0.9"/>
<rect x="176.85" y="79.20" width="3.62" height="13.80" fill="#0000ff"/>
<line x1="176.15" y1="95.00" x2="176.15" y2="99.60" stroke="#ff0000" stroke-width="0.9" />
<rect x="176.65" y="94.90" width="2.10" height="6.10" fill="#0000ff"/>
<rect x="177.45" y="99.50" width="3.60" height="5.00" fill="#0000ff"/>
<rect x="177.95" y="104.50" width="1.60" height="5.70" fill="#0000ff"/>
<path d="M180.47 80.3 H179.27 V84.6 H180.47" fill="none" stroke="#00d060" stroke-width="0.9" stroke-dasharray="1.6 0.9"/>
<line x1="179.47" y1="85.20" x2="179.47" y2="93.00" stroke="#ff0000" stroke-width="0.9" />
<rect x="180.47" y="79.20" width="1.80" height="13.80" fill="#0000ff"/>
<rect x="180.27" y="94.90" width="2.10" height="6.10" fill="#0000ff"/>
<rect x="181.07" y="99.50" width="2.10" height="5.00" fill="#0000ff"/>
<rect x="181.57" y="104.50" width="1.60" height="5.70" fill="#0000ff"/>
<path d="M184.09 80.3 H182.89 V84.6 H184.09" fill="none" stroke="#00d060" stroke-width="0.9" stroke-dasharray="1.6 0.9"/>
<line x1="183.09" y1="85.20" x2="183.09" y2="93.00" stroke="#ff0000" stroke-width="0.9" />
<rect x="184.09" y="79.20" width="1.80" height="13.80" fill="#0000ff"/>
<line x1="183.39" y1="95.00" x2="183.39" y2="99.60" stroke="#ff0000" stroke-width="0.9" />
<rect x="183.89" y="94.90" width="2.10" height="6.10" fill="#0000ff"/>
<rect x="184.69" y="99.50" width="2.10" height="5.00" fill="#0000ff"/>
<rect x="185.19" y="104.50" width="1.60" height="5.70" fill="#0000ff"/>
<path d="M187.71 80.3 H186.51 V84.6 H187.71" fill="none" stroke="#00d060" stroke-width="0.9" stroke-dasharray="1.6 0.9"/>
<line x1="186.71" y1="85.20" x2="186.71" y2="93.00" stroke="#ff0000" stroke-width="0.9" />
<rect x="187.71" y="79.20" width="1.80" height="13.80" fill="#0000ff"/>
<rect x="187.51" y="94.90" width="2.10" height="6.10" fill="#0000ff"/>
<rect x="188.31" y="99.50" width="2.10" height="5.00" fill="#0000ff"/>
<rect x="188.81" y="104.50" width="1.60" height="5.70" fill="#0000ff"/>
<path d="M191.32 80.3 H190.12 V84.6 H191.32" fill="none" stroke="#00d060" stroke-width="0.9" stroke-dasharray="1.6 0.9"/>
<rect x="191.32" y="79.20" width="3.62" height="13.80" fill="#0000ff"/>
<line x1="190.62" y1="95.00" x2="190.62" y2="99.60" stroke="#ff0000" stroke-width="0.9" />
<rect x="191.12" y="94.90" width="2.10" height="6.10" fill="#0000ff"/>
<rect x="191.93" y="99.50" width="3.60" height="5.00" fill="#0000ff"/>
<rect x="192.43" y="104.50" width="1.60" height="5.70" fill="#0000ff"/>
<path d="M194.94 80.3 H193.74 V84.6 H194.94" fill="none" stroke="#00d060" stroke-width="0.9" stroke-dasharray="1.6 0.9"/>
<rect x="194.94" y="79.20" width="3.62" height="13.80" fill="#0000ff"/>
<rect x="194.74" y="94.90" width="2.10" height="6.10" fill="#0000ff"/>
<rect x="195.54" y="99.50" width="3.60" height="5.00" fill="#0000ff"/>
<rect x="196.04" y="104.50" width="1.60" height="5.70" fill="#0000ff"/>
<path d="M198.56 80.3 H197.36 V84.6 H198.56" fill="none" stroke="#00d060" stroke-width="0.9" stroke-dasharray="1.6 0.9"/>
<line x1="197.56" y1="85.20" x2="197.56" y2="93.00" stroke="#ff0000" stroke-width="0.9" />
<rect x="198.56" y="79.20" width="1.80" height="13.80" fill="#0000ff"/>
<line x1="197.86" y1="95.00" x2="197.86" y2="99.60" stroke="#ff0000" stroke-width="0.9" />
<rect x="198.36" y="94.90" width="2.10" height="6.10" fill="#0000ff"/>
<rect x="199.16" y="99.50" width="2.10" height="5.00" fill="#0000ff"/>
<rect x="199.66" y="104.50" width="1.60" height="5.70" fill="#0000ff"/>
<path d="M202.18 80.3 H200.98 V84.6 H202.18" fill="none" stroke="#00d060" stroke-width="0.9" stroke-dasharray="1.6 0.9"/>
<line x1="201.18" y1="85.20" x2="201.18" y2="93.00" stroke="#ff0000" stroke-width="0.9" />
<rect x="202.18" y="79.20" width="1.80" height="13.80" fill="#0000ff"/>
<rect x="201.98" y="94.90" width="2.10" height="6.10" fill="#0000ff"/>
<rect x="202.78" y="99.50" width="2.10" height="5.00" fill="#0000ff"/>
<rect x="203.28" y="104.50" width="1.60" height="5.70" fill="#0000ff"/>
<path d="M205.80 80.3 H204.60 V84.6 H205.80" fill="none" stroke="#00d060" stroke-width="0.9" stroke-dasharray="1.6 0.9"/>
<line x1="204.80" y1="85.20" x2="204.80" y2="93.00" stroke="#ff0000" stroke-width="0.9" />
<rect x="205.80" y="79.20" width="1.80" height="13.80" fill="#0000ff"/>
<line x1="205.10" y1="95.00" x2="205.10" y2="99.60" stroke="#ff0000" stroke-width="0.9" />
<rect x="205.60" y="94.90" width="2.10" height="6.10" fill="#0000ff"/>
<rect x="206.40" y="99.50" width="2.10" height="5.00" fill="#0000ff"/>
<rect x="206.90" y="104.50" width="1.60" height="5.70" fill="#0000ff"/>
<path d="M209.42 80.3 H208.22 V84.6 H209.42" fill="none" stroke="#00d060" stroke-width="0.9" stroke-dasharray="1.6 0.9"/>
<line x1="208.42" y1="85.20" x2="208.42" y2="93.00" stroke="#ff0000" stroke-width="0.9" />
<rect x="209.42" y="79.20" width="1.80" height="13.80" fill="#0000ff"/>
<rect x="209.22" y="94.90" width="2.10" height="6.10" fill="#0000ff"/>
<rect x="210.02" y="99.50" width="2.10" height="5.00" fill="#0000ff"/>
<rect x="210.52" y="104.50" width="1.60" height="5.70" fill="#0000ff"/>
<path d="M213.04 80.3 H211.84 V84.6 H213.04" fill="none" stroke="#00d060" stroke-width="0.9" stroke-dasharray="1.6 0.9"/>
<rect x="213.04" y="79.20" width="3.62" height="13.80" fill="#0000ff"/>
<line x1="212.34" y1="95.00" x2="212.34" y2="99.60" stroke="#ff0000" stroke-width="0.9" />
<rect x="212.84" y="94.90" width="2.10" height="6.10" fill="#0000ff"/>
<rect x="213.64" y="99.50" width="3.60" height="5.00" fill="#0000ff"/>
<rect x="214.14" y="104.50" width="1.60" height="5.70" fill="#0000ff"/>
<path d="M216.66 80.3 H215.46 V84.6 H216.66" fill="none" stroke="#00d060" stroke-width="0.9" stroke-dasharray="1.6 0.9"/>
<rect x="216.66" y="79.20" width="3.62" height="13.80" fill="#0000ff"/>
<rect x="216.46" y="94.90" width="2.10" height="6.10" fill="#0000ff"/>
<rect x="217.26" y="99.50" width="3.60" height="5.00" fill="#0000ff"/>
<rect x="217.76" y="104.50" width="1.60" height="5.70" fill="#0000ff"/>
<path d="M220.27 80.3 H219.07 V84.6 H220.27" fill="none" stroke="#00d060" stroke-width="0.9" stroke-dasharray="1.6 0.9"/>
<line x1="219.27" y1="85.20" x2="219.27" y2="93.00" stroke="#ff0000" stroke-width="0.9" />
<rect x="220.27" y="79.20" width="1.80" height="13.80" fill="#0000ff"/>
<line x1="219.57" y1="95.00" x2="219.57" y2="99.60" stroke="#ff0000" stroke-width="0.9" />
<rect x="220.07" y="94.90" width="2.10" height="6.10" fill="#0000ff"/>
<rect x="220.88" y="99.50" width="2.10" height="5.00" fill="#0000ff"/>
<rect x="221.38" y="104.50" width="1.60" height="5.70" fill="#0000ff"/>
<path d="M223.89 80.3 H222.69 V84.6 H223.89" fill="none" stroke="#00d060" stroke-width="0.9" stroke-dasharray="1.6 0.9"/>
<line x1="222.89" y1="85.20" x2="222.89" y2="93.00" stroke="#ff0000" stroke-width="0.9" />
<rect x="223.89" y="79.20" width="1.80" height="13.80" fill="#0000ff"/>
<rect x="223.69" y="94.90" width="2.10" height="6.10" fill="#0000ff"/>
<rect x="224.49" y="99.50" width="2.10" height="5.00" fill="#0000ff"/>
<rect x="224.99" y="104.50" width="1.60" height="5.70" fill="#0000ff"/>
<path d="M227.51 80.3 H226.31 V84.6 H227.51" fill="none" stroke="#00d060" stroke-width="0.9" stroke-dasharray="1.6 0.9"/>
<line x1="226.51" y1="85.20" x2="226.51" y2="93.00" stroke="#ff0000" stroke-width="0.9" />
<rect x="227.51" y="79.20" width="1.80" height="13.80" fill="#0000ff"/>
<line x1="226.81" y1="95.00" x2="226.81" y2="99.60" stroke="#ff0000" stroke-width="0.9" />
<rect x="227.31" y="94.90" width="2.10" height="6.10" fill="#0000ff"/>
<rect x="228.11" y="99.50" width="2.10" height="5.00" fill="#0000ff"/>
<rect x="228.61" y="104.50" width="1.60" height="5.70" fill="#0000ff"/>
<path d="M231.13 80.3 H229.93 V84.6 H231.13" fill="none" stroke="#00d060" stroke-width="0.9" stroke-dasharray="1.6 0.9"/>
<rect x="231.13" y="79.20" width="3.62" height="13.80" fill="#0000ff"/>
<rect x="230.93" y="94.90" width="2.10" height="6.10" fill="#0000ff"/>
<rect x="231.73" y="99.50" width="3.60" height="5.00" fill="#0000ff"/>
<rect x="232.23" y="104.50" width="1.60" height="5.70" fill="#0000ff"/>
<path d="M234.75 80.3 H233.55 V84.6 H234.75" fill="none" stroke="#00d060" stroke-width="0.9" stroke-dasharray="1.6 0.9"/>
<line x1="233.75" y1="85.20" x2="233.75" y2="93.00" stroke="#ff0000" stroke-width="0.9" />
<rect x="234.75" y="79.20" width="1.80" height="13.80" fill="#0000ff"/>
<line x1="234.05" y1="95.00" x2="234.05" y2="99.60" stroke="#ff0000" stroke-width="0.9" />
<rect x="234.55" y="94.90" width="2.10" height="6.10" fill="#0000ff"/>
<rect x="235.35" y="99.50" width="2.10" height="5.00" fill="#0000ff"/>
<rect x="235.85" y="104.50" width="1.60" height="5.70" fill="#0000ff"/>
<path d="M238.37 80.3 H237.17 V84.6 H238.37" fill="none" stroke="#00d060" stroke-width="0.9" stroke-dasharray="1.6 0.9"/>
<line x1="237.37" y1="85.20" x2="237.37" y2="93.00" stroke="#ff0000" stroke-width="0.9" />
<rect x="238.37" y="79.20" width="1.80" height="13.80" fill="#0000ff"/>
<rect x="238.17" y="94.90" width="2.10" height="6.10" fill="#0000ff"/>
<rect x="238.97" y="99.50" width="2.10" height="5.00" fill="#0000ff"/>
<rect x="239.47" y="104.50" width="1.60" height="5.70" fill="#0000ff"/>
<path d="M241.99 80.3 H240.79 V84.6 H241.99" fill="none" stroke="#00d060" stroke-width="0.9" stroke-dasharray="1.6 0.9"/>
<rect x="241.99" y="79.20" width="3.62" height="13.80" fill="#0000ff"/>
<line x1="241.29" y1="95.00" x2="241.29" y2="99.60" stroke="#ff0000" stroke-width="0.9" />
<rect x="241.79" y="94.90" width="2.10" height="6.10" fill="#0000ff"/>
<rect x="242.59" y="99.50" width="3.60" height="5.00" fill="#0000ff"/>
<rect x="243.09" y="104.50" width="1.60" height="5.70" fill="#0000ff"/>
<path d="M245.61 80.3 H244.41 V84.6 H245.61" fill="none" stroke="#00d060" stroke-width="0.9" stroke-dasharray="1.6 0.9"/>
<line x1="244.61" y1="85.20" x2="244.61" y2="93.00" stroke="#ff0000" stroke-width="0.9" />
<rect x="245.61" y="79.20" width="1.80" height="13.80" fill="#0000ff"/>
<rect x="245.41" y="94.90" width="2.10" height="6.10" fill="#0000ff"/>
<rect x="246.21" y="99.50" width="2.10" height="5.00" fill="#0000ff"/>
<rect x="246.71" y="104.50" width="1.60" height="5.70" fill="#0000ff"/>
<path d="M249.22 80.3 H248.03 V84.6 H249.22" fill="none" stroke="#00d060" stroke-width="0.9" stroke-dasharray="1.6 0.9"/>
<rect x="249.22" y="79.20" width="3.62" height="13.80" fill="#0000ff"/>
<line x1="248.53" y1="95.00" x2="248.53" y2="99.60" stroke="#ff0000" stroke-width="0.9" />
<rect x="249.03" y="94.90" width="2.10" height="6.10" fill="#0000ff"/>
<rect x="249.83" y="99.50" width="3.60" height="5.00" fill="#0000ff"/>
<rect x="250.33" y="104.50" width="1.60" height="5.70" fill="#0000ff"/>
<path d="M252.84 80.3 H251.64 V84.6 H252.84" fill="none" stroke="#00d060" stroke-width="0.9" stroke-dasharray="1.6 0.9"/>
<line x1="251.84" y1="85.20" x2="251.84" y2="93.00" stroke="#ff0000" stroke-width="0.9" />
<rect x="252.84" y="79.20" width="1.80" height="13.80" fill="#0000ff"/>
<rect x="252.64" y="94.90" width="2.10" height="6.10" fill="#0000ff"/>
<rect x="253.44" y="99.50" width="2.10" height="5.00" fill="#0000ff"/>
<rect x="253.94" y="104.50" width="1.60" height="5.70" fill="#0000ff"/>
<path d="M256.46 80.3 H255.26 V84.6 H256.46" fill="none" stroke="#00d060" stroke-width="0.9" stroke-dasharray="1.6 0.9"/>
<line x1="255.46" y1="85.20" x2="255.46" y2="93.00" stroke="#ff0000" stroke-width="0.9" />
<rect x="256.46" y="79.20" width="1.80" height="13.80" fill="#0000ff"/>
<line x1="255.76" y1="95.00" x2="255.76" y2="99.60" stroke="#ff0000" stroke-width="0.9" />
<rect x="256.26" y="94.90" width="2.10" height="6.10" fill="#0000ff"/>
<rect x="257.06" y="99.50" width="2.10" height="5.00" fill="#0000ff"/>
<rect x="257.56" y="104.50" width="1.60" height="5.70" fill="#0000ff"/>
<path d="M260.08 80.3 H258.88 V84.6 H260.08" fill="none" stroke="#00d060" stroke-width="0.9" stroke-dasharray="1.6 0.9"/>
<line x1="259.08" y1="85.20" x2="259.08" y2="93.00" stroke="#ff0000" stroke-width="0.9" />
<rect x="260.08" y="79.20" width="1.80" height="13.80" fill="#0000ff"/>
<rect x="259.88" y="94.90" width="2.10" height="6.10" fill="#0000ff"/>
<rect x="260.68" y="99.50" width="2.10" height="5.00" fill="#0000ff"/>
<rect x="261.18" y="104.50" width="1.60" height="5.70" fill="#0000ff"/>
<path d="M148.10 80.4 H146.70 V84.6 H148.10" fill="none" stroke="#00d060" stroke-width="0.9" stroke-dasharray="1.5 0.8"/>
<path d="M151.72 80.4 H150.32 V84.6 H151.72" fill="none" stroke="#00d060" stroke-width="0.9" stroke-dasharray="1.5 0.8"/>
<path d="M155.34 80.4 H153.94 V84.6 H155.34" fill="none" stroke="#00d060" stroke-width="0.9" stroke-dasharray="1.5 0.8"/>
<path d="M158.96 80.4 H157.56 V84.6 H158.96" fill="none" stroke="#00d060" stroke-width="0.9" stroke-dasharray="1.5 0.8"/>
<path d="M162.57 80.4 H161.17 V84.6 H162.57" fill="none" stroke="#00d060" stroke-width="0.9" stroke-dasharray="1.5 0.8"/>
<path d="M166.19 80.4 H164.79 V84.6 H166.19" fill="none" stroke="#00d060" stroke-width="0.9" stroke-dasharray="1.5 0.8"/>
<path d="M169.81 80.4 H168.41 V84.6 H169.81" fill="none" stroke="#00d060" stroke-width="0.9" stroke-dasharray="1.5 0.8"/>
<path d="M173.43 80.4 H172.03 V84.6 H173.43" fill="none" stroke="#00d060" stroke-width="0.9" stroke-dasharray="1.5 0.8"/>
<path d="M177.05 80.4 H175.65 V84.6 H177.05" fill="none" stroke="#00d060" stroke-width="0.9" stroke-dasharray="1.5 0.8"/>
<path d="M180.67 80.4 H179.27 V84.6 H180.67" fill="none" stroke="#00d060" stroke-width="0.9" stroke-dasharray="1.5 0.8"/>
<path d="M184.29 80.4 H182.89 V84.6 H184.29" fill="none" stroke="#00d060" stroke-width="0.9" stroke-dasharray="1.5 0.8"/>
<path d="M187.91 80.4 H186.51 V84.6 H187.91" fill="none" stroke="#00d060" stroke-width="0.9" stroke-dasharray="1.5 0.8"/>
<path d="M191.53 80.4 H190.12 V84.6 H191.53" fill="none" stroke="#00d060" stroke-width="0.9" stroke-dasharray="1.5 0.8"/>
<path d="M195.14 80.4 H193.74 V84.6 H195.14" fill="none" stroke="#00d060" stroke-width="0.9" stroke-dasharray="1.5 0.8"/>
<path d="M198.76 80.4 H197.36 V84.6 H198.76" fill="none" stroke="#00d060" stroke-width="0.9" stroke-dasharray="1.5 0.8"/>
<path d="M202.38 80.4 H200.98 V84.6 H202.38" fill="none" stroke="#00d060" stroke-width="0.9" stroke-dasharray="1.5 0.8"/>
<path d="M206.00 80.4 H204.60 V84.6 H206.00" fill="none" stroke="#00d060" stroke-width="0.9" stroke-dasharray="1.5 0.8"/>
<path d="M209.62 80.4 H208.22 V84.6 H209.62" fill="none" stroke="#00d060" stroke-width="0.9" stroke-dasharray="1.5 0.8"/>
<path d="M213.24 80.4 H211.84 V84.6 H213.24" fill="none" stroke="#00d060" stroke-width="0.9" stroke-dasharray="1.5 0.8"/>
<path d="M216.86 80.4 H215.46 V84.6 H216.86" fill="none" stroke="#00d060" stroke-width="0.9" stroke-dasharray="1.5 0.8"/>
<path d="M220.47 80.4 H219.07 V84.6 H220.47" fill="none" stroke="#00d060" stroke-width="0.9" stroke-dasharray="1.5 0.8"/>
<path d="M224.09 80.4 H222.69 V84.6 H224.09" fill="none" stroke="#00d060" stroke-width="0.9" stroke-dasharray="1.5 0.8"/>
<path d="M227.71 80.4 H226.31 V84.6 H227.71" fill="none" stroke="#00d060" stroke-width="0.9" stroke-dasharray="1.5 0.8"/>
<path d="M231.33 80.4 H229.93 V84.6 H231.33" fill="none" stroke="#00d060" stroke-width="0.9" stroke-dasharray="1.5 0.8"/>
<path d="M234.95 80.4 H233.55 V84.6 H234.95" fill="none" stroke="#00d060" stroke-width="0.9" stroke-dasharray="1.5 0.8"/>
<path d="M238.57 80.4 H237.17 V84.6 H238.57" fill="none" stroke="#00d060" stroke-width="0.9" stroke-dasharray="1.5 0.8"/>
<path d="M242.19 80.4 H240.79 V84.6 H242.19" fill="none" stroke="#00d060" stroke-width="0.9" stroke-dasharray="1.5 0.8"/>
<path d="M245.81 80.4 H244.41 V84.6 H245.81" fill="none" stroke="#00d060" stroke-width="0.9" stroke-dasharray="1.5 0.8"/>
<path d="M249.43 80.4 H248.03 V84.6 H249.43" fill="none" stroke="#00d060" stroke-width="0.9" stroke-dasharray="1.5 0.8"/>
<path d="M253.04 80.4 H251.64 V84.6 H253.04" fill="none" stroke="#00d060" stroke-width="0.9" stroke-dasharray="1.5 0.8"/>
<path d="M256.66 80.4 H255.26 V84.6 H256.66" fill="none" stroke="#00d060" stroke-width="0.9" stroke-dasharray="1.5 0.8"/>
<path d="M260.28 80.4 H258.88 V84.6 H260.28" fill="none" stroke="#00d060" stroke-width="0.9" stroke-dasharray="1.5 0.8"/>
<rect x="146.40" y="92.90" width="116.80" height="2.00" fill="#ff00ff"/>
<rect x="260.20" y="84.20" width="5.20" height="23.70" fill="none" stroke="#ff0000" stroke-width="1" />
<polyline points="255.50,67.50 255.50,83.00 261.60,83.00" fill="none" stroke="#00ffff" stroke-width="1.6" stroke-linejoin="miter"/>
<rect x="250.60" y="107.20" width="25.20" height="2.40" fill="none" stroke="#0000ff" stroke-width="1" />
<rect x="284.00" y="67.50" width="1.70" height="24.20" fill="#00ffff"/>
<rect x="269.00" y="94.00" width="15.80" height="1.80" fill="#ff00ff"/>
<rect x="269.00" y="97.00" width="78.00" height="1.60" fill="#ff00ff"/>
<rect x="346.30" y="67.50" width="1.60" height="30.30" fill="#00ffff"/>
<polyline points="419.00,67.50 419.00,85.20 451.00,85.20" fill="none" stroke="#00ffff" stroke-width="1.7" stroke-linejoin="miter"/>
<line x1="461.50" y1="87.00" x2="461.50" y2="105.60" stroke="#ff0000" stroke-width="0.9" />
<line x1="463.60" y1="87.00" x2="463.60" y2="105.60" stroke="#ff0000" stroke-width="0.9" />
<line x1="462.60" y1="87.00" x2="462.60" y2="105.60" stroke="#0000ff" stroke-width="1.1" />
<line x1="458.80" y1="97.10" x2="474.30" y2="97.10" stroke="#ff00ff" stroke-width="0.9" />
<rect x="468.00" y="94.00" width="76.20" height="1.80" fill="#ff00ff"/>
<rect x="474.30" y="95.90" width="61.50" height="1.90" fill="#00ffff"/>
<rect x="476.20" y="67.50" width="2.00" height="24.20" fill="#00ffff"/>
<line x1="533.10" y1="67.50" x2="533.10" y2="97.00" stroke="#00ffff" stroke-width="0.9" />
<line x1="535.40" y1="67.50" x2="535.40" y2="97.00" stroke="#00ffff" stroke-width="0.9" />
<rect x="544.20" y="94.00" width="54.60" height="1.80" fill="#00ffff"/>
<rect x="597.00" y="67.50" width="1.80" height="28.30" fill="#00ffff"/>
<rect x="658.00" y="67.50" width="2.00" height="18.00" fill="#00ffff"/>
<rect x="663.90" y="89.00" width="2.00" height="15.80" fill="#0000ff"/>
<rect x="675.00" y="92.90" width="28.00" height="1.80" fill="#00ffff"/>
<rect x="665.90" y="96.00" width="17.90" height="1.80" fill="#00ffff"/>
<rect x="682.00" y="96.00" width="1.80" height="73.00" fill="#00ffff"/>
<rect x="682.00" y="167.00" width="21.00" height="2.00" fill="#00ffff"/>
<rect x="673.90" y="101.70" width="1.90" height="131.90" fill="#00ffff"/>
<rect x="673.90" y="231.50" width="29.10" height="2.10" fill="#00ffff"/>
<rect x="666.30" y="107.20" width="20.90" height="2.40" fill="none" stroke="#0000ff" stroke-width="1" />
<rect x="686.20" y="107.20" width="2.00" height="241.30" fill="#0000ff"/>
</g>
<g id="leftside">
<rect x="85.90" y="108.50" width="1.50" height="575.00" fill="#0000ff"/>
<clipPath id="c2073"><rect x="74.50" y="169.50" width="18.00" height="4.00"/></clipPath>
<g clip-path="url(#c2073)" stroke="#00ffff" stroke-width="0.9">
<line x1="62.50" y1="169.50" x2="66.50" y2="173.50"/>
<line x1="70.00" y1="169.50" x2="74.00" y2="173.50"/>
<line x1="77.50" y1="169.50" x2="81.50" y2="173.50"/>
<line x1="85.00" y1="169.50" x2="89.00" y2="173.50"/>
<line x1="92.50" y1="169.50" x2="96.50" y2="173.50"/>
</g>
<rect x="74.50" y="169.50" width="18.00" height="4.00" fill="none" stroke="#00ffff" stroke-width="1.1" />
<clipPath id="c2082"><rect x="74.50" y="239.50" width="18.00" height="3.00"/></clipPath>
<g clip-path="url(#c2082)" stroke="#00ffff" stroke-width="0.9">
<line x1="62.50" y1="239.50" x2="65.50" y2="242.50"/>
<line x1="70.00" y1="239.50" x2="73.00" y2="242.50"/>
<line x1="77.50" y1="239.50" x2="80.50" y2="242.50"/>
<line x1="85.00" y1="239.50" x2="88.00" y2="242.50"/>
<line x1="92.50" y1="239.50" x2="95.50" y2="242.50"/>
</g>
<rect x="74.50" y="239.50" width="18.00" height="3.00" fill="none" stroke="#00ffff" stroke-width="1.1" />
<clipPath id="c2091"><rect x="74.50" y="297.50" width="18.00" height="4.00"/></clipPath>
<g clip-path="url(#c2091)" stroke="#00ffff" stroke-width="0.9">
<line x1="62.50" y1="297.50" x2="66.50" y2="301.50"/>
<line x1="70.00" y1="297.50" x2="74.00" y2="301.50"/>
<line x1="77.50" y1="297.50" x2="81.50" y2="301.50"/>
<line x1="85.00" y1="297.50" x2="89.00" y2="301.50"/>
<line x1="92.50" y1="297.50" x2="96.50" y2="301.50"/>
</g>
<rect x="74.50" y="297.50" width="18.00" height="4.00" fill="none" stroke="#00ffff" stroke-width="1.1" />
<clipPath id="c2100"><rect x="74.50" y="332.50" width="18.00" height="4.00"/></clipPath>
<g clip-path="url(#c2100)" stroke="#00ffff" stroke-width="0.9">
<line x1="62.50" y1="332.50" x2="66.50" y2="336.50"/>
<line x1="70.00" y1="332.50" x2="74.00" y2="336.50"/>
<line x1="77.50" y1="332.50" x2="81.50" y2="336.50"/>
<line x1="85.00" y1="332.50" x2="89.00" y2="336.50"/>
<line x1="92.50" y1="332.50" x2="96.50" y2="336.50"/>
</g>
<rect x="74.50" y="332.50" width="18.00" height="4.00" fill="none" stroke="#00ffff" stroke-width="1.1" />
<clipPath id="c2109"><rect x="74.50" y="426.50" width="17.00" height="4.00"/></clipPath>
<g clip-path="url(#c2109)" stroke="#00ffff" stroke-width="0.9">
<line x1="62.50" y1="426.50" x2="66.50" y2="430.50"/>
<line x1="70.00" y1="426.50" x2="74.00" y2="430.50"/>
<line x1="77.50" y1="426.50" x2="81.50" y2="430.50"/>
<line x1="85.00" y1="426.50" x2="89.00" y2="430.50"/>
</g>
<rect x="74.50" y="426.50" width="17.00" height="4.00" fill="none" stroke="#00ffff" stroke-width="1.1" />
<clipPath id="c2117"><rect x="74.50" y="487.50" width="17.00" height="4.00"/></clipPath>
<g clip-path="url(#c2117)" stroke="#00ffff" stroke-width="0.9">
<line x1="62.50" y1="487.50" x2="66.50" y2="491.50"/>
<line x1="70.00" y1="487.50" x2="74.00" y2="491.50"/>
<line x1="77.50" y1="487.50" x2="81.50" y2="491.50"/>
<line x1="85.00" y1="487.50" x2="89.00" y2="491.50"/>
</g>
<rect x="74.50" y="487.50" width="17.00" height="4.00" fill="none" stroke="#00ffff" stroke-width="1.1" />
<clipPath id="c2125"><rect x="74.50" y="547.50" width="17.00" height="3.00"/></clipPath>
<g clip-path="url(#c2125)" stroke="#00ffff" stroke-width="0.9">
<line x1="62.50" y1="547.50" x2="65.50" y2="550.50"/>
<line x1="70.00" y1="547.50" x2="73.00" y2="550.50"/>
<line x1="77.50" y1="547.50" x2="80.50" y2="550.50"/>
<line x1="85.00" y1="547.50" x2="88.00" y2="550.50"/>
</g>
<rect x="74.50" y="547.50" width="17.00" height="3.00" fill="none" stroke="#00ffff" stroke-width="1.1" />
<clipPath id="c2133"><rect x="74.50" y="574.50" width="17.00" height="3.00"/></clipPath>
<g clip-path="url(#c2133)" stroke="#00ffff" stroke-width="0.9">
<line x1="62.50" y1="574.50" x2="65.50" y2="577.50"/>
<line x1="70.00" y1="574.50" x2="73.00" y2="577.50"/>
<line x1="77.50" y1="574.50" x2="80.50" y2="577.50"/>
<line x1="85.00" y1="574.50" x2="88.00" y2="577.50"/>
</g>
<rect x="74.50" y="574.50" width="17.00" height="3.00" fill="none" stroke="#00ffff" stroke-width="1.1" />
<clipPath id="c2141"><rect x="74.50" y="635.50" width="18.00" height="4.00"/></clipPath>
<g clip-path="url(#c2141)" stroke="#00ffff" stroke-width="0.9">
<line x1="62.50" y1="635.50" x2="66.50" y2="639.50"/>
<line x1="70.00" y1="635.50" x2="74.00" y2="639.50"/>
<line x1="77.50" y1="635.50" x2="81.50" y2="639.50"/>
<line x1="85.00" y1="635.50" x2="89.00" y2="639.50"/>
<line x1="92.50" y1="635.50" x2="96.50" y2="639.50"/>
</g>
<rect x="74.50" y="635.50" width="18.00" height="4.00" fill="none" stroke="#00ffff" stroke-width="1.1" />
<polyline points="93.70,170.00 93.70,181.20 116.00,181.20 116.00,272.90" fill="none" stroke="#0000ff" stroke-width="1.9" stroke-linejoin="miter"/>
<line x1="92.70" y1="240.50" x2="355.80" y2="240.50" stroke="#ff00ff" stroke-width="1.0" />
<rect x="87.00" y="279.00" width="58.20" height="1.90" fill="#0000ff"/>
<rect x="92.70" y="298.80" width="263.70" height="2.00" fill="#ff00ff"/>
<polyline points="153.70,303.20 92.60,303.20 92.60,336.00" fill="none" stroke="#0000ff" stroke-width="1.3" stroke-linejoin="miter"/>
<polyline points="91.70,429.30 104.70,429.30 104.70,543.50" fill="none" stroke="#0000ff" stroke-width="1.4" stroke-linejoin="miter"/>
<polyline points="91.70,490.90 106.90,490.90 106.90,548.40" fill="none" stroke="#ff00ff" stroke-width="2.0" stroke-linejoin="miter"/>
<rect x="91.70" y="548.80" width="12.30" height="2.00" fill="#0000ff"/>
<rect x="102.70" y="555.40" width="2.40" height="20.20" fill="none" stroke="#0000ff" stroke-width="0.9" />
<rect x="91.70" y="574.00" width="13.10" height="2.00" fill="#0000ff"/>
<polyline points="93.00,638.00 93.00,645.40 121.60,645.40" fill="none" stroke="#0000ff" stroke-width="1.4" stroke-linejoin="miter"/>
<rect x="86.50" y="652.70" width="33.50" height="1.80" fill="#0000ff"/>
<rect x="120.00" y="652.70" width="2.00" height="23.30" fill="#0000ff"/>
<line x1="99.30" y1="675.60" x2="158.40" y2="675.60" stroke="#0000ff" stroke-width="1.1" />
<clipPath id="c2164"><rect x="96.50" y="678.50" width="4.00" height="17.00"/></clipPath>
<g clip-path="url(#c2164)" stroke="#00ffff" stroke-width="0.9">
<line x1="69.50" y1="678.50" x2="86.50" y2="695.50"/>
<line x1="77.00" y1="678.50" x2="94.00" y2="695.50"/>
<line x1="84.50" y1="678.50" x2="101.50" y2="695.50"/>
<line x1="92.00" y1="678.50" x2="109.00" y2="695.50"/>
<line x1="99.50" y1="678.50" x2="116.50" y2="695.50"/>
</g>
<rect x="96.50" y="678.50" width="4.00" height="17.00" fill="none" stroke="#00ffff" stroke-width="1.1" />
<clipPath id="c2173"><rect x="156.50" y="678.50" width="4.00" height="17.00"/></clipPath>
<g clip-path="url(#c2173)" stroke="#00ffff" stroke-width="0.9">
<line x1="129.50" y1="678.50" x2="146.50" y2="695.50"/>
<line x1="137.00" y1="678.50" x2="154.00" y2="695.50"/>
<line x1="144.50" y1="678.50" x2="161.50" y2="695.50"/>
<line x1="152.00" y1="678.50" x2="169.00" y2="695.50"/>
<line x1="159.50" y1="678.50" x2="176.50" y2="695.50"/>
</g>
<rect x="156.50" y="678.50" width="4.00" height="17.00" fill="none" stroke="#00ffff" stroke-width="1.1" />
</g>
<g id="rightside">
<rect x="681.20" y="346.20" width="2.10" height="6.80" fill="none" stroke="#0000ff" stroke-width="0.9" />
<clipPath id="c2185"><rect x="684.50" y="349.50" width="18.00" height="4.00"/></clipPath>
<g clip-path="url(#c2185)" stroke="#00ffff" stroke-width="0.9">
<line x1="672.50" y1="349.50" x2="676.50" y2="353.50"/>
<line x1="680.00" y1="349.50" x2="684.00" y2="353.50"/>
<line x1="687.50" y1="349.50" x2="691.50" y2="353.50"/>
<line x1="695.00" y1="349.50" x2="699.00" y2="353.50"/>
<line x1="702.50" y1="349.50" x2="706.50" y2="353.50"/>
</g>
<rect x="684.50" y="349.50" width="18.00" height="4.00" fill="none" stroke="#00ffff" stroke-width="1.1" />
<clipPath id="c2194"><rect x="684.50" y="392.50" width="18.00" height="3.00"/></clipPath>
<g clip-path="url(#c2194)" stroke="#00ffff" stroke-width="0.9">
<line x1="672.50" y1="392.50" x2="675.50" y2="395.50"/>
<line x1="680.00" y1="392.50" x2="683.00" y2="395.50"/>
<line x1="687.50" y1="392.50" x2="690.50" y2="395.50"/>
<line x1="695.00" y1="392.50" x2="698.00" y2="395.50"/>
<line x1="702.50" y1="392.50" x2="705.50" y2="395.50"/>
</g>
<rect x="684.50" y="392.50" width="18.00" height="3.00" fill="none" stroke="#00ffff" stroke-width="1.1" />
<rect x="679.30" y="395.30" width="1.90" height="15.70" fill="none" stroke="#00d060" stroke-width="0.8" />
<clipPath id="c2204"><rect x="684.50" y="465.50" width="18.00" height="3.00"/></clipPath>
<g clip-path="url(#c2204)" stroke="#00ffff" stroke-width="0.9">
<line x1="672.50" y1="465.50" x2="675.50" y2="468.50"/>
<line x1="680.00" y1="465.50" x2="683.00" y2="468.50"/>
<line x1="687.50" y1="465.50" x2="690.50" y2="468.50"/>
<line x1="695.00" y1="465.50" x2="698.00" y2="468.50"/>
<line x1="702.50" y1="465.50" x2="705.50" y2="468.50"/>
</g>
<rect x="684.50" y="465.50" width="18.00" height="3.00" fill="none" stroke="#00ffff" stroke-width="1.1" />
<rect x="679.40" y="465.30" width="2.40" height="18.10" fill="none" stroke="#0000ff" stroke-width="0.9" />
<rect x="679.40" y="484.60" width="2.40" height="12.40" fill="none" stroke="#0000ff" stroke-width="0.9" />
<rect x="679.40" y="498.00" width="2.40" height="10.00" fill="none" stroke="#0000ff" stroke-width="0.9" />
<clipPath id="c2216"><rect x="683.50" y="514.50" width="19.00" height="3.00"/></clipPath>
<g clip-path="url(#c2216)" stroke="#00ffff" stroke-width="0.9">
<line x1="671.50" y1="514.50" x2="674.50" y2="517.50"/>
<line x1="679.00" y1="514.50" x2="682.00" y2="517.50"/>
<line x1="686.50" y1="514.50" x2="689.50" y2="517.50"/>
<line x1="694.00" y1="514.50" x2="697.00" y2="517.50"/>
<line x1="701.50" y1="514.50" x2="704.50" y2="517.50"/>
</g>
<rect x="683.50" y="514.50" width="19.00" height="3.00" fill="none" stroke="#00ffff" stroke-width="1.1" />
</g>
<g id="center">
<rect x="152.30" y="246.40" width="3.00" height="16.10" fill="none" stroke="#ff0000" stroke-width="0.9" />
<rect x="152.30" y="280.50" width="3.00" height="16.10" fill="none" stroke="#ff0000" stroke-width="0.9" />
<rect x="170.60" y="246.40" width="3.80" height="16.10" fill="none" stroke="#ff0000" stroke-width="0.9" />
<rect x="170.60" y="280.50" width="3.80" height="16.10" fill="none" stroke="#ff0000" stroke-width="0.9" />
<rect x="182.70" y="246.40" width="3.70" height="16.10" fill="none" stroke="#ff0000" stroke-width="0.9" />
<rect x="182.70" y="280.50" width="3.70" height="16.10" fill="none" stroke="#ff0000" stroke-width="0.9" />
<rect x="200.80" y="246.40" width="4.00" height="16.10" fill="none" stroke="#ff0000" stroke-width="0.9" />
<rect x="200.80" y="280.50" width="4.00" height="16.10" fill="none" stroke="#ff0000" stroke-width="0.9" />
<rect x="159.80" y="246.40" width="2.20" height="19.20" fill="#ff0000"/>
<rect x="159.80" y="277.40" width="2.20" height="19.20" fill="#ff0000"/>
<rect x="189.50" y="246.40" width="2.20" height="19.20" fill="#ff0000"/>
<rect x="189.50" y="277.40" width="2.20" height="19.20" fill="#ff0000"/>
<line x1="167.20" y1="246.40" x2="167.20" y2="265.60" stroke="#ff0000" stroke-width="0.9" />
<line x1="167.20" y1="277.40" x2="167.20" y2="296.60" stroke="#ff0000" stroke-width="0.9" />
<line x1="178.90" y1="246.40" x2="178.90" y2="265.60" stroke="#ff0000" stroke-width="0.9" />
<line x1="178.90" y1="277.40" x2="178.90" y2="296.60" stroke="#ff0000" stroke-width="0.9" />
<line x1="196.90" y1="246.40" x2="196.90" y2="265.60" stroke="#ff0000" stroke-width="0.9" />
<line x1="196.90" y1="277.40" x2="196.90" y2="296.60" stroke="#ff0000" stroke-width="0.9" />
<line x1="209.40" y1="246.40" x2="209.40" y2="265.60" stroke="#ff0000" stroke-width="0.9" />
<line x1="209.40" y1="277.40" x2="209.40" y2="296.60" stroke="#ff0000" stroke-width="0.9" />
<line x1="211.50" y1="246.40" x2="211.50" y2="265.60" stroke="#ff0000" stroke-width="0.9" />
<line x1="211.50" y1="277.40" x2="211.50" y2="296.60" stroke="#ff0000" stroke-width="0.9" />
<line x1="215.70" y1="246.40" x2="215.70" y2="265.60" stroke="#ff0000" stroke-width="0.9" />
<line x1="215.70" y1="277.40" x2="215.70" y2="296.60" stroke="#ff0000" stroke-width="0.9" />
<rect x="165.20" y="246.40" width="1.70" height="6.20" fill="#00d060"/>
<rect x="165.20" y="290.40" width="1.70" height="6.20" fill="#00d060"/>
<rect x="195.20" y="246.40" width="1.70" height="6.20" fill="#00d060"/>
<rect x="195.20" y="290.40" width="1.70" height="6.20" fill="#00d060"/>
<rect x="171.90" y="253.40" width="2.80" height="9.20" fill="#0000ff"/>
<rect x="171.90" y="280.40" width="2.80" height="9.20" fill="#0000ff"/>
<rect x="183.20" y="253.40" width="2.80" height="9.20" fill="#0000ff"/>
<rect x="183.20" y="280.40" width="2.80" height="9.20" fill="#0000ff"/>
<rect x="202.30" y="253.40" width="2.50" height="9.20" fill="#0000ff"/>
<rect x="202.30" y="280.40" width="2.50" height="9.20" fill="#0000ff"/>
<rect x="152.00" y="260.40" width="2.90" height="2.90" fill="#0000ff"/>
<rect x="152.00" y="279.70" width="2.90" height="2.90" fill="#0000ff"/>
<rect x="151.30" y="253.40" width="19.10" height="2.10" fill="#ff00ff"/>
<rect x="151.30" y="287.50" width="19.10" height="2.10" fill="#ff00ff"/>
<rect x="181.00" y="253.40" width="27.70" height="1.60" fill="#ff00ff"/>
<rect x="181.00" y="288.00" width="27.70" height="1.60" fill="#ff00ff"/>
<rect x="151.30" y="259.00" width="14.90" height="1.80" fill="#ff00ff"/>
<rect x="151.30" y="282.20" width="14.90" height="1.80" fill="#ff00ff"/>
<rect x="178.00" y="259.80" width="3.00" height="1.00" fill="#ff00ff"/>
<rect x="178.00" y="282.20" width="3.00" height="1.00" fill="#ff00ff"/>
<rect x="159.80" y="255.80" width="48.90" height="1.20" fill="#00ffff"/>
<rect x="159.80" y="286.00" width="48.90" height="1.20" fill="#00ffff"/>
<rect x="180.00" y="259.70" width="30.80" height="2.20" fill="#00ffff"/>
<rect x="180.00" y="281.10" width="30.80" height="2.20" fill="#00ffff"/>
<rect x="155.00" y="267.20" width="15.00" height="0.80" fill="#ff0000"/>
<rect x="155.00" y="275.00" width="15.00" height="0.80" fill="#ff0000"/>
<rect x="174.00" y="267.20" width="6.00" height="0.80" fill="#ff0000"/>
<rect x="174.00" y="275.00" width="6.00" height="0.80" fill="#ff0000"/>
<rect x="186.00" y="267.20" width="13.00" height="0.80" fill="#ff0000"/>
<rect x="186.00" y="275.00" width="13.00" height="0.80" fill="#ff0000"/>
<rect x="204.00" y="267.20" width="6.00" height="0.80" fill="#ff0000"/>
<rect x="204.00" y="275.00" width="6.00" height="0.80" fill="#ff0000"/>
<rect x="220.30" y="246.40" width="3.00" height="16.10" fill="none" stroke="#ff0000" stroke-width="0.9" />
<rect x="220.30" y="280.50" width="3.00" height="16.10" fill="none" stroke="#ff0000" stroke-width="0.9" />
<rect x="238.60" y="246.40" width="3.80" height="16.10" fill="none" stroke="#ff0000" stroke-width="0.9" />
<rect x="238.60" y="280.50" width="3.80" height="16.10" fill="none" stroke="#ff0000" stroke-width="0.9" />
<rect x="250.70" y="246.40" width="3.70" height="16.10" fill="none" stroke="#ff0000" stroke-width="0.9" />
<rect x="250.70" y="280.50" width="3.70" height="16.10" fill="none" stroke="#ff0000" stroke-width="0.9" />
<rect x="268.80" y="246.40" width="4.00" height="16.10" fill="none" stroke="#ff0000" stroke-width="0.9" />
<rect x="268.80" y="280.50" width="4.00" height="16.10" fill="none" stroke="#ff0000" stroke-width="0.9" />
<rect x="227.80" y="246.40" width="2.20" height="19.20" fill="#ff0000"/>
<rect x="227.80" y="277.40" width="2.20" height="19.20" fill="#ff0000"/>
<rect x="257.50" y="246.40" width="2.20" height="19.20" fill="#ff0000"/>
<rect x="257.50" y="277.40" width="2.20" height="19.20" fill="#ff0000"/>
<line x1="235.20" y1="246.40" x2="235.20" y2="265.60" stroke="#ff0000" stroke-width="0.9" />
<line x1="235.20" y1="277.40" x2="235.20" y2="296.60" stroke="#ff0000" stroke-width="0.9" />
<line x1="246.90" y1="246.40" x2="246.90" y2="265.60" stroke="#ff0000" stroke-width="0.9" />
<line x1="246.90" y1="277.40" x2="246.90" y2="296.60" stroke="#ff0000" stroke-width="0.9" />
<line x1="264.90" y1="246.40" x2="264.90" y2="265.60" stroke="#ff0000" stroke-width="0.9" />
<line x1="264.90" y1="277.40" x2="264.90" y2="296.60" stroke="#ff0000" stroke-width="0.9" />
<line x1="277.40" y1="246.40" x2="277.40" y2="265.60" stroke="#ff0000" stroke-width="0.9" />
<line x1="277.40" y1="277.40" x2="277.40" y2="296.60" stroke="#ff0000" stroke-width="0.9" />
<line x1="279.50" y1="246.40" x2="279.50" y2="265.60" stroke="#ff0000" stroke-width="0.9" />
<line x1="279.50" y1="277.40" x2="279.50" y2="296.60" stroke="#ff0000" stroke-width="0.9" />
<line x1="283.70" y1="246.40" x2="283.70" y2="265.60" stroke="#ff0000" stroke-width="0.9" />
<line x1="283.70" y1="277.40" x2="283.70" y2="296.60" stroke="#ff0000" stroke-width="0.9" />
<rect x="233.20" y="246.40" width="1.70" height="6.20" fill="#00d060"/>
<rect x="233.20" y="290.40" width="1.70" height="6.20" fill="#00d060"/>
<rect x="263.20" y="246.40" width="1.70" height="6.20" fill="#00d060"/>
<rect x="263.20" y="290.40" width="1.70" height="6.20" fill="#00d060"/>
<rect x="239.90" y="253.40" width="2.80" height="9.20" fill="#0000ff"/>
<rect x="239.90" y="280.40" width="2.80" height="9.20" fill="#0000ff"/>
<rect x="251.20" y="253.40" width="2.80" height="9.20" fill="#0000ff"/>
<rect x="251.20" y="280.40" width="2.80" height="9.20" fill="#0000ff"/>
<rect x="270.30" y="253.40" width="2.50" height="9.20" fill="#0000ff"/>
<rect x="270.30" y="280.40" width="2.50" height="9.20" fill="#0000ff"/>
<rect x="220.00" y="260.40" width="2.90" height="2.90" fill="#0000ff"/>
<rect x="220.00" y="279.70" width="2.90" height="2.90" fill="#0000ff"/>
<rect x="219.30" y="253.40" width="19.10" height="2.10" fill="#ff00ff"/>
<rect x="219.30" y="287.50" width="19.10" height="2.10" fill="#ff00ff"/>
<rect x="249.00" y="253.40" width="27.70" height="1.60" fill="#ff00ff"/>
<rect x="249.00" y="288.00" width="27.70" height="1.60" fill="#ff00ff"/>
<rect x="219.30" y="259.00" width="14.90" height="1.80" fill="#ff00ff"/>
<rect x="219.30" y="282.20" width="14.90" height="1.80" fill="#ff00ff"/>
<rect x="246.00" y="259.80" width="3.00" height="1.00" fill="#ff00ff"/>
<rect x="246.00" y="282.20" width="3.00" height="1.00" fill="#ff00ff"/>
<rect x="227.80" y="255.80" width="48.90" height="1.20" fill="#00ffff"/>
<rect x="227.80" y="286.00" width="48.90" height="1.20" fill="#00ffff"/>
<rect x="248.00" y="259.70" width="30.80" height="2.20" fill="#00ffff"/>
<rect x="248.00" y="281.10" width="30.80" height="2.20" fill="#00ffff"/>
<rect x="223.00" y="267.20" width="15.00" height="0.80" fill="#ff0000"/>
<rect x="223.00" y="275.00" width="15.00" height="0.80" fill="#ff0000"/>
<rect x="242.00" y="267.20" width="6.00" height="0.80" fill="#ff0000"/>
<rect x="242.00" y="275.00" width="6.00" height="0.80" fill="#ff0000"/>
<rect x="254.00" y="267.20" width="13.00" height="0.80" fill="#ff0000"/>
<rect x="254.00" y="275.00" width="13.00" height="0.80" fill="#ff0000"/>
<rect x="272.00" y="267.20" width="6.00" height="0.80" fill="#ff0000"/>
<rect x="272.00" y="275.00" width="6.00" height="0.80" fill="#ff0000"/>
<rect x="288.60" y="246.40" width="3.00" height="16.10" fill="none" stroke="#ff0000" stroke-width="0.9" />
<rect x="288.60" y="280.50" width="3.00" height="16.10" fill="none" stroke="#ff0000" stroke-width="0.9" />
<rect x="306.90" y="246.40" width="3.80" height="16.10" fill="none" stroke="#ff0000" stroke-width="0.9" />
<rect x="306.90" y="280.50" width="3.80" height="16.10" fill="none" stroke="#ff0000" stroke-width="0.9" />
<rect x="319.00" y="246.40" width="3.70" height="16.10" fill="none" stroke="#ff0000" stroke-width="0.9" />
<rect x="319.00" y="280.50" width="3.70" height="16.10" fill="none" stroke="#ff0000" stroke-width="0.9" />
<rect x="337.10" y="246.40" width="4.00" height="16.10" fill="none" stroke="#ff0000" stroke-width="0.9" />
<rect x="337.10" y="280.50" width="4.00" height="16.10" fill="none" stroke="#ff0000" stroke-width="0.9" />
<rect x="296.10" y="246.40" width="2.20" height="19.20" fill="#ff0000"/>
<rect x="296.10" y="277.40" width="2.20" height="19.20" fill="#ff0000"/>
<rect x="325.80" y="246.40" width="2.20" height="19.20" fill="#ff0000"/>
<rect x="325.80" y="277.40" width="2.20" height="19.20" fill="#ff0000"/>
<line x1="303.50" y1="246.40" x2="303.50" y2="265.60" stroke="#ff0000" stroke-width="0.9" />
<line x1="303.50" y1="277.40" x2="303.50" y2="296.60" stroke="#ff0000" stroke-width="0.9" />
<line x1="315.20" y1="246.40" x2="315.20" y2="265.60" stroke="#ff0000" stroke-width="0.9" />
<line x1="315.20" y1="277.40" x2="315.20" y2="296.60" stroke="#ff0000" stroke-width="0.9" />
<line x1="333.20" y1="246.40" x2="333.20" y2="265.60" stroke="#ff0000" stroke-width="0.9" />
<line x1="333.20" y1="277.40" x2="333.20" y2="296.60" stroke="#ff0000" stroke-width="0.9" />
<line x1="345.70" y1="246.40" x2="345.70" y2="265.60" stroke="#ff0000" stroke-width="0.9" />
<line x1="345.70" y1="277.40" x2="345.70" y2="296.60" stroke="#ff0000" stroke-width="0.9" />
<line x1="347.80" y1="246.40" x2="347.80" y2="265.60" stroke="#ff0000" stroke-width="0.9" />
<line x1="347.80" y1="277.40" x2="347.80" y2="296.60" stroke="#ff0000" stroke-width="0.9" />
<line x1="352.00" y1="246.40" x2="352.00" y2="265.60" stroke="#ff0000" stroke-width="0.9" />
<line x1="352.00" y1="277.40" x2="352.00" y2="296.60" stroke="#ff0000" stroke-width="0.9" />
<rect x="301.50" y="246.40" width="1.70" height="6.20" fill="#00d060"/>
<rect x="301.50" y="290.40" width="1.70" height="6.20" fill="#00d060"/>
<rect x="331.50" y="246.40" width="1.70" height="6.20" fill="#00d060"/>
<rect x="331.50" y="290.40" width="1.70" height="6.20" fill="#00d060"/>
<rect x="308.20" y="253.40" width="2.80" height="9.20" fill="#0000ff"/>
<rect x="308.20" y="280.40" width="2.80" height="9.20" fill="#0000ff"/>
<rect x="319.50" y="253.40" width="2.80" height="9.20" fill="#0000ff"/>
<rect x="319.50" y="280.40" width="2.80" height="9.20" fill="#0000ff"/>
<rect x="338.60" y="253.40" width="2.50" height="9.20" fill="#0000ff"/>
<rect x="338.60" y="280.40" width="2.50" height="9.20" fill="#0000ff"/>
<rect x="288.30" y="260.40" width="2.90" height="2.90" fill="#0000ff"/>
<rect x="288.30" y="279.70" width="2.90" height="2.90" fill="#0000ff"/>
<rect x="287.60" y="253.40" width="19.10" height="2.10" fill="#ff00ff"/>
<rect x="287.60" y="287.50" width="19.10" height="2.10" fill="#ff00ff"/>
<rect x="317.30" y="253.40" width="27.70" height="1.60" fill="#ff00ff"/>
<rect x="317.30" y="288.00" width="27.70" height="1.60" fill="#ff00ff"/>
<rect x="287.60" y="259.00" width="14.90" height="1.80" fill="#ff00ff"/>
<rect x="287.60" y="282.20" width="14.90" height="1.80" fill="#ff00ff"/>
<rect x="314.30" y="259.80" width="3.00" height="1.00" fill="#ff00ff"/>
<rect x="314.30" y="282.20" width="3.00" height="1.00" fill="#ff00ff"/>
<rect x="296.10" y="255.80" width="48.90" height="1.20" fill="#00ffff"/>
<rect x="296.10" y="286.00" width="48.90" height="1.20" fill="#00ffff"/>
<rect x="316.30" y="259.70" width="30.80" height="2.20" fill="#00ffff"/>
<rect x="316.30" y="281.10" width="30.80" height="2.20" fill="#00ffff"/>
<rect x="291.30" y="267.20" width="15.00" height="0.80" fill="#ff0000"/>
<rect x="291.30" y="275.00" width="15.00" height="0.80" fill="#ff0000"/>
<rect x="310.30" y="267.20" width="6.00" height="0.80" fill="#ff0000"/>
<rect x="310.30" y="275.00" width="6.00" height="0.80" fill="#ff0000"/>
<rect x="322.30" y="267.20" width="13.00" height="0.80" fill="#ff0000"/>
<rect x="322.30" y="275.00" width="13.00" height="0.80" fill="#ff0000"/>
<rect x="340.30" y="267.20" width="6.00" height="0.80" fill="#ff0000"/>
<rect x="340.30" y="275.00" width="6.00" height="0.80" fill="#ff0000"/>
<line x1="152.00" y1="266.60" x2="352.00" y2="266.60" stroke="#0000ff" stroke-width="1.0" />
<line x1="152.00" y1="275.30" x2="352.00" y2="275.30" stroke="#0000ff" stroke-width="1.0" />
<rect x="144.20" y="244.00" width="207.80" height="1.80" fill="#0000ff"/>
<rect x="144.20" y="244.00" width="1.80" height="15.90" fill="#0000ff"/>
<rect x="152.00" y="295.80" width="200.00" height="2.40" fill="#0000ff"/>
<line x1="353.30" y1="244.00" x2="353.30" y2="298.00" stroke="#ff0000" stroke-width="1.0" />
<line x1="355.90" y1="240.50" x2="355.90" y2="300.50" stroke="#ff00ff" stroke-width="1.1" />
<rect x="148.50" y="268.90" width="137.80" height="5.30" fill="#ff00ff"/>
<rect x="287.00" y="270.20" width="55.70" height="2.00" fill="#0000ff"/>
<rect x="344.20" y="269.80" width="8.30" height="3.10" fill="#ff00ff"/>
<rect x="148.00" y="259.00" width="2.00" height="23.00" fill="#ff00ff"/>
<rect x="217.20" y="260.00" width="1.70" height="22.70" fill="#ff00ff"/>
<line x1="286.40" y1="260.00" x2="286.40" y2="281.70" stroke="#ff00ff" stroke-width="0.9" />
<rect x="155.00" y="297.30" width="15.00" height="1.00" fill="#ff0000"/>
<rect x="186.00" y="297.30" width="13.00" height="1.00" fill="#ff0000"/>
<rect x="165.40" y="297.60" width="1.60" height="1.40" fill="#00d060"/>
<rect x="195.40" y="297.60" width="1.60" height="1.40" fill="#00d060"/>
<rect x="222.50" y="297.30" width="15.00" height="1.00" fill="#ff0000"/>
<rect x="253.50" y="297.30" width="13.00" height="1.00" fill="#ff0000"/>
<rect x="232.90" y="297.60" width="1.60" height="1.40" fill="#00d060"/>
<rect x="262.90" y="297.60" width="1.60" height="1.40" fill="#00d060"/>
<rect x="290.00" y="297.30" width="15.00" height="1.00" fill="#ff0000"/>
<rect x="321.00" y="297.30" width="13.00" height="1.00" fill="#ff0000"/>
<rect x="300.40" y="297.60" width="1.60" height="1.40" fill="#00d060"/>
<rect x="330.40" y="297.60" width="1.60" height="1.40" fill="#00d060"/>
<rect x="357.40" y="244.30" width="2.30" height="53.30" fill="none" stroke="#0000ff" stroke-width="0.9" />
<rect x="353.30" y="256.30" width="1.80" height="30.10" fill="#00ffff"/>
<rect x="353.30" y="256.30" width="1.80" height="7.20" fill="#fff"/>
<g class="t" fill="#fff" stroke="#fff" stroke-width="0.25">
<text transform="translate(365.50,257.00) scale(-1,1)" x="0" y="0" font-size="8.5" font-weight="normal" fill="#fff" textLength="10.5" lengthAdjust="spacingAndGlyphs">o&#9547;</text>
<text transform="translate(361.00,264.60) scale(-1,1)" x="0" y="0" font-size="8.5" font-weight="normal" fill="#fff" textLength="6" lengthAdjust="spacingAndGlyphs">&#9547;</text>
<text transform="translate(274.20,242.10) scale(-1,1)" x="0" y="0" font-size="10.5" font-weight="normal" fill="#fff" textLength="22.8" lengthAdjust="spacingAndGlyphs">vdd!</text>
<text transform="translate(119.20,279.20) scale(-1,1)" x="0" y="0" font-size="8.6" font-weight="normal" fill="#fff" textLength="23.2" lengthAdjust="spacingAndGlyphs">Detect</text>
<line x1="108.60" y1="272.20" x2="108.60" y2="281.00" stroke="#fff" stroke-width="0.9" />
</g>
<rect x="120.00" y="256.70" width="25.20" height="1.30" fill="#ff0000"/>
<rect x="120.00" y="258.00" width="26.00" height="1.90" fill="#0000ff"/>
<rect x="120.00" y="256.70" width="1.10" height="22.50" fill="#ff0000"/>
<rect x="123.20" y="260.30" width="1.60" height="7.20" fill="#00d060"/>
<line x1="126.90" y1="260.20" x2="126.90" y2="267.20" stroke="#ff0000" stroke-width="0.9" />
<line x1="131.00" y1="260.20" x2="131.00" y2="267.20" stroke="#ff0000" stroke-width="0.9" />
<line x1="134.70" y1="260.20" x2="134.70" y2="267.20" stroke="#ff0000" stroke-width="0.9" />
<line x1="138.70" y1="260.20" x2="138.70" y2="267.20" stroke="#ff0000" stroke-width="0.9" />
<line x1="142.50" y1="260.20" x2="142.50" y2="267.20" stroke="#ff0000" stroke-width="0.9" />
<line x1="145.30" y1="260.20" x2="145.30" y2="267.20" stroke="#ff0000" stroke-width="0.9" />
<rect x="124.00" y="267.00" width="20.20" height="1.90" fill="#0000ff"/>
<line x1="126.20" y1="269.00" x2="126.20" y2="275.00" stroke="#ff0000" stroke-width="0.9" />
<line x1="129.70" y1="269.00" x2="129.70" y2="275.00" stroke="#ff0000" stroke-width="0.9" />
<line x1="133.30" y1="269.00" x2="133.30" y2="275.00" stroke="#ff0000" stroke-width="0.9" />
<line x1="136.90" y1="269.00" x2="136.90" y2="275.00" stroke="#ff0000" stroke-width="0.9" />
<polygon points="126.9,275.7 126.9,273.2 145.9,269.6 145.9,275.7" fill="#0000ff"/>
<rect x="124.00" y="269.00" width="1.60" height="7.00" fill="#0000ff"/>
<rect x="124.00" y="273.80" width="21.90" height="2.00" fill="#0000ff"/>
<rect x="124.40" y="276.00" width="1.00" height="3.00" fill="#ff0000"/>
<rect x="120.00" y="281.20" width="4.80" height="0.80" fill="#ff0000"/>
<rect x="144.80" y="279.00" width="1.10" height="2.00" fill="#ff0000"/>
<polyline points="92.60,303.20 153.70,303.20 153.70,298.20" fill="none" stroke="#0000ff" stroke-width="1.2" stroke-linejoin="miter"/>
</g>
<line x1="751.50" y1="0.00" x2="751.50" y2="763.00" stroke="#fff" stroke-width="1.3" />
</svg>
</body></html>
